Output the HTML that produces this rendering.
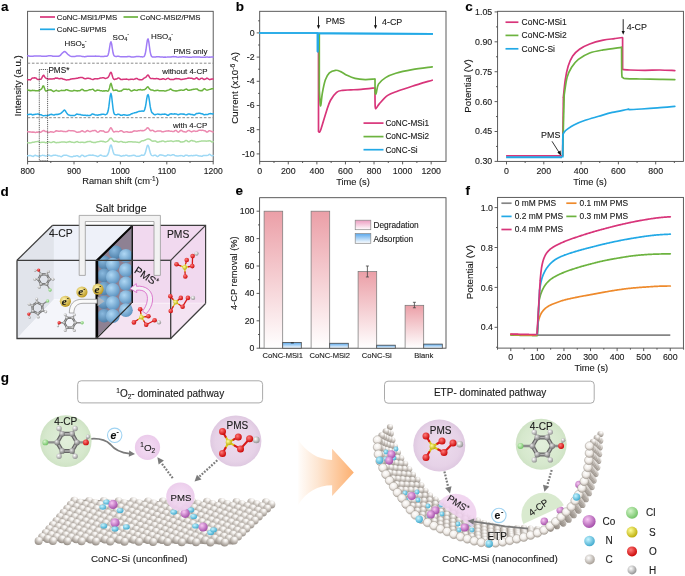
<!DOCTYPE html>
<html><head><meta charset="utf-8"><style>
html,body{margin:0;padding:0;background:#fff;}
svg{display:block;font-family:"Liberation Sans", sans-serif;will-change:transform;}
text{stroke:#1a1a1a;stroke-width:0.12px;}
</style></head><body>
<svg width="685" height="576" viewBox="0 0 685 576">
<rect width="685" height="576" fill="#fff"/>
<defs><radialGradient id="rC" cx="0.38" cy="0.35" r="0.7"><stop offset="0" stop-color="#e6e6e6"/><stop offset="1" stop-color="#6a6a6a"/></radialGradient><radialGradient id="rH" cx="0.38" cy="0.35" r="0.7"><stop offset="0" stop-color="#ffffff"/><stop offset="1" stop-color="#8c8c8c"/></radialGradient><radialGradient id="rO" cx="0.38" cy="0.35" r="0.7"><stop offset="0" stop-color="#ff7a7a"/><stop offset="1" stop-color="#c80000"/></radialGradient><radialGradient id="rCl" cx="0.38" cy="0.35" r="0.7"><stop offset="0" stop-color="#d6f5cc"/><stop offset="1" stop-color="#6cc060"/></radialGradient><radialGradient id="rS" cx="0.38" cy="0.35" r="0.7"><stop offset="0" stop-color="#ffff9a"/><stop offset="1" stop-color="#b8a800"/></radialGradient><radialGradient id="rE" cx="0.38" cy="0.35" r="0.7"><stop offset="0" stop-color="#fff4b0"/><stop offset="1" stop-color="#b89418"/></radialGradient><radialGradient id="rB" cx="0.38" cy="0.35" r="0.7"><stop offset="0" stop-color="#b0d8f4"/><stop offset="1" stop-color="#5a92c0"/></radialGradient><radialGradient id="rBd" cx="0.38" cy="0.35" r="0.7"><stop offset="0" stop-color="#8ab9de"/><stop offset="1" stop-color="#4a7ca6"/></radialGradient><radialGradient id="rCo" cx="0.38" cy="0.35" r="0.7"><stop offset="0" stop-color="#f8c8f4"/><stop offset="1" stop-color="#a048a6"/></radialGradient><radialGradient id="rN" cx="0.38" cy="0.35" r="0.7"><stop offset="0" stop-color="#c6f4ff"/><stop offset="1" stop-color="#3aa6cc"/></radialGradient><radialGradient id="rL" cx="0.38" cy="0.35" r="0.7"><stop offset="0" stop-color="#ffffff"/><stop offset="1" stop-color="#a39a91"/></radialGradient><radialGradient id="rLt" cx="0.62" cy="0.22" r="0.85"><stop offset="0" stop-color="#ffffff"/><stop offset="0.2" stop-color="#f2efec"/><stop offset="0.5" stop-color="#c8c2bc"/><stop offset="1" stop-color="#8a827a"/></radialGradient><radialGradient id="rLf" cx="0.45" cy="0.35" r="0.65"><stop offset="0" stop-color="#ffffff"/><stop offset="0.55" stop-color="#f1ede9"/><stop offset="1" stop-color="#b4aca4"/></radialGradient></defs>
<text x="0.90" y="10.90" font-size="13.5" text-anchor="start" font-weight="bold" fill="#000" >a</text>
<text x="235.80" y="11.10" font-size="13.5" text-anchor="start" font-weight="bold" fill="#000" >b</text>
<text x="465.20" y="10.70" font-size="13.5" text-anchor="start" font-weight="bold" fill="#000" >c</text>
<text x="0.60" y="195.50" font-size="13.5" text-anchor="start" font-weight="bold" fill="#000" >d</text>
<text x="235.60" y="194.60" font-size="13.5" text-anchor="start" font-weight="bold" fill="#000" >e</text>
<text x="465.60" y="194.90" font-size="13.5" text-anchor="start" font-weight="bold" fill="#000" >f</text>
<text x="0.80" y="381.50" font-size="13.5" text-anchor="start" font-weight="bold" fill="#000" >g</text>
<rect x="27.60" y="11.30" width="185.60" height="150.10" fill="none" stroke="#4a4a4a" stroke-width="0.9" />
<line x1="27.60" y1="161.40" x2="27.60" y2="164.40" stroke="#4a4a4a" stroke-width="0.9" />
<line x1="50.80" y1="161.40" x2="50.80" y2="163.00" stroke="#4a4a4a" stroke-width="0.9" />
<line x1="74.00" y1="161.40" x2="74.00" y2="164.40" stroke="#4a4a4a" stroke-width="0.9" />
<line x1="97.20" y1="161.40" x2="97.20" y2="163.00" stroke="#4a4a4a" stroke-width="0.9" />
<line x1="120.40" y1="161.40" x2="120.40" y2="164.40" stroke="#4a4a4a" stroke-width="0.9" />
<line x1="143.60" y1="161.40" x2="143.60" y2="163.00" stroke="#4a4a4a" stroke-width="0.9" />
<line x1="166.80" y1="161.40" x2="166.80" y2="164.40" stroke="#4a4a4a" stroke-width="0.9" />
<line x1="190.00" y1="161.40" x2="190.00" y2="163.00" stroke="#4a4a4a" stroke-width="0.9" />
<line x1="213.20" y1="161.40" x2="213.20" y2="164.40" stroke="#4a4a4a" stroke-width="0.9" />
<text x="27.60" y="173.50" font-size="8.5" text-anchor="middle" font-weight="normal" fill="#1a1a1a" >800</text>
<text x="74.00" y="173.50" font-size="8.5" text-anchor="middle" font-weight="normal" fill="#1a1a1a" >900</text>
<text x="120.40" y="173.50" font-size="8.5" text-anchor="middle" font-weight="normal" fill="#1a1a1a" >1000</text>
<text x="166.80" y="173.50" font-size="8.5" text-anchor="middle" font-weight="normal" fill="#1a1a1a" >1100</text>
<text x="213.20" y="173.50" font-size="8.5" text-anchor="middle" font-weight="normal" fill="#1a1a1a" >1200</text>
<text x="120.5" y="183.8" font-size="9.3" text-anchor="middle" fill="#1a1a1a">Raman shift (cm<tspan dy="-3.2" font-size="6.5">-1</tspan><tspan dy="3.2">)</tspan></text>
<text transform="translate(20.80,85.80) rotate(-90)" x="0" y="0" font-size="9.6" text-anchor="middle" fill="#1a1a1a">Intensity (a.u.)</text>
<line x1="40.00" y1="17.00" x2="55.00" y2="17.00" stroke="#d8357a" stroke-width="1.7" />
<line x1="123.50" y1="17.00" x2="138.00" y2="17.00" stroke="#6cb33f" stroke-width="1.7" />
<line x1="40.00" y1="29.30" x2="55.00" y2="29.30" stroke="#22a9e6" stroke-width="1.7" />
<text x="56.80" y="19.90" font-size="7.75" text-anchor="start" font-weight="normal" fill="#1a1a1a" >CoNC-MSi1/PMS</text>
<text x="140.10" y="19.90" font-size="7.75" text-anchor="start" font-weight="normal" fill="#1a1a1a" >CoNC-MSi2/PMS</text>
<text x="56.80" y="32.00" font-size="7.75" text-anchor="start" font-weight="normal" fill="#1a1a1a" >CoNC-Si/PMS</text>
<polyline points="27.60,55.75 28.30,55.83 29.00,56.00 29.70,56.21 30.40,56.31 31.10,56.28 31.80,56.24 32.50,56.26 33.20,56.17 33.90,56.09 34.60,56.00 35.30,55.89 36.00,55.90 36.70,55.95 37.41,56.04 38.11,56.11 38.81,56.01 39.51,56.08 40.21,56.08 40.91,56.10 41.61,56.13 42.31,56.20 43.01,56.21 43.71,56.23 44.41,56.25 45.11,56.25 45.81,56.36 46.51,56.24 47.21,56.02 47.91,55.89 48.61,55.85 49.31,55.83 50.01,55.81 50.71,55.82 51.41,55.87 52.11,56.06 52.81,56.27 53.51,56.35 54.21,56.34 54.91,56.23 55.62,56.18 56.32,56.17 57.02,56.21 57.72,56.28 58.42,56.29 59.12,56.09 59.82,55.75 60.52,55.13 61.22,54.34 61.92,53.59 62.62,52.85 63.32,52.24 64.02,51.67 64.72,51.50 65.42,51.85 66.12,52.49 66.82,53.28 67.52,54.06 68.22,54.73 68.92,55.18 69.62,55.62 70.32,56.07 71.02,56.37 71.72,56.53 72.42,56.58 73.12,56.53 73.82,56.57 74.53,56.57 75.23,56.41 75.93,56.17 76.63,56.06 77.33,55.99 78.03,55.97 78.73,56.01 79.43,56.04 80.13,56.00 80.83,56.13 81.53,56.28 82.23,56.41 82.93,56.40 83.63,56.57 84.33,56.67 85.03,56.67 85.73,56.54 86.43,56.47 87.13,56.34 87.83,56.30 88.53,56.24 89.23,56.24 89.93,56.19 90.63,56.24 91.33,56.27 92.03,56.36 92.74,56.32 93.44,56.28 94.14,56.25 94.84,56.16 95.54,56.10 96.24,56.20 96.94,56.20 97.64,56.30 98.34,56.30 99.04,56.33 99.74,56.37 100.44,56.38 101.14,56.48 101.84,56.41 102.54,56.51 103.24,56.53 103.94,56.44 104.64,56.33 105.34,56.36 106.04,56.36 106.74,56.26 107.44,55.90 108.14,54.78 108.84,52.14 109.54,47.83 110.24,43.50 110.94,41.75 111.65,43.97 112.35,48.55 113.05,52.80 113.75,55.17 114.45,56.14 115.15,56.36 115.85,56.45 116.55,56.45 117.25,56.29 117.95,56.25 118.65,56.24 119.35,56.42 120.05,56.63 120.75,56.78 121.45,56.81 122.15,56.81 122.85,56.75 123.55,56.71 124.25,56.65 124.95,56.73 125.65,56.74 126.35,56.74 127.05,56.74 127.75,56.55 128.45,56.49 129.15,56.40 129.86,56.55 130.56,56.85 131.26,56.96 131.96,57.04 132.66,57.00 133.36,56.99 134.06,56.93 134.76,56.87 135.46,56.68 136.16,56.55 136.86,56.45 137.56,56.52 138.26,56.58 138.96,56.55 139.66,56.62 140.36,56.65 141.06,56.76 141.76,56.84 142.46,56.93 143.16,56.87 143.86,56.65 144.56,55.82 145.26,53.84 145.96,49.99 146.66,44.65 147.36,40.07 148.06,38.79 148.77,41.69 149.47,46.93 150.17,51.86 150.87,54.92 151.57,56.42 152.27,56.89 152.97,56.98 153.67,57.02 154.37,56.99 155.07,56.89 155.77,56.91 156.47,56.76 157.17,56.68 157.87,56.75 158.57,56.72 159.27,56.83 159.97,56.96 160.67,56.93 161.37,56.97 162.07,57.06 162.77,57.11 163.47,57.17 164.17,57.10 164.87,57.18 165.57,57.12 166.27,57.13 166.98,57.03 167.68,56.90 168.38,56.89 169.08,56.94 169.78,56.93 170.48,57.00 171.18,56.89 171.88,56.75 172.58,56.72 173.28,56.59 173.98,56.66 174.68,56.71 175.38,56.75 176.08,56.75 176.78,56.95 177.48,57.12 178.18,57.22 178.88,57.12 179.58,57.05 180.28,56.99 180.98,56.98 181.68,56.91 182.38,56.87 183.08,56.81 183.78,56.76 184.48,56.86 185.18,56.94 185.89,57.02 186.59,57.02 187.29,57.08 187.99,57.20 188.69,57.18 189.39,57.20 190.09,57.20 190.79,57.23 191.49,57.17 192.19,57.12 192.89,57.05 193.59,56.98 194.29,57.03 194.99,57.05 195.69,57.01 196.39,57.03 197.09,57.06 197.79,57.09 198.49,57.11 199.19,57.09 199.89,57.10 200.59,57.20 201.29,57.25 201.99,57.32 202.69,57.23 203.39,57.17 204.10,57.18 204.80,57.13 205.50,57.16 206.20,57.10 206.90,57.12 207.60,57.06 208.30,57.13 209.00,57.19 209.70,57.12 210.40,57.15 211.10,56.95 211.80,56.91 212.50,56.92 213.20,56.91" fill="none" stroke="#a07cf6" stroke-width="1.5" stroke-linejoin="round" stroke-linecap="round" />
<polyline points="27.60,79.83 28.30,79.74 29.00,79.70 29.70,79.79 30.40,79.89 31.10,79.28 31.80,78.32 32.50,78.00 33.20,77.90 33.90,77.98 34.60,77.76 35.30,77.96 36.00,77.96 36.70,78.76 37.41,79.23 38.11,79.44 38.81,79.60 39.51,79.26 40.21,79.30 40.91,79.24 41.61,78.37 42.31,76.90 43.01,75.58 43.71,75.24 44.41,76.47 45.11,77.42 45.81,78.09 46.51,78.34 47.21,78.78 47.91,78.81 48.61,79.16 49.31,78.85 50.01,79.09 50.71,78.85 51.41,78.92 52.11,79.09 52.81,78.85 53.51,78.85 54.21,78.88 54.91,78.44 55.62,77.99 56.32,78.18 57.02,78.04 57.72,78.24 58.42,78.53 59.12,78.65 59.82,78.67 60.52,78.42 61.22,78.48 61.92,78.45 62.62,78.84 63.32,79.22 64.02,79.33 64.72,79.50 65.42,79.67 66.12,79.91 66.82,79.91 67.52,79.81 68.22,79.69 68.92,79.80 69.62,79.62 70.32,79.26 71.02,79.02 71.72,78.98 72.42,78.69 73.12,78.76 73.82,78.62 74.53,78.63 75.23,78.42 75.93,78.53 76.63,78.18 77.33,78.25 78.03,78.03 78.73,77.70 79.43,77.75 80.13,77.60 80.83,77.57 81.53,77.55 82.23,77.59 82.93,77.75 83.63,78.30 84.33,78.58 85.03,78.81 85.73,78.71 86.43,78.60 87.13,78.26 87.83,78.33 88.53,78.31 89.23,78.47 89.93,78.51 90.63,78.74 91.33,79.12 92.03,79.38 92.74,79.56 93.44,79.40 94.14,78.92 94.84,78.67 95.54,78.76 96.24,78.68 96.94,78.91 97.64,78.77 98.34,78.65 99.04,78.42 99.74,78.17 100.44,78.05 101.14,78.06 101.84,77.86 102.54,77.65 103.24,77.73 103.94,77.77 104.64,78.26 105.34,78.47 106.04,78.37 106.74,78.10 107.44,77.82 108.14,77.27 108.84,76.06 109.54,74.60 110.24,73.01 110.94,72.24 111.65,73.43 112.35,76.07 113.05,78.07 113.75,79.19 114.45,79.53 115.15,79.28 115.85,79.02 116.55,79.12 117.25,78.54 117.95,78.01 118.65,78.06 119.35,78.18 120.05,78.85 120.75,79.55 121.45,79.62 122.15,79.34 122.85,79.40 123.55,79.33 124.25,79.33 124.95,79.19 125.65,79.27 126.35,79.07 127.05,79.20 127.75,79.37 128.45,79.69 129.15,79.44 129.86,79.59 130.56,79.28 131.26,79.31 131.96,79.23 132.66,79.27 133.36,79.39 134.06,79.29 134.76,79.08 135.46,78.74 136.16,78.37 136.86,78.48 137.56,78.69 138.26,79.33 138.96,79.70 139.66,79.58 140.36,79.78 141.06,79.80 141.76,79.77 142.46,79.54 143.16,78.90 143.86,78.22 144.56,77.87 145.26,77.50 145.96,77.18 146.66,76.28 147.36,75.34 148.06,74.94 148.77,75.79 149.47,77.13 150.17,78.08 150.87,78.52 151.57,78.63 152.27,78.49 152.97,78.57 153.67,78.71 154.37,78.85 155.07,78.76 155.77,78.81 156.47,78.54 157.17,78.60 157.87,78.83 158.57,78.82 159.27,79.29 159.97,79.43 160.67,79.37 161.37,79.32 162.07,79.00 162.77,78.71 163.47,78.65 164.17,78.98 164.87,79.22 165.57,79.42 166.27,79.16 166.98,78.67 167.68,78.38 168.38,78.26 169.08,78.77 169.78,79.36 170.48,79.57 171.18,79.36 171.88,79.51 172.58,79.59 173.28,79.44 173.98,79.44 174.68,78.93 175.38,78.69 176.08,78.53 176.78,78.79 177.48,78.81 178.18,78.81 178.88,78.74 179.58,79.10 180.28,79.26 180.98,79.59 181.68,79.61 182.38,79.22 183.08,79.17 183.78,79.11 184.48,78.95 185.18,78.85 185.89,78.77 186.59,78.63 187.29,78.37 187.99,78.30 188.69,77.96 189.39,78.12 190.09,78.18 190.79,78.29 191.49,78.36 192.19,78.33 192.89,78.78 193.59,78.97 194.29,79.07 194.99,78.84 195.69,78.26 196.39,77.74 197.09,78.02 197.79,78.67 198.49,79.34 199.19,79.56 199.89,79.37 200.59,78.57 201.29,78.39 201.99,78.20 202.69,78.52 203.39,79.18 204.10,79.59 204.80,79.30 205.50,79.11 206.20,78.58 206.90,78.09 207.60,78.46 208.30,78.93 209.00,79.31 209.70,79.71 210.40,79.37 211.10,79.31 211.80,79.07 212.50,78.96 213.20,78.93" fill="none" stroke="#d8357a" stroke-width="1.5" stroke-linejoin="round" stroke-linecap="round" />
<polyline points="27.60,89.87 28.30,90.18 29.00,90.24 29.70,90.69 30.40,90.62 31.10,90.70 31.80,90.58 32.50,90.30 33.20,90.48 33.90,90.42 34.60,90.54 35.30,90.82 36.00,90.64 36.70,90.70 37.41,90.79 38.11,90.85 38.81,90.42 39.51,89.90 40.21,89.75 40.91,89.34 41.61,88.92 42.31,87.52 43.01,85.89 43.71,85.99 44.41,87.97 45.11,90.10 45.81,91.07 46.51,91.00 47.21,90.56 47.91,90.22 48.61,89.96 49.31,89.92 50.01,89.99 50.71,89.81 51.41,89.93 52.11,90.70 52.81,91.19 53.51,91.56 54.21,91.22 54.91,90.93 55.62,90.56 56.32,90.23 57.02,90.60 57.72,90.92 58.42,90.98 59.12,91.18 59.82,90.89 60.52,90.64 61.22,90.33 61.92,90.47 62.62,90.60 63.32,90.50 64.02,90.56 64.72,90.56 65.42,90.24 66.12,89.64 66.82,89.63 67.52,89.95 68.22,90.28 68.92,90.60 69.62,90.64 70.32,90.83 71.02,91.10 71.72,91.10 72.42,91.02 73.12,90.86 73.82,90.34 74.53,90.42 75.23,90.59 75.93,90.63 76.63,90.75 77.33,90.96 78.03,90.72 78.73,90.64 79.43,90.68 80.13,90.62 80.83,89.95 81.53,89.51 82.23,89.29 82.93,89.75 83.63,90.20 84.33,90.85 85.03,90.74 85.73,90.69 86.43,90.65 87.13,90.62 87.83,90.41 88.53,90.12 89.23,89.84 89.93,89.84 90.63,89.63 91.33,89.61 92.03,89.40 92.74,89.13 93.44,89.59 94.14,90.48 94.84,90.99 95.54,91.10 96.24,90.68 96.94,90.27 97.64,90.10 98.34,90.32 99.04,90.33 99.74,90.55 100.44,90.66 101.14,90.73 101.84,90.86 102.54,91.14 103.24,90.90 103.94,90.75 104.64,90.91 105.34,90.79 106.04,90.84 106.74,90.81 107.44,91.13 108.14,91.08 108.84,90.01 109.54,87.89 110.24,84.77 110.94,83.29 111.65,85.07 112.35,88.06 113.05,90.03 113.75,90.55 114.45,90.36 115.15,90.23 115.85,89.94 116.55,90.22 117.25,90.35 117.95,91.04 118.65,91.13 119.35,91.18 120.05,91.12 120.75,91.07 121.45,90.91 122.15,90.24 122.85,89.80 123.55,89.13 124.25,89.13 124.95,89.28 125.65,89.26 126.35,89.24 127.05,89.44 127.75,89.39 128.45,89.36 129.15,89.37 129.86,89.96 130.56,90.48 131.26,91.08 131.96,90.95 132.66,90.54 133.36,90.19 134.06,90.00 134.76,89.82 135.46,90.17 136.16,90.37 136.86,90.39 137.56,90.25 138.26,89.70 138.96,89.66 139.66,89.69 140.36,89.55 141.06,89.79 141.76,89.91 142.46,89.98 143.16,89.85 143.86,89.74 144.56,89.71 145.26,89.18 145.96,88.60 146.66,87.73 147.36,86.94 148.06,86.84 148.77,87.87 149.47,88.87 150.17,89.38 150.87,89.92 151.57,90.00 152.27,90.04 152.97,90.15 153.67,90.49 154.37,90.73 155.07,90.76 155.77,90.59 156.47,90.45 157.17,90.21 157.87,90.33 158.57,90.54 159.27,90.64 159.97,90.68 160.67,90.71 161.37,90.71 162.07,90.72 162.77,90.75 163.47,90.66 164.17,90.91 164.87,90.95 165.57,90.91 166.27,90.71 166.98,90.47 167.68,90.32 168.38,90.13 169.08,89.86 169.78,89.35 170.48,89.01 171.18,89.29 171.88,89.89 172.58,90.25 173.28,90.58 173.98,90.63 174.68,90.86 175.38,90.95 176.08,90.78 176.78,90.91 177.48,90.82 178.18,90.60 178.88,90.60 179.58,90.23 180.28,90.17 180.98,89.98 181.68,90.10 182.38,90.19 183.08,90.26 183.78,90.29 184.48,89.95 185.18,89.36 185.89,89.19 186.59,89.03 187.29,89.50 187.99,90.24 188.69,90.30 189.39,90.25 190.09,90.04 190.79,90.09 191.49,89.77 192.19,89.58 192.89,89.60 193.59,89.15 194.29,89.33 194.99,89.12 195.69,88.98 196.39,88.89 197.09,88.92 197.79,89.58 198.49,89.99 199.19,90.54 199.89,90.51 200.59,90.68 201.29,90.58 201.99,90.79 202.69,90.34 203.39,89.26 204.10,88.76 204.80,88.86 205.50,89.44 206.20,89.86 206.90,90.18 207.60,90.09 208.30,89.90 209.00,89.63 209.70,89.38 210.40,89.25 211.10,89.03 211.80,88.83 212.50,88.82 213.20,88.80" fill="none" stroke="#6cb33f" stroke-width="1.5" stroke-linejoin="round" stroke-linecap="round" />
<polyline points="27.60,114.53 28.30,114.54 29.00,114.45 29.70,114.29 30.40,114.34 31.10,114.21 31.80,114.52 32.50,114.89 33.20,114.82 33.90,114.55 34.60,114.52 35.30,114.31 36.00,114.34 36.70,114.12 37.41,114.02 38.11,114.07 38.81,114.13 39.51,114.46 40.21,114.85 40.91,114.74 41.61,114.94 42.31,115.35 43.01,115.65 43.71,115.83 44.41,115.62 45.11,115.50 45.81,115.40 46.51,115.65 47.21,115.45 47.91,115.36 48.61,115.29 49.31,115.00 50.01,114.60 50.71,114.43 51.41,114.28 52.11,114.45 52.81,114.82 53.51,114.88 54.21,115.03 54.91,114.58 55.62,114.51 56.32,114.51 57.02,114.35 57.72,114.43 58.42,114.19 59.12,114.04 59.82,113.92 60.52,113.48 61.22,113.10 61.92,112.38 62.62,111.77 63.32,110.95 64.02,110.21 64.72,110.10 65.42,110.97 66.12,112.14 66.82,113.14 67.52,113.96 68.22,114.74 68.92,114.92 69.62,115.13 70.32,115.50 71.02,115.43 71.72,115.56 72.42,115.39 73.12,115.53 73.82,115.45 74.53,115.48 75.23,115.18 75.93,114.63 76.63,114.12 77.33,114.10 78.03,114.36 78.73,114.46 79.43,114.52 80.13,114.41 80.83,114.73 81.53,115.01 82.23,115.06 82.93,115.15 83.63,115.14 84.33,115.25 85.03,115.28 85.73,115.22 86.43,115.51 87.13,115.58 87.83,115.33 88.53,115.61 89.23,115.62 89.93,115.54 90.63,115.11 91.33,114.78 92.03,113.98 92.74,114.04 93.44,114.19 94.14,114.41 94.84,114.77 95.54,114.97 96.24,114.98 96.94,115.08 97.64,115.17 98.34,114.92 99.04,114.73 99.74,114.88 100.44,114.55 101.14,114.68 101.84,114.20 102.54,114.18 103.24,114.13 103.94,114.32 104.64,114.45 105.34,114.70 106.04,114.41 106.74,114.08 107.44,112.90 108.14,110.78 108.84,106.69 109.54,100.94 110.24,95.61 110.94,93.38 111.65,96.24 112.35,102.54 113.05,108.57 113.75,112.65 114.45,114.27 115.15,114.55 115.85,114.64 116.55,114.73 117.25,114.48 117.95,114.14 118.65,114.31 119.35,114.55 120.05,114.79 120.75,115.33 121.45,115.36 122.15,115.29 122.85,114.87 123.55,114.66 124.25,114.75 124.95,115.09 125.65,115.05 126.35,115.15 127.05,115.26 127.75,115.26 128.45,115.06 129.15,114.95 129.86,114.81 130.56,114.39 131.26,113.82 131.96,113.85 132.66,113.38 133.36,113.12 134.06,112.99 134.76,112.66 135.46,112.64 136.16,112.34 136.86,112.38 137.56,111.89 138.26,111.59 138.96,111.47 139.66,111.32 140.36,111.23 141.06,111.18 141.76,111.07 142.46,110.99 143.16,111.19 143.86,111.03 144.56,109.91 145.26,107.59 145.96,103.79 146.66,99.17 147.36,95.56 148.06,94.60 148.77,96.57 149.47,101.13 150.17,106.17 150.87,109.82 151.57,111.99 152.27,112.97 152.97,113.40 153.67,114.13 154.37,114.47 155.07,114.79 155.77,114.48 156.47,114.38 157.17,114.13 157.87,114.04 158.57,114.14 159.27,114.24 159.97,114.57 160.67,114.44 161.37,114.49 162.07,114.28 162.77,114.23 163.47,114.21 164.17,114.31 164.87,114.02 165.57,114.23 166.27,114.39 166.98,114.97 167.68,115.29 168.38,115.33 169.08,114.67 169.78,114.13 170.48,113.92 171.18,113.73 171.88,114.03 172.58,114.09 173.28,114.14 173.98,113.96 174.68,113.79 175.38,113.93 176.08,113.89 176.78,114.13 177.48,114.46 178.18,114.74 178.88,114.45 179.58,114.33 180.28,114.03 180.98,113.91 181.68,114.05 182.38,114.05 183.08,114.17 183.78,113.93 184.48,114.29 185.18,114.60 185.89,114.85 186.59,114.79 187.29,114.58 187.99,114.09 188.69,114.08 189.39,113.98 190.09,114.21 190.79,114.47 191.49,114.47 192.19,114.50 192.89,114.74 193.59,114.99 194.29,115.07 194.99,114.71 195.69,114.05 196.39,113.47 197.09,113.43 197.79,113.53 198.49,113.34 199.19,113.36 199.89,113.29 200.59,113.47 201.29,113.69 201.99,113.78 202.69,114.03 203.39,114.37 204.10,114.86 204.80,114.78 205.50,114.55 206.20,114.40 206.90,114.60 207.60,114.50 208.30,114.20 209.00,113.83 209.70,113.63 210.40,113.61 211.10,113.73 211.80,113.77 212.50,113.98 213.20,113.88" fill="none" stroke="#22a9e6" stroke-width="1.5" stroke-linejoin="round" stroke-linecap="round" />
<polyline points="27.60,131.70 28.30,131.79 29.00,131.96 29.70,131.84 30.40,132.06 31.10,132.10 31.80,132.16 32.50,131.94 33.20,132.23 33.90,132.07 34.60,132.26 35.30,132.40 36.00,132.44 36.70,132.12 37.41,132.15 38.11,131.98 38.81,131.99 39.51,132.13 40.21,132.21 40.91,132.13 41.61,131.62 42.31,131.08 43.01,130.71 43.71,130.52 44.41,130.79 45.11,131.40 45.81,131.41 46.51,131.55 47.21,131.86 47.91,132.29 48.61,132.44 49.31,132.17 50.01,131.93 50.71,131.65 51.41,131.92 52.11,131.82 52.81,132.15 53.51,132.36 54.21,131.93 54.91,131.53 55.62,131.02 56.32,130.72 57.02,130.93 57.72,131.00 58.42,131.33 59.12,131.26 59.82,131.34 60.52,131.00 61.22,130.93 61.92,131.15 62.62,131.31 63.32,131.57 64.02,131.51 64.72,131.54 65.42,131.63 66.12,131.57 66.82,131.50 67.52,131.23 68.22,130.71 68.92,130.46 69.62,130.63 70.32,130.76 71.02,130.81 71.72,130.86 72.42,130.83 73.12,130.80 73.82,130.90 74.53,131.08 75.23,131.40 75.93,131.74 76.63,132.27 77.33,132.32 78.03,132.21 78.73,132.08 79.43,132.03 80.13,131.78 80.83,131.45 81.53,130.87 82.23,130.73 82.93,131.06 83.63,131.52 84.33,131.83 85.03,132.11 85.73,131.66 86.43,131.12 87.13,130.57 87.83,130.76 88.53,130.99 89.23,131.49 89.93,131.62 90.63,131.58 91.33,131.17 92.03,130.86 92.74,130.60 93.44,130.63 94.14,130.56 94.84,130.51 95.54,130.43 96.24,131.10 96.94,131.79 97.64,132.17 98.34,132.12 99.04,131.65 99.74,131.02 100.44,130.81 101.14,130.70 101.84,130.91 102.54,130.94 103.24,130.84 103.94,131.32 104.64,131.93 105.34,132.37 106.04,132.22 106.74,132.31 107.44,132.09 108.14,131.82 108.84,130.97 109.54,129.62 110.24,128.26 110.94,127.70 111.65,128.54 112.35,129.88 113.05,131.27 113.75,131.92 114.45,131.95 115.15,131.55 115.85,131.50 116.55,131.51 117.25,131.43 117.95,131.66 118.65,131.63 119.35,131.38 120.05,131.04 120.75,130.78 121.45,130.70 122.15,131.11 122.85,131.64 123.55,132.18 124.25,132.15 124.95,132.05 125.65,131.85 126.35,131.64 127.05,131.93 127.75,131.86 128.45,132.18 129.15,132.20 129.86,132.20 130.56,132.06 131.26,132.23 131.96,132.02 132.66,131.55 133.36,131.25 134.06,130.81 134.76,130.95 135.46,130.93 136.16,131.05 136.86,131.18 137.56,131.06 138.26,130.79 138.96,130.78 139.66,130.69 140.36,130.60 141.06,130.51 141.76,130.64 142.46,130.61 143.16,130.65 143.86,130.53 144.56,130.20 145.26,129.79 145.96,129.42 146.66,128.43 147.36,127.80 148.06,127.90 148.77,128.62 149.47,129.52 150.17,130.46 150.87,130.73 151.57,130.40 152.27,130.25 152.97,130.38 153.67,130.89 154.37,131.59 155.07,131.61 155.77,131.64 156.47,131.37 157.17,131.04 157.87,130.89 158.57,131.09 159.27,130.92 159.97,130.88 160.67,130.94 161.37,131.48 162.07,131.72 162.77,131.85 163.47,131.80 164.17,131.44 164.87,131.35 165.57,131.22 166.27,131.09 166.98,131.10 167.68,131.02 168.38,130.78 169.08,131.04 169.78,131.09 170.48,131.36 171.18,131.37 171.88,131.37 172.58,131.54 173.28,131.57 173.98,131.54 174.68,130.83 175.38,130.50 176.08,130.43 176.78,131.00 177.48,131.71 178.18,132.24 178.88,131.92 179.58,131.46 180.28,130.59 180.98,130.31 181.68,130.50 182.38,131.03 183.08,131.61 183.78,131.74 184.48,131.76 185.18,131.94 185.89,131.95 186.59,131.70 187.29,131.23 187.99,130.65 188.69,130.41 189.39,130.59 190.09,131.05 190.79,131.45 191.49,131.89 192.19,131.60 192.89,131.32 193.59,131.08 194.29,131.02 194.99,131.09 195.69,131.39 196.39,131.34 197.09,131.24 197.79,130.99 198.49,130.36 199.19,130.18 199.89,130.35 200.59,130.15 201.29,130.41 201.99,130.37 202.69,130.36 203.39,130.42 204.10,130.65 204.80,130.80 205.50,131.06 206.20,131.76 206.90,132.13 207.60,131.92 208.30,131.31 209.00,130.70 209.70,130.63 210.40,130.94 211.10,131.15 211.80,131.56 212.50,131.82 213.20,131.91" fill="none" stroke="#ec8ab0" stroke-width="1.5" stroke-linejoin="round" stroke-linecap="round" />
<polyline points="27.60,142.74 28.30,142.89 29.00,142.73 29.70,142.91 30.40,142.88 31.10,142.69 31.80,142.52 32.50,142.25 33.20,142.30 33.90,142.17 34.60,141.96 35.30,141.87 36.00,141.86 36.70,141.63 37.41,141.40 38.11,141.50 38.81,141.62 39.51,142.08 40.21,142.49 40.91,142.39 41.61,142.26 42.31,142.16 43.01,142.19 43.71,142.17 44.41,142.30 45.11,142.52 45.81,142.71 46.51,142.43 47.21,142.23 47.91,142.13 48.61,142.01 49.31,142.09 50.01,142.39 50.71,142.57 51.41,142.45 52.11,142.24 52.81,141.91 53.51,141.86 54.21,141.86 54.91,142.24 55.62,142.62 56.32,142.71 57.02,142.55 57.72,142.56 58.42,142.45 59.12,142.44 59.82,142.30 60.52,142.17 61.22,142.08 61.92,141.93 62.62,141.93 63.32,142.10 64.02,142.04 64.72,142.07 65.42,142.33 66.12,142.25 66.82,142.40 67.52,142.10 68.22,141.92 68.92,141.67 69.62,141.50 70.32,141.71 71.02,142.11 71.72,142.15 72.42,142.16 73.12,142.39 73.82,142.54 74.53,142.50 75.23,142.29 75.93,141.86 76.63,141.65 77.33,141.58 78.03,141.95 78.73,142.28 79.43,142.38 80.13,142.48 80.83,142.29 81.53,142.21 82.23,142.31 82.93,142.31 83.63,142.51 84.33,142.52 85.03,142.54 85.73,142.18 86.43,142.02 87.13,141.61 87.83,141.68 88.53,141.62 89.23,141.46 89.93,141.37 90.63,141.43 91.33,141.91 92.03,142.33 92.74,142.31 93.44,142.50 94.14,142.49 94.84,142.37 95.54,142.43 96.24,142.17 96.94,141.90 97.64,141.85 98.34,141.63 99.04,141.60 99.74,141.43 100.44,141.17 101.14,141.35 101.84,141.21 102.54,141.44 103.24,141.33 103.94,141.68 104.64,141.83 105.34,142.13 106.04,141.87 106.74,141.63 107.44,141.38 108.14,140.73 108.84,139.97 109.54,139.07 110.24,138.42 110.94,138.19 111.65,138.47 112.35,139.56 113.05,140.48 113.75,141.30 114.45,141.49 115.15,141.34 115.85,141.18 116.55,141.43 117.25,141.54 117.95,141.91 118.65,142.00 119.35,141.91 120.05,141.62 120.75,141.46 121.45,141.55 122.15,141.68 122.85,142.16 123.55,142.32 124.25,142.36 124.95,142.32 125.65,142.40 126.35,142.34 127.05,142.20 127.75,141.96 128.45,141.81 129.15,141.82 129.86,141.75 130.56,141.77 131.26,141.86 131.96,141.85 132.66,141.96 133.36,142.04 134.06,142.00 134.76,141.93 135.46,142.02 136.16,142.09 136.86,142.13 137.56,142.17 138.26,142.41 138.96,142.39 139.66,142.38 140.36,141.95 141.06,141.30 141.76,140.85 142.46,140.63 143.16,140.69 143.86,140.69 144.56,140.24 145.26,139.98 145.96,139.63 146.66,139.31 147.36,139.10 148.06,139.09 148.77,138.89 149.47,139.20 150.17,139.46 150.87,140.11 151.57,140.60 152.27,141.15 152.97,141.34 153.67,141.06 154.37,140.93 155.07,140.95 155.77,141.08 156.47,141.62 157.17,142.10 157.87,142.21 158.57,141.87 159.27,141.76 159.97,141.48 160.67,141.40 161.37,141.38 162.07,140.91 162.77,140.99 163.47,141.09 164.17,141.39 164.87,141.71 165.57,141.77 166.27,141.54 166.98,141.35 167.68,141.12 168.38,141.24 169.08,141.16 169.78,141.08 170.48,140.90 171.18,141.04 171.88,141.12 172.58,141.42 173.28,141.47 173.98,141.41 174.68,141.12 175.38,140.93 176.08,140.91 176.78,140.78 177.48,140.94 178.18,140.83 178.88,141.00 179.58,141.30 180.28,141.89 180.98,141.86 181.68,142.03 182.38,141.93 183.08,141.71 183.78,141.76 184.48,141.29 185.18,140.87 185.89,140.51 186.59,140.55 187.29,140.92 187.99,141.59 188.69,141.68 189.39,141.65 190.09,141.13 190.79,140.64 191.49,140.54 192.19,140.59 192.89,140.97 193.59,140.99 194.29,141.10 194.99,141.35 195.69,141.72 196.39,141.93 197.09,141.84 197.79,141.65 198.49,141.66 199.19,141.40 199.89,141.37 200.59,141.26 201.29,141.03 201.99,141.07 202.69,141.06 203.39,141.03 204.10,140.96 204.80,141.08 205.50,141.05 206.20,141.15 206.90,141.07 207.60,141.05 208.30,140.92 209.00,140.68 209.70,140.71 210.40,141.03 211.10,141.39 211.80,142.02 212.50,142.04 213.20,141.59" fill="none" stroke="#aadc9c" stroke-width="1.5" stroke-linejoin="round" stroke-linecap="round" />
<polyline points="27.60,155.78 28.30,155.75 29.00,155.70 29.70,155.38 30.40,155.49 31.10,155.66 31.80,156.04 32.50,156.31 33.20,156.48 33.90,155.91 34.60,155.49 35.30,155.28 36.00,155.54 36.70,155.64 37.41,156.09 38.11,156.23 38.81,156.25 39.51,156.10 40.21,156.00 40.91,155.78 41.61,155.63 42.31,155.37 43.01,155.37 43.71,155.46 44.41,155.53 45.11,155.88 45.81,156.05 46.51,155.87 47.21,155.59 47.91,155.29 48.61,155.12 49.31,155.24 50.01,155.68 50.71,155.89 51.41,155.92 52.11,155.80 52.81,155.43 53.51,155.22 54.21,155.25 54.91,155.28 55.62,155.11 56.32,155.37 57.02,155.48 57.72,155.76 58.42,155.95 59.12,155.90 59.82,156.14 60.52,156.36 61.22,156.72 61.92,156.41 62.62,155.92 63.32,155.43 64.02,155.17 64.72,155.26 65.42,155.24 66.12,155.29 66.82,155.37 67.52,155.57 68.22,155.96 68.92,156.09 69.62,156.41 70.32,156.54 71.02,156.64 71.72,156.81 72.42,156.72 73.12,156.45 73.82,156.11 74.53,156.23 75.23,156.19 75.93,155.88 76.63,155.77 77.33,155.68 78.03,156.03 78.73,156.55 79.43,156.82 80.13,156.80 80.83,155.94 81.53,155.20 82.23,155.16 82.93,155.35 83.63,155.85 84.33,156.52 85.03,156.47 85.73,156.31 86.43,155.99 87.13,155.63 87.83,155.52 88.53,155.29 89.23,155.21 89.93,155.09 90.63,155.26 91.33,155.16 92.03,155.21 92.74,155.07 93.44,155.13 94.14,155.45 94.84,155.62 95.54,155.64 96.24,155.93 96.94,156.33 97.64,156.55 98.34,156.27 99.04,155.90 99.74,155.37 100.44,155.07 101.14,155.22 101.84,155.60 102.54,155.86 103.24,156.06 103.94,156.16 104.64,156.05 105.34,156.22 106.04,156.18 106.74,155.88 107.44,155.10 108.14,153.89 108.84,151.78 109.54,148.76 110.24,145.91 110.94,144.93 111.65,146.22 112.35,148.91 113.05,151.56 113.75,153.56 114.45,154.55 115.15,154.66 115.85,154.92 116.55,155.04 117.25,155.11 117.95,155.20 118.65,155.16 119.35,155.26 120.05,155.81 120.75,155.98 121.45,156.18 122.15,156.09 122.85,155.71 123.55,155.57 124.25,155.70 124.95,155.56 125.65,155.30 126.35,155.24 127.05,155.33 127.75,155.75 128.45,155.91 129.15,155.77 129.86,155.91 130.56,155.85 131.26,155.66 131.96,155.54 132.66,155.50 133.36,155.25 134.06,155.14 134.76,155.54 135.46,155.79 136.16,156.12 136.86,156.39 137.56,156.20 138.26,156.25 138.96,156.17 139.66,155.94 140.36,155.70 141.06,155.34 141.76,155.07 142.46,155.18 143.16,155.20 143.86,155.18 144.56,154.44 145.26,153.11 145.96,150.49 146.66,147.66 147.36,145.49 148.06,145.23 148.77,146.76 149.47,149.76 150.17,152.38 150.87,154.32 151.57,155.35 152.27,155.65 152.97,155.85 153.67,155.51 154.37,155.14 155.07,155.25 155.77,155.35 156.47,155.97 157.17,156.50 157.87,156.49 158.57,155.93 159.27,155.31 159.97,154.85 160.67,154.93 161.37,154.93 162.07,155.29 162.77,155.31 163.47,155.42 164.17,155.82 164.87,155.98 165.57,156.05 166.27,155.80 166.98,155.37 167.68,154.86 168.38,154.89 169.08,155.07 169.78,155.33 170.48,155.54 171.18,155.35 171.88,155.05 172.58,154.70 173.28,154.71 173.98,154.90 174.68,155.44 175.38,155.86 176.08,155.75 176.78,155.89 177.48,156.08 178.18,156.10 178.88,155.85 179.58,155.71 180.28,155.66 180.98,155.47 181.68,155.62 182.38,155.80 183.08,156.19 183.78,156.26 184.48,156.01 185.18,155.34 185.89,155.17 186.59,155.15 187.29,155.23 187.99,155.75 188.69,155.95 189.39,155.70 190.09,155.84 190.79,155.60 191.49,155.59 192.19,155.73 192.89,155.67 193.59,155.46 194.29,155.52 194.99,155.47 195.69,155.32 196.39,155.21 197.09,155.31 197.79,155.69 198.49,155.77 199.19,156.06 199.89,156.06 200.59,156.01 201.29,156.18 201.99,156.27 202.69,155.99 203.39,155.48 204.10,155.47 204.80,155.40 205.50,155.57 206.20,155.46 206.90,155.59 207.60,155.36 208.30,155.13 209.00,154.54 209.70,154.33 210.40,154.70 211.10,155.34 211.80,155.72 212.50,155.63 213.20,155.56" fill="none" stroke="#9fd9f5" stroke-width="1.5" stroke-linejoin="round" stroke-linecap="round" />
<line x1="27.60" y1="63.20" x2="213.20" y2="63.20" stroke="#8a8a8a" stroke-width="1.0" stroke-dasharray="2.6,1.7"/>
<line x1="27.60" y1="117.70" x2="213.20" y2="117.70" stroke="#8a8a8a" stroke-width="1.0" stroke-dasharray="2.6,1.7"/>
<rect x="39.30" y="69.50" width="8.30" height="91.20" fill="none" stroke="#2a2a2a" stroke-width="0.8" stroke-dasharray="1.0,0.9"/>
<text x="64.4" y="46.2" font-size="8" fill="#1a1a1a">HSO<tspan dy="1.8" font-size="5.5">5</tspan><tspan dy="-5" font-size="5.5">-</tspan></text>
<text x="112.6" y="39.6" font-size="8" fill="#1a1a1a">SO<tspan dy="1.8" font-size="5.5">4</tspan><tspan dy="-5" font-size="5.5">-</tspan></text>
<text x="150.9" y="39.0" font-size="8" fill="#1a1a1a">HSO<tspan dy="1.8" font-size="5.5">4</tspan><tspan dy="-5" font-size="5.5">-</tspan></text>
<text x="207.40" y="53.60" font-size="7.9" text-anchor="end" font-weight="normal" fill="#1a1a1a" >PMS only</text>
<text x="207.40" y="74.10" font-size="7.9" text-anchor="end" font-weight="normal" fill="#1a1a1a" >without 4-CP</text>
<text x="207.30" y="127.70" font-size="7.9" text-anchor="end" font-weight="normal" fill="#1a1a1a" >with 4-CP</text>
<text x="48.40" y="73.30" font-size="8.2" text-anchor="start" font-weight="normal" fill="#1a1a1a" >PMS*</text>
<rect x="259.70" y="11.30" width="186.30" height="150.10" fill="none" stroke="#4a4a4a" stroke-width="0.9" />
<line x1="259.70" y1="161.40" x2="259.70" y2="164.40" stroke="#4a4a4a" stroke-width="0.9" />
<line x1="273.99" y1="161.40" x2="273.99" y2="163.00" stroke="#4a4a4a" stroke-width="0.9" />
<line x1="288.28" y1="161.40" x2="288.28" y2="164.40" stroke="#4a4a4a" stroke-width="0.9" />
<line x1="302.57" y1="161.40" x2="302.57" y2="163.00" stroke="#4a4a4a" stroke-width="0.9" />
<line x1="316.86" y1="161.40" x2="316.86" y2="164.40" stroke="#4a4a4a" stroke-width="0.9" />
<line x1="331.15" y1="161.40" x2="331.15" y2="163.00" stroke="#4a4a4a" stroke-width="0.9" />
<line x1="345.44" y1="161.40" x2="345.44" y2="164.40" stroke="#4a4a4a" stroke-width="0.9" />
<line x1="359.73" y1="161.40" x2="359.73" y2="163.00" stroke="#4a4a4a" stroke-width="0.9" />
<line x1="374.02" y1="161.40" x2="374.02" y2="164.40" stroke="#4a4a4a" stroke-width="0.9" />
<line x1="388.31" y1="161.40" x2="388.31" y2="163.00" stroke="#4a4a4a" stroke-width="0.9" />
<line x1="402.60" y1="161.40" x2="402.60" y2="164.40" stroke="#4a4a4a" stroke-width="0.9" />
<line x1="416.89" y1="161.40" x2="416.89" y2="163.00" stroke="#4a4a4a" stroke-width="0.9" />
<line x1="431.18" y1="161.40" x2="431.18" y2="164.40" stroke="#4a4a4a" stroke-width="0.9" />
<text x="259.70" y="174.00" font-size="8.8" text-anchor="middle" font-weight="normal" fill="#1a1a1a" >0</text>
<text x="288.28" y="174.00" font-size="8.8" text-anchor="middle" font-weight="normal" fill="#1a1a1a" >200</text>
<text x="316.86" y="174.00" font-size="8.8" text-anchor="middle" font-weight="normal" fill="#1a1a1a" >400</text>
<text x="345.44" y="174.00" font-size="8.8" text-anchor="middle" font-weight="normal" fill="#1a1a1a" >600</text>
<text x="374.02" y="174.00" font-size="8.8" text-anchor="middle" font-weight="normal" fill="#1a1a1a" >800</text>
<text x="402.60" y="174.00" font-size="8.8" text-anchor="middle" font-weight="normal" fill="#1a1a1a" >1000</text>
<text x="431.18" y="174.00" font-size="8.8" text-anchor="middle" font-weight="normal" fill="#1a1a1a" >1200</text>
<line x1="259.70" y1="20.80" x2="258.10" y2="20.80" stroke="#4a4a4a" stroke-width="0.9" />
<line x1="259.70" y1="32.90" x2="256.70" y2="32.90" stroke="#4a4a4a" stroke-width="0.9" />
<line x1="259.70" y1="45.00" x2="258.10" y2="45.00" stroke="#4a4a4a" stroke-width="0.9" />
<line x1="259.70" y1="57.10" x2="256.70" y2="57.10" stroke="#4a4a4a" stroke-width="0.9" />
<line x1="259.70" y1="69.20" x2="258.10" y2="69.20" stroke="#4a4a4a" stroke-width="0.9" />
<line x1="259.70" y1="81.30" x2="256.70" y2="81.30" stroke="#4a4a4a" stroke-width="0.9" />
<line x1="259.70" y1="93.40" x2="258.10" y2="93.40" stroke="#4a4a4a" stroke-width="0.9" />
<line x1="259.70" y1="105.50" x2="256.70" y2="105.50" stroke="#4a4a4a" stroke-width="0.9" />
<line x1="259.70" y1="117.60" x2="258.10" y2="117.60" stroke="#4a4a4a" stroke-width="0.9" />
<line x1="259.70" y1="129.70" x2="256.70" y2="129.70" stroke="#4a4a4a" stroke-width="0.9" />
<line x1="259.70" y1="141.80" x2="258.10" y2="141.80" stroke="#4a4a4a" stroke-width="0.9" />
<line x1="259.70" y1="153.90" x2="256.70" y2="153.90" stroke="#4a4a4a" stroke-width="0.9" />
<text x="254.60" y="35.80" font-size="8.8" text-anchor="end" font-weight="normal" fill="#1a1a1a" >0</text>
<text x="254.60" y="60.00" font-size="8.8" text-anchor="end" font-weight="normal" fill="#1a1a1a" >-2</text>
<text x="254.60" y="84.20" font-size="8.8" text-anchor="end" font-weight="normal" fill="#1a1a1a" >-4</text>
<text x="254.60" y="108.40" font-size="8.8" text-anchor="end" font-weight="normal" fill="#1a1a1a" >-6</text>
<text x="254.60" y="132.60" font-size="8.8" text-anchor="end" font-weight="normal" fill="#1a1a1a" >-8</text>
<text x="254.60" y="156.80" font-size="8.8" text-anchor="end" font-weight="normal" fill="#1a1a1a" >-10</text>
<text x="353.00" y="185.30" font-size="9.3" text-anchor="middle" font-weight="normal" fill="#1a1a1a" >Time (s)</text>
<text transform="translate(237.8,87.8) rotate(-90)" font-size="9.7" text-anchor="middle" fill="#1a1a1a">Current (x10<tspan dy="-3.3" font-size="6.8">-6</tspan><tspan dy="3.3"> A)</tspan></text>
<line x1="318.50" y1="16.40" x2="318.50" y2="26.50" stroke="#111" stroke-width="0.9" />
<path d="M316.90,25.2 L320.10,25.2 L318.50,29.0 Z" fill="#111"/>
<line x1="375.50" y1="16.40" x2="375.50" y2="26.50" stroke="#111" stroke-width="0.9" />
<path d="M373.90,25.2 L377.10,25.2 L375.50,29.0 Z" fill="#111"/>
<text x="325.80" y="24.20" font-size="8.9" text-anchor="start" font-weight="normal" fill="#1a1a1a" >PMS</text>
<text x="382.00" y="24.80" font-size="8.9" text-anchor="start" font-weight="normal" fill="#1a1a1a" >4-CP</text>
<polyline points="259.70,33.00 317.60,33.00 317.60,51.50 318.20,51.50 318.60,33.30 330.00,33.40 432.20,33.90" fill="none" stroke="#22a9e6" stroke-width="1.7" stroke-linejoin="round" stroke-linecap="round" />
<line x1="318.50" y1="33.00" x2="318.50" y2="131.50" stroke="#d8357a" stroke-width="1.7" />
<path d="M318.60,131.60 C318.77,131.67 319.17,132.52 319.60,132.00 C320.03,131.48 320.08,131.88 321.20,128.50 C322.32,125.12 324.77,116.37 326.30,111.70 C327.83,107.03 328.68,103.73 330.40,100.50 C332.12,97.27 334.55,94.00 336.60,92.30 C338.65,90.60 340.32,90.70 342.70,90.30 C345.08,89.90 347.83,90.07 350.90,89.90 C353.97,89.73 357.12,89.62 361.10,89.30 C365.08,88.98 372.52,88.22 374.80,88.00" fill="none" stroke="#d8357a" stroke-width="1.7" stroke-linejoin="round" stroke-linecap="round" />
<path d="M375.00,88.00 C375.03,91.13 374.93,103.53 375.20,106.80 C375.47,110.07 375.88,108.13 376.60,107.60 C377.32,107.07 377.65,105.63 379.50,103.60 C381.35,101.57 384.63,97.50 387.70,95.40 C390.77,93.30 393.82,92.53 397.90,91.00 C401.98,89.47 406.48,88.00 412.20,86.20 C417.92,84.40 428.87,81.20 432.20,80.20" fill="none" stroke="#d8357a" stroke-width="1.7" stroke-linejoin="round" stroke-linecap="round" />
<line x1="319.30" y1="33.00" x2="319.30" y2="90.00" stroke="#6cb33f" stroke-width="1.7" />
<path d="M319.30,90.00 C319.45,92.40 319.92,102.07 320.20,104.40 C320.48,106.73 320.65,105.85 321.00,104.00 C321.35,102.15 321.58,97.30 322.30,93.30 C323.02,89.30 324.12,83.40 325.30,80.00 C326.48,76.60 327.70,74.52 329.40,72.90 C331.10,71.28 333.62,70.52 335.50,70.30 C337.38,70.08 338.82,70.78 340.70,71.60 C342.58,72.42 344.42,74.07 346.80,75.20 C349.18,76.33 351.93,77.67 355.00,78.40 C358.07,79.13 361.93,79.50 365.20,79.60 C368.47,79.70 373.03,79.10 374.60,79.00" fill="none" stroke="#6cb33f" stroke-width="1.7" stroke-linejoin="round" stroke-linecap="round" />
<path d="M375.00,79.00 C375.03,81.22 375.00,89.93 375.20,92.30 C375.40,94.67 375.65,94.57 376.20,93.20 C376.75,91.83 376.93,86.70 378.50,84.10 C380.07,81.50 382.72,79.40 385.60,77.60 C388.48,75.80 391.37,74.62 395.80,73.30 C400.23,71.98 406.13,70.77 412.20,69.70 C418.27,68.63 428.87,67.37 432.20,66.90" fill="none" stroke="#6cb33f" stroke-width="1.7" stroke-linejoin="round" stroke-linecap="round" />
<polyline points="259.70,33.00 317.60,33.00 317.60,51.60 318.00,51.60 318.30,33.30 330.00,33.40 432.20,33.90" fill="none" stroke="#22a9e6" stroke-width="1.7" stroke-linejoin="round" stroke-linecap="round" />
<line x1="363.50" y1="123.10" x2="383.50" y2="123.10" stroke="#d8357a" stroke-width="1.7" />
<text x="385.40" y="125.90" font-size="8.2" text-anchor="start" font-weight="normal" fill="#1a1a1a" >CoNC-MSi1</text>
<line x1="363.50" y1="136.60" x2="383.50" y2="136.60" stroke="#6cb33f" stroke-width="1.7" />
<text x="385.40" y="139.40" font-size="8.2" text-anchor="start" font-weight="normal" fill="#1a1a1a" >CoNC-MSi2</text>
<line x1="363.50" y1="149.70" x2="383.50" y2="149.70" stroke="#22a9e6" stroke-width="1.7" />
<text x="385.40" y="152.50" font-size="8.2" text-anchor="start" font-weight="normal" fill="#1a1a1a" >CoNC-Si</text>
<rect x="497.60" y="11.30" width="185.80" height="150.10" fill="none" stroke="#4a4a4a" stroke-width="0.9" />
<line x1="506.50" y1="161.40" x2="506.50" y2="164.40" stroke="#4a4a4a" stroke-width="0.9" />
<line x1="525.15" y1="161.40" x2="525.15" y2="163.00" stroke="#4a4a4a" stroke-width="0.9" />
<line x1="543.80" y1="161.40" x2="543.80" y2="164.40" stroke="#4a4a4a" stroke-width="0.9" />
<line x1="562.45" y1="161.40" x2="562.45" y2="163.00" stroke="#4a4a4a" stroke-width="0.9" />
<line x1="581.10" y1="161.40" x2="581.10" y2="164.40" stroke="#4a4a4a" stroke-width="0.9" />
<line x1="599.75" y1="161.40" x2="599.75" y2="163.00" stroke="#4a4a4a" stroke-width="0.9" />
<line x1="618.40" y1="161.40" x2="618.40" y2="164.40" stroke="#4a4a4a" stroke-width="0.9" />
<line x1="637.05" y1="161.40" x2="637.05" y2="163.00" stroke="#4a4a4a" stroke-width="0.9" />
<line x1="655.70" y1="161.40" x2="655.70" y2="164.40" stroke="#4a4a4a" stroke-width="0.9" />
<line x1="674.35" y1="161.40" x2="674.35" y2="163.00" stroke="#4a4a4a" stroke-width="0.9" />
<text x="506.50" y="174.00" font-size="8.8" text-anchor="middle" font-weight="normal" fill="#1a1a1a" >0</text>
<text x="543.80" y="174.00" font-size="8.8" text-anchor="middle" font-weight="normal" fill="#1a1a1a" >200</text>
<text x="581.10" y="174.00" font-size="8.8" text-anchor="middle" font-weight="normal" fill="#1a1a1a" >400</text>
<text x="618.40" y="174.00" font-size="8.8" text-anchor="middle" font-weight="normal" fill="#1a1a1a" >600</text>
<text x="655.70" y="174.00" font-size="8.8" text-anchor="middle" font-weight="normal" fill="#1a1a1a" >800</text>
<line x1="497.60" y1="161.40" x2="494.60" y2="161.40" stroke="#4a4a4a" stroke-width="0.9" />
<line x1="497.60" y1="146.45" x2="496.00" y2="146.45" stroke="#4a4a4a" stroke-width="0.9" />
<line x1="497.60" y1="131.50" x2="494.60" y2="131.50" stroke="#4a4a4a" stroke-width="0.9" />
<line x1="497.60" y1="116.56" x2="496.00" y2="116.56" stroke="#4a4a4a" stroke-width="0.9" />
<line x1="497.60" y1="101.61" x2="494.60" y2="101.61" stroke="#4a4a4a" stroke-width="0.9" />
<line x1="497.60" y1="86.66" x2="496.00" y2="86.66" stroke="#4a4a4a" stroke-width="0.9" />
<line x1="497.60" y1="71.72" x2="494.60" y2="71.72" stroke="#4a4a4a" stroke-width="0.9" />
<line x1="497.60" y1="56.77" x2="496.00" y2="56.77" stroke="#4a4a4a" stroke-width="0.9" />
<line x1="497.60" y1="41.82" x2="494.60" y2="41.82" stroke="#4a4a4a" stroke-width="0.9" />
<line x1="497.60" y1="26.87" x2="496.00" y2="26.87" stroke="#4a4a4a" stroke-width="0.9" />
<line x1="497.60" y1="11.92" x2="494.60" y2="11.92" stroke="#4a4a4a" stroke-width="0.9" />
<text x="492.20" y="164.30" font-size="8.8" text-anchor="end" font-weight="normal" fill="#1a1a1a" >0.30</text>
<text x="492.20" y="134.41" font-size="8.8" text-anchor="end" font-weight="normal" fill="#1a1a1a" >0.45</text>
<text x="492.20" y="104.51" font-size="8.8" text-anchor="end" font-weight="normal" fill="#1a1a1a" >0.60</text>
<text x="492.20" y="74.62" font-size="8.8" text-anchor="end" font-weight="normal" fill="#1a1a1a" >0.75</text>
<text x="492.20" y="44.72" font-size="8.8" text-anchor="end" font-weight="normal" fill="#1a1a1a" >0.90</text>
<text x="492.20" y="14.82" font-size="8.8" text-anchor="end" font-weight="normal" fill="#1a1a1a" >1.05</text>
<text x="590.00" y="185.30" font-size="9.3" text-anchor="middle" font-weight="normal" fill="#1a1a1a" >Time (s)</text>
<text transform="translate(470.90,86.00) rotate(-90)" x="0" y="0" font-size="9.7" text-anchor="middle" fill="#1a1a1a">Potential (V)</text>
<line x1="505.50" y1="22.20" x2="518.40" y2="22.20" stroke="#d8357a" stroke-width="1.7" />
<text x="521.60" y="25.10" font-size="8.45" text-anchor="start" font-weight="normal" fill="#1a1a1a" >CoNC-MSi1</text>
<line x1="505.50" y1="35.40" x2="518.40" y2="35.40" stroke="#6cb33f" stroke-width="1.7" />
<text x="521.60" y="38.30" font-size="8.45" text-anchor="start" font-weight="normal" fill="#1a1a1a" >CoNC-MSi2</text>
<line x1="505.50" y1="48.80" x2="518.40" y2="48.80" stroke="#22a9e6" stroke-width="1.7" />
<text x="521.60" y="51.70" font-size="8.45" text-anchor="start" font-weight="normal" fill="#1a1a1a" >CoNC-Si</text>
<line x1="623.20" y1="19.20" x2="623.20" y2="32.00" stroke="#111" stroke-width="0.9" />
<path d="M621.6,31 L624.8,31 L623.2,34.8 Z" fill="#111"/>
<text x="626.70" y="29.90" font-size="8.9" text-anchor="start" font-weight="normal" fill="#1a1a1a" >4-CP</text>
<text x="541.10" y="138.10" font-size="8.9" text-anchor="start" font-weight="normal" fill="#1a1a1a" >PMS</text>
<line x1="552.00" y1="141.30" x2="559.20" y2="152.60" stroke="#111" stroke-width="0.85" />
<path d="M557.4,152.4 L560.6,150.4 L561.0,155.8 Z" fill="#111"/>
<line x1="562.60" y1="155.90" x2="563.40" y2="97.00" stroke="#d8357a" stroke-width="1.7" />
<path d="M563.40,97.00 C563.72,94.12 564.50,84.85 565.30,79.70 C566.10,74.55 566.97,70.05 568.20,66.10 C569.43,62.15 570.82,58.82 572.70,56.00 C574.58,53.18 576.67,51.20 579.50,49.20 C582.33,47.20 585.75,45.50 589.70,44.00 C593.65,42.50 599.07,41.10 603.20,40.20 C607.33,39.30 611.30,39.05 614.50,38.60 C617.70,38.15 621.08,37.68 622.40,37.50" fill="none" stroke="#d8357a" stroke-width="1.7" stroke-linejoin="round" stroke-linecap="round" />
<line x1="506.10" y1="155.80" x2="562.60" y2="155.80" stroke="#d8357a" stroke-width="1.7" />
<line x1="622.60" y1="37.50" x2="622.60" y2="69.50" stroke="#d8357a" stroke-width="1.7" />
<path d="M622.60,69.50 C623.83,69.58 626.27,69.87 630.00,70.00 C633.73,70.13 640.00,70.30 645.00,70.30 C650.00,70.30 655.03,69.95 660.00,70.00 C664.97,70.05 672.33,70.50 674.80,70.60" fill="none" stroke="#d8357a" stroke-width="1.7" stroke-linejoin="round" stroke-linecap="round" />
<line x1="562.60" y1="156.50" x2="564.20" y2="95.00" stroke="#6cb33f" stroke-width="1.7" />
<path d="M564.20,95.00 C564.68,92.07 565.87,82.02 567.10,77.40 C568.33,72.78 569.72,70.30 571.60,67.30 C573.48,64.30 575.38,61.78 578.40,59.40 C581.42,57.02 585.57,54.58 589.70,53.00 C593.83,51.42 597.93,50.83 603.20,49.90 C608.47,48.97 618.28,47.82 621.30,47.40" fill="none" stroke="#6cb33f" stroke-width="1.7" stroke-linejoin="round" stroke-linecap="round" />
<path d="M621.60,47.40 C621.63,51.83 621.57,68.97 621.80,74.00 C622.03,79.03 622.30,76.83 623.00,77.60 C623.70,78.37 623.17,78.37 626.00,78.60 C628.83,78.83 634.33,78.88 640.00,79.00 C645.67,79.12 654.20,79.18 660.00,79.30 C665.80,79.42 672.33,79.63 674.80,79.70" fill="none" stroke="#6cb33f" stroke-width="1.7" stroke-linejoin="round" stroke-linecap="round" />
<line x1="506.10" y1="157.30" x2="562.00" y2="157.30" stroke="#22a9e6" stroke-width="1.9" />
<line x1="562.70" y1="157.40" x2="562.90" y2="134.50" stroke="#22a9e6" stroke-width="1.8" />
<path d="M562.90,134.50 C563.18,134.02 563.90,132.45 564.60,131.60 C565.30,130.75 565.55,130.52 567.10,129.40 C568.65,128.28 570.88,126.42 573.90,124.90 C576.92,123.38 581.07,121.73 585.20,120.30 C589.33,118.87 594.18,117.62 598.70,116.30 C603.22,114.98 607.58,113.53 612.30,112.40 C617.02,111.27 624.30,110.07 627.00,109.50 C629.70,108.93 628.08,108.98 628.50,109.00 C628.92,109.02 627.32,109.60 629.50,109.60 C631.68,109.60 636.95,109.28 641.60,109.00 C646.25,108.72 651.87,108.35 657.40,107.90 C662.93,107.45 671.90,106.57 674.80,106.30" fill="none" stroke="#22a9e6" stroke-width="1.7" stroke-linejoin="round" stroke-linecap="round" />
<defs><linearGradient id="gdeg" x1="0" y1="0" x2="0" y2="1"><stop offset="0" stop-color="#eb9fa7"/><stop offset="1" stop-color="#ffffff"/></linearGradient><linearGradient id="gads" x1="0" y1="0" x2="0" y2="1"><stop offset="0" stop-color="#5aa8ec"/><stop offset="1" stop-color="#ffffff"/></linearGradient><linearGradient id="gdegl" x1="0" y1="0" x2="0" y2="1"><stop offset="0" stop-color="#ec9cc0"/><stop offset="1" stop-color="#ffffff"/></linearGradient></defs>
<rect x="259.60" y="197.70" width="186.40" height="150.50" fill="none" stroke="#4a4a4a" stroke-width="0.9" />
<line x1="259.60" y1="348.20" x2="256.60" y2="348.20" stroke="#4a4a4a" stroke-width="0.9" />
<line x1="259.60" y1="334.50" x2="258.00" y2="334.50" stroke="#4a4a4a" stroke-width="0.9" />
<line x1="259.60" y1="320.80" x2="256.60" y2="320.80" stroke="#4a4a4a" stroke-width="0.9" />
<line x1="259.60" y1="307.10" x2="258.00" y2="307.10" stroke="#4a4a4a" stroke-width="0.9" />
<line x1="259.60" y1="293.40" x2="256.60" y2="293.40" stroke="#4a4a4a" stroke-width="0.9" />
<line x1="259.60" y1="279.70" x2="258.00" y2="279.70" stroke="#4a4a4a" stroke-width="0.9" />
<line x1="259.60" y1="266.00" x2="256.60" y2="266.00" stroke="#4a4a4a" stroke-width="0.9" />
<line x1="259.60" y1="252.30" x2="258.00" y2="252.30" stroke="#4a4a4a" stroke-width="0.9" />
<line x1="259.60" y1="238.60" x2="256.60" y2="238.60" stroke="#4a4a4a" stroke-width="0.9" />
<line x1="259.60" y1="224.90" x2="258.00" y2="224.90" stroke="#4a4a4a" stroke-width="0.9" />
<line x1="259.60" y1="211.20" x2="256.60" y2="211.20" stroke="#4a4a4a" stroke-width="0.9" />
<text x="254.50" y="351.10" font-size="8.8" text-anchor="end" font-weight="normal" fill="#1a1a1a" >0</text>
<text x="254.50" y="323.70" font-size="8.8" text-anchor="end" font-weight="normal" fill="#1a1a1a" >20</text>
<text x="254.50" y="296.30" font-size="8.8" text-anchor="end" font-weight="normal" fill="#1a1a1a" >40</text>
<text x="254.50" y="268.90" font-size="8.8" text-anchor="end" font-weight="normal" fill="#1a1a1a" >60</text>
<text x="254.50" y="241.50" font-size="8.8" text-anchor="end" font-weight="normal" fill="#1a1a1a" >80</text>
<text x="254.50" y="214.10" font-size="8.8" text-anchor="end" font-weight="normal" fill="#1a1a1a" >100</text>
<text transform="translate(237.40,273.20) rotate(-90)" x="0" y="0" font-size="9.3" text-anchor="middle" fill="#1a1a1a">4-CP removal (%)</text>
<rect x="264.10" y="211.20" width="18.60" height="137.00" fill="url(#gdeg)" stroke="#7a7a7a" stroke-width="0.75" />
<rect x="282.70" y="342.45" width="18.60" height="5.75" fill="url(#gads)" stroke="#4a4a4a" stroke-width="0.8" />
<text x="282.70" y="357.80" font-size="7.6" text-anchor="middle" font-weight="normal" fill="#1a1a1a" >CoNC-MSi1</text>
<rect x="311.10" y="211.20" width="18.60" height="137.00" fill="url(#gdeg)" stroke="#7a7a7a" stroke-width="0.75" />
<rect x="329.70" y="343.27" width="18.60" height="4.93" fill="url(#gads)" stroke="#4a4a4a" stroke-width="0.8" />
<text x="329.70" y="357.80" font-size="7.6" text-anchor="middle" font-weight="normal" fill="#1a1a1a" >CoNC-MSi2</text>
<rect x="358.10" y="271.62" width="18.60" height="76.58" fill="url(#gdeg)" stroke="#7a7a7a" stroke-width="0.75" />
<rect x="376.70" y="345.19" width="18.60" height="3.01" fill="url(#gads)" stroke="#4a4a4a" stroke-width="0.8" />
<line x1="367.40" y1="266.00" x2="367.40" y2="276.96" stroke="#444" stroke-width="0.8" />
<line x1="365.90" y1="266.00" x2="368.90" y2="266.00" stroke="#444" stroke-width="0.8" />
<line x1="365.90" y1="276.96" x2="368.90" y2="276.96" stroke="#444" stroke-width="0.8" />
<text x="376.70" y="357.80" font-size="7.6" text-anchor="middle" font-weight="normal" fill="#1a1a1a" >CoNC-Si</text>
<rect x="405.10" y="305.32" width="18.60" height="42.88" fill="url(#gdeg)" stroke="#7a7a7a" stroke-width="0.75" />
<rect x="423.70" y="344.09" width="18.60" height="4.11" fill="url(#gads)" stroke="#4a4a4a" stroke-width="0.8" />
<line x1="414.40" y1="302.31" x2="414.40" y2="307.78" stroke="#444" stroke-width="0.8" />
<line x1="412.90" y1="302.31" x2="415.90" y2="302.31" stroke="#444" stroke-width="0.8" />
<line x1="412.90" y1="307.78" x2="415.90" y2="307.78" stroke="#444" stroke-width="0.8" />
<text x="423.70" y="357.80" font-size="7.6" text-anchor="middle" font-weight="normal" fill="#1a1a1a" >Blank</text>
<line x1="290.80" y1="342.90" x2="293.80" y2="342.90" stroke="#222" stroke-width="1.0" />
<rect x="355.20" y="220.20" width="15.60" height="9.50" fill="url(#gdegl)" stroke="#888" stroke-width="0.7" />
<rect x="355.20" y="233.60" width="15.60" height="9.70" fill="url(#gads)" stroke="#888" stroke-width="0.7" />
<text x="373.50" y="228.30" font-size="8.3" text-anchor="start" font-weight="normal" fill="#1a1a1a" >Degradation</text>
<text x="373.50" y="241.60" font-size="8.3" text-anchor="start" font-weight="normal" fill="#1a1a1a" >Adsorption</text>
<rect x="497.60" y="197.40" width="185.80" height="150.70" fill="none" stroke="#4a4a4a" stroke-width="0.9" />
<line x1="497.51" y1="348.10" x2="497.51" y2="349.70" stroke="#4a4a4a" stroke-width="0.9" />
<line x1="510.80" y1="348.10" x2="510.80" y2="351.10" stroke="#4a4a4a" stroke-width="0.9" />
<line x1="524.09" y1="348.10" x2="524.09" y2="349.70" stroke="#4a4a4a" stroke-width="0.9" />
<line x1="537.38" y1="348.10" x2="537.38" y2="351.10" stroke="#4a4a4a" stroke-width="0.9" />
<line x1="550.67" y1="348.10" x2="550.67" y2="349.70" stroke="#4a4a4a" stroke-width="0.9" />
<line x1="563.96" y1="348.10" x2="563.96" y2="351.10" stroke="#4a4a4a" stroke-width="0.9" />
<line x1="577.25" y1="348.10" x2="577.25" y2="349.70" stroke="#4a4a4a" stroke-width="0.9" />
<line x1="590.54" y1="348.10" x2="590.54" y2="351.10" stroke="#4a4a4a" stroke-width="0.9" />
<line x1="603.83" y1="348.10" x2="603.83" y2="349.70" stroke="#4a4a4a" stroke-width="0.9" />
<line x1="617.12" y1="348.10" x2="617.12" y2="351.10" stroke="#4a4a4a" stroke-width="0.9" />
<line x1="630.41" y1="348.10" x2="630.41" y2="349.70" stroke="#4a4a4a" stroke-width="0.9" />
<line x1="643.70" y1="348.10" x2="643.70" y2="351.10" stroke="#4a4a4a" stroke-width="0.9" />
<line x1="656.99" y1="348.10" x2="656.99" y2="349.70" stroke="#4a4a4a" stroke-width="0.9" />
<line x1="670.28" y1="348.10" x2="670.28" y2="351.10" stroke="#4a4a4a" stroke-width="0.9" />
<line x1="683.57" y1="348.10" x2="683.57" y2="349.70" stroke="#4a4a4a" stroke-width="0.9" />
<text x="510.80" y="360.30" font-size="8.8" text-anchor="middle" font-weight="normal" fill="#1a1a1a" >0</text>
<text x="537.38" y="360.30" font-size="8.8" text-anchor="middle" font-weight="normal" fill="#1a1a1a" >100</text>
<text x="563.96" y="360.30" font-size="8.8" text-anchor="middle" font-weight="normal" fill="#1a1a1a" >200</text>
<text x="590.54" y="360.30" font-size="8.8" text-anchor="middle" font-weight="normal" fill="#1a1a1a" >300</text>
<text x="617.12" y="360.30" font-size="8.8" text-anchor="middle" font-weight="normal" fill="#1a1a1a" >400</text>
<text x="643.70" y="360.30" font-size="8.8" text-anchor="middle" font-weight="normal" fill="#1a1a1a" >500</text>
<text x="670.28" y="360.30" font-size="8.8" text-anchor="middle" font-weight="normal" fill="#1a1a1a" >600</text>
<line x1="497.60" y1="347.25" x2="496.00" y2="347.25" stroke="#4a4a4a" stroke-width="0.9" />
<line x1="497.60" y1="327.30" x2="494.60" y2="327.30" stroke="#4a4a4a" stroke-width="0.9" />
<line x1="497.60" y1="307.35" x2="496.00" y2="307.35" stroke="#4a4a4a" stroke-width="0.9" />
<line x1="497.60" y1="287.40" x2="494.60" y2="287.40" stroke="#4a4a4a" stroke-width="0.9" />
<line x1="497.60" y1="267.45" x2="496.00" y2="267.45" stroke="#4a4a4a" stroke-width="0.9" />
<line x1="497.60" y1="247.50" x2="494.60" y2="247.50" stroke="#4a4a4a" stroke-width="0.9" />
<line x1="497.60" y1="227.55" x2="496.00" y2="227.55" stroke="#4a4a4a" stroke-width="0.9" />
<line x1="497.60" y1="207.60" x2="494.60" y2="207.60" stroke="#4a4a4a" stroke-width="0.9" />
<text x="493.00" y="210.70" font-size="8.8" text-anchor="end" font-weight="normal" fill="#1a1a1a" >1.0</text>
<text x="493.00" y="250.60" font-size="8.8" text-anchor="end" font-weight="normal" fill="#1a1a1a" >0.8</text>
<text x="493.00" y="290.50" font-size="8.8" text-anchor="end" font-weight="normal" fill="#1a1a1a" >0.6</text>
<text x="493.00" y="330.40" font-size="8.8" text-anchor="end" font-weight="normal" fill="#1a1a1a" >0.4</text>
<text x="591.30" y="371.30" font-size="9.3" text-anchor="middle" font-weight="normal" fill="#1a1a1a" >Time (s)</text>
<text transform="translate(473.40,272.20) rotate(-90)" x="0" y="0" font-size="9.9" text-anchor="middle" fill="#1a1a1a">Potential (V)</text>
<line x1="501.40" y1="203.20" x2="511.60" y2="203.20" stroke="#858585" stroke-width="1.7" />
<text x="514.70" y="206.10" font-size="8.4" text-anchor="start" font-weight="normal" fill="#1a1a1a" >0 mM PMS</text>
<line x1="501.40" y1="216.40" x2="511.60" y2="216.40" stroke="#22a9e6" stroke-width="1.7" />
<text x="514.70" y="219.30" font-size="8.4" text-anchor="start" font-weight="normal" fill="#1a1a1a" >0.2 mM PMS</text>
<line x1="501.40" y1="229.50" x2="511.60" y2="229.50" stroke="#d8357a" stroke-width="1.7" />
<text x="514.70" y="232.40" font-size="8.4" text-anchor="start" font-weight="normal" fill="#1a1a1a" >0.4 mM PMS</text>
<line x1="566.30" y1="203.20" x2="576.50" y2="203.20" stroke="#ee8a2c" stroke-width="1.7" />
<text x="579.60" y="206.10" font-size="8.4" text-anchor="start" font-weight="normal" fill="#1a1a1a" >0.1 mM PMS</text>
<line x1="566.30" y1="216.40" x2="576.50" y2="216.40" stroke="#6cb33f" stroke-width="1.7" />
<text x="579.60" y="219.30" font-size="8.4" text-anchor="start" font-weight="normal" fill="#1a1a1a" >0.3 mM PMS</text>
<line x1="510.80" y1="335.20" x2="670.30" y2="335.20" stroke="#858585" stroke-width="1.7" />
<polyline points="510.80,335.00 511.49,335.02 512.19,335.05 512.88,335.07 513.58,335.09 514.27,335.12 514.97,335.14 515.66,335.16 516.36,335.18 517.05,335.20 517.75,335.22 518.44,335.24 519.14,335.26 519.83,335.28 520.53,335.30 521.22,335.31 521.92,335.33 522.61,335.35 523.31,335.36 524.00,335.38 524.69,335.39 525.39,335.41 526.08,335.42 526.78,335.44 527.47,335.45 528.17,335.46 528.86,335.48 529.56,335.49 530.25,335.50 530.95,335.51 531.64,335.52 532.34,335.53 533.03,335.55 533.73,335.56 534.42,335.57 535.12,335.57 535.81,335.58 536.51,335.59 537.20,335.60" fill="none" stroke="#6cb33f" stroke-width="1.7" stroke-linejoin="round" stroke-linecap="round" />
<polyline points="510.80,334.40 511.49,334.43 512.19,334.46 512.88,334.48 513.58,334.51 514.27,334.54 514.97,334.56 515.66,334.59 516.36,334.62 517.05,334.64 517.75,334.67 518.44,334.69 519.14,334.71 519.83,334.74 520.53,334.76 521.22,334.78 521.92,334.81 522.61,334.83 523.31,334.85 524.00,334.87 524.69,334.89 525.39,334.91 526.08,334.93 526.78,334.95 527.47,334.97 528.17,334.99 528.86,335.01 529.56,335.02 530.25,335.04 530.95,335.06 531.64,335.08 532.34,335.09 533.03,335.11 533.73,335.13 534.42,335.14 535.12,335.16 535.81,335.17 536.51,335.19 537.20,335.20" fill="none" stroke="#ee8a2c" stroke-width="1.7" stroke-linejoin="round" stroke-linecap="round" />
<polyline points="510.80,334.00 511.49,334.02 512.18,334.05 512.87,334.07 513.56,334.09 514.25,334.11 514.94,334.14 515.63,334.16 516.32,334.18 517.01,334.20 517.69,334.22 518.38,334.24 519.07,334.26 519.76,334.28 520.45,334.29 521.14,334.31 521.83,334.33 522.52,334.34 523.21,334.36 523.90,334.38 524.59,334.39 525.28,334.41 525.97,334.42 526.66,334.43 527.35,334.45 528.04,334.46 528.73,334.47 529.42,334.49 530.11,334.50 530.79,334.51 531.48,334.52 532.17,334.53 532.86,334.54 533.55,334.55 534.24,334.56 534.93,334.57 535.62,334.58 536.31,334.59 537.00,334.60" fill="none" stroke="#d8357a" stroke-width="1.7" stroke-linejoin="round" stroke-linecap="round" />
<line x1="537.20" y1="335.20" x2="538.20" y2="322.00" stroke="#ee8a2c" stroke-width="1.7" />
<polyline points="538.20,322.00 538.87,319.25 539.54,317.12 540.21,315.44 540.88,313.99 541.55,312.77 542.22,311.77 542.89,310.91 543.56,310.12 544.24,309.40 544.91,308.75 545.58,308.16 546.25,307.61 546.92,307.12 547.59,306.67 548.26,306.26 548.93,305.87 549.60,305.51 550.27,305.17 550.94,304.85 551.61,304.55 552.28,304.26 552.95,303.98 553.62,303.72 554.29,303.46 554.96,303.20 555.63,302.94 556.31,302.68 556.98,302.43 557.65,302.18 558.32,301.93 558.99,301.70 559.66,301.46 560.33,301.24 561.00,301.01 561.67,300.80 562.34,300.59 563.01,300.39 563.68,300.20 564.35,300.01 565.02,299.83 565.69,299.66 566.36,299.49 567.03,299.33 567.70,299.17 568.38,299.01 569.05,298.86 569.72,298.71 570.39,298.56 571.06,298.41 571.73,298.27 572.40,298.13 573.07,297.99 573.74,297.86 574.41,297.72 575.08,297.58 575.75,297.45 576.42,297.32 577.09,297.18 577.76,297.05 578.43,296.91 579.10,296.78 579.77,296.65 580.45,296.52 581.12,296.39 581.79,296.27 582.46,296.14 583.13,296.02 583.80,295.90 584.47,295.78 585.14,295.66 585.81,295.54 586.48,295.42 587.15,295.30 587.82,295.18 588.49,295.06 589.16,294.94 589.83,294.81 590.50,294.69 591.17,294.57 591.84,294.45 592.52,294.32 593.19,294.20 593.86,294.07 594.53,293.95 595.20,293.82 595.87,293.69 596.54,293.56 597.21,293.44 597.88,293.31 598.55,293.18 599.22,293.05 599.89,292.93 600.56,292.80 601.23,292.68 601.90,292.55 602.57,292.43 603.24,292.31 603.91,292.19 604.59,292.07 605.26,291.96 605.93,291.84 606.60,291.72 607.27,291.61 607.94,291.49 608.61,291.38 609.28,291.26 609.95,291.15 610.62,291.03 611.29,290.92 611.96,290.81 612.63,290.70 613.30,290.59 613.97,290.48 614.64,290.37 615.31,290.26 615.98,290.16 616.66,290.06 617.33,289.96 618.00,289.86 618.67,289.76 619.34,289.66 620.01,289.57 620.68,289.48 621.35,289.39 622.02,289.30 622.69,289.21 623.36,289.12 624.03,289.03 624.70,288.94 625.37,288.85 626.04,288.77 626.71,288.69 627.38,288.61 628.05,288.53 628.73,288.45 629.40,288.37 630.07,288.30 630.74,288.23 631.41,288.16 632.08,288.09 632.75,288.02 633.42,287.96 634.09,287.90 634.76,287.84 635.43,287.78 636.10,287.73 636.77,287.67 637.44,287.62 638.11,287.56 638.78,287.51 639.45,287.46 640.12,287.41 640.80,287.36 641.47,287.31 642.14,287.27 642.81,287.22 643.48,287.17 644.15,287.13 644.82,287.08 645.49,287.04 646.16,286.99 646.83,286.95 647.50,286.91 648.17,286.86 648.84,286.82 649.51,286.77 650.18,286.73 650.85,286.68 651.52,286.64 652.19,286.60 652.87,286.55 653.54,286.51 654.21,286.47 654.88,286.43 655.55,286.39 656.22,286.36 656.89,286.32 657.56,286.29 658.23,286.26 658.90,286.24 659.57,286.21 660.24,286.19 660.91,286.17 661.58,286.16 662.25,286.14 662.92,286.12 663.59,286.10 664.26,286.09 664.94,286.07 665.61,286.06 666.28,286.04 666.95,286.03 667.62,286.02 668.29,286.01 668.96,286.01 669.63,286.00 670.30,286.00" fill="none" stroke="#ee8a2c" stroke-width="1.7" stroke-linejoin="round" stroke-linecap="round" />
<line x1="537.20" y1="335.60" x2="539.20" y2="300.00" stroke="#6cb33f" stroke-width="1.7" />
<polyline points="539.20,300.00 539.87,297.21 540.54,294.77 541.22,292.87 541.89,291.19 542.56,289.66 543.23,288.29 543.91,287.07 544.58,285.98 545.25,285.01 545.92,284.11 546.60,283.28 547.27,282.51 547.94,281.80 548.61,281.13 549.28,280.51 549.96,279.94 550.63,279.40 551.30,278.89 551.97,278.42 552.65,277.97 553.32,277.54 553.99,277.14 554.66,276.75 555.34,276.38 556.01,276.02 556.68,275.67 557.35,275.32 558.02,274.98 558.70,274.65 559.37,274.34 560.04,274.03 560.71,273.73 561.39,273.44 562.06,273.15 562.73,272.87 563.40,272.60 564.08,272.33 564.75,272.06 565.42,271.80 566.09,271.54 566.76,271.29 567.44,271.04 568.11,270.79 568.78,270.55 569.45,270.31 570.13,270.07 570.80,269.84 571.47,269.61 572.14,269.38 572.82,269.16 573.49,268.93 574.16,268.71 574.83,268.50 575.50,268.28 576.18,268.07 576.85,267.86 577.52,267.65 578.19,267.44 578.87,267.24 579.54,267.03 580.21,266.83 580.88,266.64 581.56,266.44 582.23,266.25 582.90,266.06 583.57,265.87 584.24,265.68 584.92,265.50 585.59,265.31 586.26,265.13 586.93,264.95 587.61,264.77 588.28,264.59 588.95,264.42 589.62,264.24 590.30,264.07 590.97,263.89 591.64,263.72 592.31,263.55 592.98,263.37 593.66,263.20 594.33,263.03 595.00,262.86 595.67,262.69 596.35,262.52 597.02,262.35 597.69,262.18 598.36,262.02 599.04,261.85 599.71,261.69 600.38,261.53 601.05,261.37 601.72,261.22 602.40,261.07 603.07,260.91 603.74,260.77 604.41,260.62 605.09,260.48 605.76,260.34 606.43,260.21 607.10,260.07 607.78,259.94 608.45,259.81 609.12,259.68 609.79,259.55 610.46,259.43 611.14,259.30 611.81,259.18 612.48,259.06 613.15,258.94 613.83,258.82 614.50,258.70 615.17,258.58 615.84,258.47 616.52,258.35 617.19,258.24 617.86,258.12 618.53,258.01 619.20,257.90 619.88,257.79 620.55,257.68 621.22,257.56 621.89,257.45 622.57,257.34 623.24,257.23 623.91,257.12 624.58,257.01 625.26,256.90 625.93,256.79 626.60,256.68 627.27,256.58 627.94,256.47 628.62,256.37 629.29,256.28 629.96,256.18 630.63,256.09 631.31,256.00 631.98,255.92 632.65,255.84 633.32,255.76 634.00,255.69 634.67,255.61 635.34,255.54 636.01,255.47 636.68,255.40 637.36,255.33 638.03,255.26 638.70,255.20 639.37,255.13 640.05,255.07 640.72,255.01 641.39,254.95 642.06,254.89 642.74,254.83 643.41,254.78 644.08,254.73 644.75,254.68 645.42,254.63 646.10,254.59 646.77,254.55 647.44,254.51 648.11,254.47 648.79,254.44 649.46,254.40 650.13,254.37 650.80,254.34 651.48,254.30 652.15,254.27 652.82,254.25 653.49,254.22 654.16,254.19 654.84,254.16 655.51,254.14 656.18,254.12 656.85,254.09 657.53,254.07 658.20,254.05 658.87,254.03 659.54,254.01 660.22,253.99 660.89,253.98 661.56,253.96 662.23,253.94 662.90,253.93 663.58,253.91 664.25,253.90 664.92,253.88 665.59,253.87 666.27,253.86 666.94,253.85 667.61,253.83 668.28,253.82 668.96,253.82 669.63,253.81 670.30,253.80" fill="none" stroke="#6cb33f" stroke-width="1.7" stroke-linejoin="round" stroke-linecap="round" />
<line x1="537.30" y1="335.00" x2="539.60" y2="290.00" stroke="#22a9e6" stroke-width="1.7" />
<polyline points="539.60,290.00 540.27,285.76 540.94,282.37 541.61,279.51 542.28,277.26 542.95,275.44 543.62,273.80 544.29,272.34 544.96,271.03 545.63,269.85 546.30,268.80 546.97,267.82 547.64,266.89 548.31,266.02 548.98,265.20 549.65,264.43 550.32,263.70 550.99,263.02 551.66,262.38 552.33,261.79 553.01,261.23 553.68,260.71 554.35,260.23 555.02,259.77 555.69,259.33 556.36,258.92 557.03,258.53 557.70,258.16 558.37,257.81 559.04,257.47 559.71,257.14 560.38,256.82 561.05,256.52 561.72,256.23 562.39,255.95 563.06,255.68 563.73,255.42 564.40,255.17 565.07,254.92 565.74,254.68 566.41,254.44 567.08,254.21 567.75,253.97 568.42,253.74 569.09,253.52 569.76,253.29 570.43,253.08 571.10,252.86 571.77,252.65 572.44,252.44 573.11,252.23 573.78,252.02 574.45,251.82 575.12,251.62 575.79,251.42 576.46,251.22 577.13,251.03 577.80,250.83 578.47,250.64 579.15,250.44 579.82,250.25 580.49,250.06 581.16,249.87 581.83,249.69 582.50,249.50 583.17,249.32 583.84,249.14 584.51,248.96 585.18,248.78 585.85,248.61 586.52,248.43 587.19,248.26 587.86,248.09 588.53,247.91 589.20,247.74 589.87,247.57 590.54,247.40 591.21,247.23 591.88,247.06 592.55,246.88 593.22,246.71 593.89,246.54 594.56,246.37 595.23,246.20 595.90,246.03 596.57,245.86 597.24,245.69 597.91,245.52 598.58,245.35 599.25,245.18 599.92,245.02 600.59,244.85 601.26,244.69 601.93,244.53 602.60,244.36 603.27,244.20 603.94,244.05 604.61,243.89 605.29,243.73 605.96,243.58 606.63,243.43 607.30,243.27 607.97,243.12 608.64,242.97 609.31,242.82 609.98,242.67 610.65,242.52 611.32,242.37 611.99,242.23 612.66,242.08 613.33,241.94 614.00,241.79 614.67,241.65 615.34,241.51 616.01,241.37 616.68,241.23 617.35,241.09 618.02,240.96 618.69,240.82 619.36,240.69 620.03,240.55 620.70,240.42 621.37,240.29 622.04,240.16 622.71,240.03 623.38,239.91 624.05,239.78 624.72,239.66 625.39,239.53 626.06,239.41 626.73,239.29 627.40,239.17 628.07,239.05 628.74,238.93 629.41,238.81 630.08,238.69 630.75,238.58 631.43,238.46 632.10,238.35 632.77,238.24 633.44,238.13 634.11,238.02 634.78,237.91 635.45,237.80 636.12,237.69 636.79,237.58 637.46,237.47 638.13,237.36 638.80,237.26 639.47,237.15 640.14,237.05 640.81,236.95 641.48,236.84 642.15,236.74 642.82,236.65 643.49,236.55 644.16,236.45 644.83,236.36 645.50,236.27 646.17,236.18 646.84,236.09 647.51,236.01 648.18,235.93 648.85,235.85 649.52,235.76 650.19,235.68 650.86,235.60 651.53,235.52 652.20,235.44 652.87,235.36 653.54,235.29 654.21,235.22 654.88,235.14 655.55,235.08 656.22,235.01 656.89,234.95 657.57,234.89 658.24,234.83 658.91,234.78 659.58,234.73 660.25,234.68 660.92,234.64 661.59,234.60 662.26,234.56 662.93,234.52 663.60,234.48 664.27,234.44 664.94,234.41 665.61,234.37 666.28,234.34 666.95,234.31 667.62,234.28 668.29,234.26 668.96,234.24 669.63,234.22 670.30,234.20" fill="none" stroke="#22a9e6" stroke-width="1.7" stroke-linejoin="round" stroke-linecap="round" />
<line x1="537.00" y1="334.60" x2="540.20" y2="280.00" stroke="#d8357a" stroke-width="1.7" />
<polyline points="540.20,280.00 540.87,272.96 541.54,267.76 542.21,264.24 542.88,261.50 543.55,259.35 544.22,257.55 544.89,256.01 545.56,254.69 546.24,253.60 546.91,252.66 547.58,251.82 548.25,251.07 548.92,250.39 549.59,249.77 550.26,249.20 550.93,248.66 551.60,248.16 552.27,247.70 552.94,247.26 553.61,246.85 554.28,246.46 554.95,246.08 555.62,245.71 556.29,245.34 556.97,244.98 557.64,244.64 558.31,244.31 558.98,243.99 559.65,243.68 560.32,243.37 560.99,243.07 561.66,242.77 562.33,242.48 563.00,242.19 563.67,241.90 564.34,241.62 565.01,241.34 565.68,241.07 566.35,240.80 567.02,240.54 567.70,240.27 568.37,240.02 569.04,239.76 569.71,239.51 570.38,239.26 571.05,239.02 571.72,238.78 572.39,238.54 573.06,238.31 573.73,238.09 574.40,237.86 575.07,237.64 575.74,237.41 576.41,237.19 577.08,236.97 577.75,236.75 578.43,236.53 579.10,236.30 579.77,236.08 580.44,235.86 581.11,235.64 581.78,235.41 582.45,235.19 583.12,234.97 583.79,234.75 584.46,234.54 585.13,234.32 585.80,234.10 586.47,233.89 587.14,233.68 587.81,233.47 588.48,233.26 589.16,233.06 589.83,232.85 590.50,232.65 591.17,232.45 591.84,232.25 592.51,232.06 593.18,231.86 593.85,231.67 594.52,231.48 595.19,231.28 595.86,231.09 596.53,230.91 597.20,230.72 597.87,230.53 598.54,230.35 599.21,230.16 599.89,229.98 600.56,229.79 601.23,229.61 601.90,229.43 602.57,229.25 603.24,229.07 603.91,228.89 604.58,228.71 605.25,228.53 605.92,228.36 606.59,228.18 607.26,228.00 607.93,227.82 608.60,227.65 609.27,227.47 609.94,227.29 610.61,227.12 611.29,226.95 611.96,226.77 612.63,226.60 613.30,226.43 613.97,226.26 614.64,226.09 615.31,225.93 615.98,225.76 616.65,225.60 617.32,225.43 617.99,225.27 618.66,225.11 619.33,224.95 620.00,224.80 620.67,224.64 621.34,224.49 622.02,224.34 622.69,224.18 623.36,224.03 624.03,223.88 624.70,223.73 625.37,223.58 626.04,223.43 626.71,223.28 627.38,223.13 628.05,222.98 628.72,222.84 629.39,222.69 630.06,222.55 630.73,222.40 631.40,222.26 632.07,222.12 632.75,221.99 633.42,221.85 634.09,221.71 634.76,221.58 635.43,221.45 636.10,221.32 636.77,221.19 637.44,221.06 638.11,220.94 638.78,220.82 639.45,220.70 640.12,220.58 640.79,220.46 641.46,220.34 642.13,220.23 642.80,220.11 643.48,219.99 644.15,219.88 644.82,219.76 645.49,219.65 646.16,219.54 646.83,219.42 647.50,219.31 648.17,219.20 648.84,219.09 649.51,218.99 650.18,218.88 650.85,218.78 651.52,218.68 652.19,218.58 652.86,218.48 653.53,218.38 654.21,218.29 654.88,218.20 655.55,218.11 656.22,218.03 656.89,217.94 657.56,217.86 658.23,217.79 658.90,217.71 659.57,217.64 660.24,217.58 660.91,217.51 661.58,217.45 662.25,217.39 662.92,217.33 663.59,217.27 664.26,217.21 664.94,217.16 665.61,217.11 666.28,217.06 666.95,217.01 667.62,216.96 668.29,216.92 668.96,216.88 669.63,216.84 670.30,216.80" fill="none" stroke="#d8357a" stroke-width="1.7" stroke-linejoin="round" stroke-linecap="round" />
<polygon points="52.6,225.3 132,225.3 132,303.5 53.8,303.5" fill="#eef1f9"/>
<polygon points="17,260.3 52.6,225.3 53.8,226 53.8,299.5 17,338.5" fill="#e1e4eb"/>
<polygon points="17,338.5 53.8,299.5 132,300.5 97,338.5" fill="#f4f5fa"/>
<polygon points="132,225.3 205.6,225.3 205.6,303.5 132,303.5" fill="#f1d9ef"/>
<polygon points="170.7,260.3 205.6,225.3 205.6,303.5 170.7,338.5" fill="#f1d9ef"/>
<polygon points="97,338.5 132,303.5 205.6,303.5 170.7,338.5" fill="#f4e3f2"/>
<line x1="132" y1="303.2" x2="205.6" y2="303.2" stroke="#fbf3fa" stroke-width="0.8"/>
<line x1="53.8" y1="299.5" x2="132" y2="300.5" stroke="#fbfcff" stroke-width="0.8"/>
<polyline points="52.6,225.3 205.6,225.3 205.6,303.5" fill="none" stroke="#3d3d3d" stroke-width="1.2"/>
<line x1="17" y1="260.3" x2="52.6" y2="225.3" stroke="#3d3d3d" stroke-width="1.2"/>
<line x1="170.7" y1="260.3" x2="205.6" y2="225.3" stroke="#3d3d3d" stroke-width="1.2"/>
<line x1="170.7" y1="338.5" x2="205.6" y2="303.5" stroke="#3d3d3d" stroke-width="1.2"/>
<polygon points="96.8,260.3 131.6,226 131.6,303 96.8,337" fill="#8e8193"/>
<circle cx="115.70" cy="252.20" r="6.80" fill="url(#rBd)"/>
<circle cx="104.10" cy="262.40" r="6.80" fill="url(#rBd)"/>
<circle cx="104.10" cy="275.40" r="6.80" fill="url(#rBd)"/>
<circle cx="104.10" cy="288.50" r="6.80" fill="url(#rBd)"/>
<circle cx="104.10" cy="302.20" r="6.80" fill="url(#rBd)"/>
<circle cx="104.10" cy="315.70" r="6.80" fill="url(#rBd)"/>
<circle cx="125.90" cy="255.90" r="6.90" fill="url(#rB)"/>
<circle cx="125.90" cy="270.00" r="6.90" fill="url(#rB)"/>
<circle cx="125.90" cy="283.50" r="6.90" fill="url(#rB)"/>
<circle cx="125.90" cy="297.20" r="6.90" fill="url(#rB)"/>
<circle cx="125.90" cy="310.20" r="6.90" fill="url(#rB)"/>
<circle cx="112.80" cy="264.60" r="6.90" fill="url(#rB)"/>
<circle cx="112.80" cy="277.00" r="6.90" fill="url(#rB)"/>
<circle cx="112.80" cy="290.00" r="6.90" fill="url(#rB)"/>
<circle cx="112.80" cy="303.00" r="6.90" fill="url(#rB)"/>
<circle cx="112.80" cy="316.00" r="6.90" fill="url(#rB)"/>
<line x1="132.2" y1="226" x2="132.2" y2="303" stroke="#111" stroke-width="1.5"/>
<polygon points="95.5,260.3 131.6,225.3 131.6,228 98.2,261 98.2,336.5 95.5,338.5" fill="#050505"/>
<line x1="97" y1="338" x2="131.6" y2="303.2" stroke="#2a2a2a" stroke-width="1.2"/>
<path d="M79.2,275.4 L79.2,215.4 L160.4,215.4 L160.4,275.4 L154,275.4 L154,221.5 L85.3,221.5 L85.3,275.4 Z" fill="#f2f2f2" stroke="#9a9a9a" stroke-width="0.8"/>
<line x1="17" y1="260.3" x2="79.2" y2="260.3" stroke="#3d3d3d" stroke-width="1.3"/>
<line x1="85.3" y1="260.3" x2="154" y2="260.3" stroke="#3d3d3d" stroke-width="1.3"/>
<line x1="160.4" y1="260.3" x2="170.7" y2="260.3" stroke="#3d3d3d" stroke-width="1.3"/>
<polyline points="17,260.3 17,338.5 170.7,338.5 170.7,260.3" fill="none" stroke="#3d3d3d" stroke-width="1.3"/>
<text x="95.6" y="212.4" font-size="10.7" fill="#1a1a1a">Salt bridge</text>
<text x="49" y="236.7" font-size="10.4" fill="#1a1a1a">4-CP</text>
<text x="167" y="237.7" font-size="10.3" fill="#1a1a1a">PMS</text>
<text transform="translate(133.6,272.3) rotate(33)" font-size="10.6" fill="#1a1a1a">PMS<tspan dy="-3" font-size="7.5">*</tspan></text>
<line x1="41.10" y1="274.45" x2="38.58" y2="270.09" stroke="#8c8c8c" stroke-width="1.3608" stroke-linecap="round"/><line x1="46.70" y1="284.15" x2="50.06" y2="289.97" stroke="#8c8c8c" stroke-width="1.3608" stroke-linecap="round"/><line x1="46.70" y1="274.45" x2="48.44" y2="271.44" stroke="#9a9a9a" stroke-width="1.2096" stroke-linecap="round"/><line x1="49.50" y1="279.30" x2="52.97" y2="279.30" stroke="#9a9a9a" stroke-width="1.2096" stroke-linecap="round"/><line x1="41.10" y1="284.15" x2="39.36" y2="287.16" stroke="#9a9a9a" stroke-width="1.2096" stroke-linecap="round"/><line x1="38.30" y1="279.30" x2="34.83" y2="279.30" stroke="#9a9a9a" stroke-width="1.2096" stroke-linecap="round"/><line x1="41.10" y1="274.45" x2="46.70" y2="274.45" stroke="#666666" stroke-width="2.268" stroke-linecap="round"/><line x1="46.70" y1="274.45" x2="49.50" y2="279.30" stroke="#666666" stroke-width="2.268" stroke-linecap="round"/><line x1="49.50" y1="279.30" x2="46.70" y2="284.15" stroke="#666666" stroke-width="2.268" stroke-linecap="round"/><line x1="46.70" y1="284.15" x2="41.10" y2="284.15" stroke="#666666" stroke-width="2.268" stroke-linecap="round"/><line x1="41.10" y1="284.15" x2="38.30" y2="279.30" stroke="#666666" stroke-width="2.268" stroke-linecap="round"/><line x1="38.30" y1="279.30" x2="41.10" y2="274.45" stroke="#666666" stroke-width="2.268" stroke-linecap="round"/><line x1="41.10" y1="274.45" x2="46.70" y2="274.45" stroke="#b0b0b0" stroke-width="0.9072" stroke-linecap="round"/><line x1="46.70" y1="274.45" x2="49.50" y2="279.30" stroke="#b0b0b0" stroke-width="0.9072" stroke-linecap="round"/><line x1="49.50" y1="279.30" x2="46.70" y2="284.15" stroke="#b0b0b0" stroke-width="0.9072" stroke-linecap="round"/><line x1="46.70" y1="284.15" x2="41.10" y2="284.15" stroke="#b0b0b0" stroke-width="0.9072" stroke-linecap="round"/><line x1="41.10" y1="284.15" x2="38.30" y2="279.30" stroke="#b0b0b0" stroke-width="0.9072" stroke-linecap="round"/><line x1="38.30" y1="279.30" x2="41.10" y2="274.45" stroke="#b0b0b0" stroke-width="0.9072" stroke-linecap="round"/><circle cx="41.10" cy="274.45" r="1.62" fill="url(#rC)"/><circle cx="46.70" cy="274.45" r="1.62" fill="url(#rC)"/><circle cx="49.50" cy="279.30" r="1.62" fill="url(#rC)"/><circle cx="46.70" cy="284.15" r="1.62" fill="url(#rC)"/><circle cx="41.10" cy="284.15" r="1.62" fill="url(#rC)"/><circle cx="38.30" cy="279.30" r="1.62" fill="url(#rC)"/><circle cx="48.44" cy="271.44" r="1.51" fill="url(#rH)"/><circle cx="52.97" cy="279.30" r="1.51" fill="url(#rH)"/><circle cx="39.36" cy="287.16" r="1.51" fill="url(#rH)"/><circle cx="34.83" cy="279.30" r="1.51" fill="url(#rH)"/><circle cx="50.06" cy="289.97" r="1.68" fill="url(#rCl)"/><line x1="38.58" y1="270.09" x2="35.16" y2="270.69" stroke="#a0a0a0" stroke-width="1.0584" stroke-linecap="round"/><circle cx="35.16" cy="270.69" r="1.18" fill="url(#rH)"/><circle cx="38.58" cy="270.09" r="1.68" fill="url(#rO)"/>
<line x1="32.91" y1="311.21" x2="28.78" y2="314.10" stroke="#8c8c8c" stroke-width="1.3608" stroke-linecap="round"/><line x1="42.09" y1="304.79" x2="47.59" y2="300.93" stroke="#8c8c8c" stroke-width="1.3608" stroke-linecap="round"/><line x1="32.42" y1="305.63" x2="29.28" y2="304.17" stroke="#9a9a9a" stroke-width="1.2096" stroke-linecap="round"/><line x1="37.01" y1="302.42" x2="36.71" y2="298.96" stroke="#9a9a9a" stroke-width="1.2096" stroke-linecap="round"/><line x1="42.58" y1="310.37" x2="45.72" y2="311.83" stroke="#9a9a9a" stroke-width="1.2096" stroke-linecap="round"/><line x1="37.99" y1="313.58" x2="38.29" y2="317.04" stroke="#9a9a9a" stroke-width="1.2096" stroke-linecap="round"/><line x1="32.91" y1="311.21" x2="32.42" y2="305.63" stroke="#666666" stroke-width="2.268" stroke-linecap="round"/><line x1="32.42" y1="305.63" x2="37.01" y2="302.42" stroke="#666666" stroke-width="2.268" stroke-linecap="round"/><line x1="37.01" y1="302.42" x2="42.09" y2="304.79" stroke="#666666" stroke-width="2.268" stroke-linecap="round"/><line x1="42.09" y1="304.79" x2="42.58" y2="310.37" stroke="#666666" stroke-width="2.268" stroke-linecap="round"/><line x1="42.58" y1="310.37" x2="37.99" y2="313.58" stroke="#666666" stroke-width="2.268" stroke-linecap="round"/><line x1="37.99" y1="313.58" x2="32.91" y2="311.21" stroke="#666666" stroke-width="2.268" stroke-linecap="round"/><line x1="32.91" y1="311.21" x2="32.42" y2="305.63" stroke="#b0b0b0" stroke-width="0.9072" stroke-linecap="round"/><line x1="32.42" y1="305.63" x2="37.01" y2="302.42" stroke="#b0b0b0" stroke-width="0.9072" stroke-linecap="round"/><line x1="37.01" y1="302.42" x2="42.09" y2="304.79" stroke="#b0b0b0" stroke-width="0.9072" stroke-linecap="round"/><line x1="42.09" y1="304.79" x2="42.58" y2="310.37" stroke="#b0b0b0" stroke-width="0.9072" stroke-linecap="round"/><line x1="42.58" y1="310.37" x2="37.99" y2="313.58" stroke="#b0b0b0" stroke-width="0.9072" stroke-linecap="round"/><line x1="37.99" y1="313.58" x2="32.91" y2="311.21" stroke="#b0b0b0" stroke-width="0.9072" stroke-linecap="round"/><circle cx="32.91" cy="311.21" r="1.62" fill="url(#rC)"/><circle cx="32.42" cy="305.63" r="1.62" fill="url(#rC)"/><circle cx="37.01" cy="302.42" r="1.62" fill="url(#rC)"/><circle cx="42.09" cy="304.79" r="1.62" fill="url(#rC)"/><circle cx="42.58" cy="310.37" r="1.62" fill="url(#rC)"/><circle cx="37.99" cy="313.58" r="1.62" fill="url(#rC)"/><circle cx="29.28" cy="304.17" r="1.51" fill="url(#rH)"/><circle cx="36.71" cy="298.96" r="1.51" fill="url(#rH)"/><circle cx="45.72" cy="311.83" r="1.51" fill="url(#rH)"/><circle cx="38.29" cy="317.04" r="1.51" fill="url(#rH)"/><circle cx="47.59" cy="300.93" r="1.68" fill="url(#rCl)"/><line x1="28.78" y1="314.10" x2="29.68" y2="317.46" stroke="#a0a0a0" stroke-width="1.0584" stroke-linecap="round"/><circle cx="29.68" cy="317.46" r="1.18" fill="url(#rH)"/><circle cx="28.78" cy="314.10" r="1.68" fill="url(#rO)"/>
<line x1="64.20" y1="322.70" x2="59.16" y2="322.70" stroke="#8c8c8c" stroke-width="1.3608" stroke-linecap="round"/><line x1="75.40" y1="322.70" x2="82.12" y2="322.70" stroke="#8c8c8c" stroke-width="1.3608" stroke-linecap="round"/><line x1="67.00" y1="317.85" x2="65.26" y2="314.84" stroke="#9a9a9a" stroke-width="1.2096" stroke-linecap="round"/><line x1="72.60" y1="317.85" x2="74.34" y2="314.84" stroke="#9a9a9a" stroke-width="1.2096" stroke-linecap="round"/><line x1="72.60" y1="327.55" x2="74.34" y2="330.56" stroke="#9a9a9a" stroke-width="1.2096" stroke-linecap="round"/><line x1="67.00" y1="327.55" x2="65.26" y2="330.56" stroke="#9a9a9a" stroke-width="1.2096" stroke-linecap="round"/><line x1="64.20" y1="322.70" x2="67.00" y2="317.85" stroke="#666666" stroke-width="2.268" stroke-linecap="round"/><line x1="67.00" y1="317.85" x2="72.60" y2="317.85" stroke="#666666" stroke-width="2.268" stroke-linecap="round"/><line x1="72.60" y1="317.85" x2="75.40" y2="322.70" stroke="#666666" stroke-width="2.268" stroke-linecap="round"/><line x1="75.40" y1="322.70" x2="72.60" y2="327.55" stroke="#666666" stroke-width="2.268" stroke-linecap="round"/><line x1="72.60" y1="327.55" x2="67.00" y2="327.55" stroke="#666666" stroke-width="2.268" stroke-linecap="round"/><line x1="67.00" y1="327.55" x2="64.20" y2="322.70" stroke="#666666" stroke-width="2.268" stroke-linecap="round"/><line x1="64.20" y1="322.70" x2="67.00" y2="317.85" stroke="#b0b0b0" stroke-width="0.9072" stroke-linecap="round"/><line x1="67.00" y1="317.85" x2="72.60" y2="317.85" stroke="#b0b0b0" stroke-width="0.9072" stroke-linecap="round"/><line x1="72.60" y1="317.85" x2="75.40" y2="322.70" stroke="#b0b0b0" stroke-width="0.9072" stroke-linecap="round"/><line x1="75.40" y1="322.70" x2="72.60" y2="327.55" stroke="#b0b0b0" stroke-width="0.9072" stroke-linecap="round"/><line x1="72.60" y1="327.55" x2="67.00" y2="327.55" stroke="#b0b0b0" stroke-width="0.9072" stroke-linecap="round"/><line x1="67.00" y1="327.55" x2="64.20" y2="322.70" stroke="#b0b0b0" stroke-width="0.9072" stroke-linecap="round"/><circle cx="64.20" cy="322.70" r="1.62" fill="url(#rC)"/><circle cx="67.00" cy="317.85" r="1.62" fill="url(#rC)"/><circle cx="72.60" cy="317.85" r="1.62" fill="url(#rC)"/><circle cx="75.40" cy="322.70" r="1.62" fill="url(#rC)"/><circle cx="72.60" cy="327.55" r="1.62" fill="url(#rC)"/><circle cx="67.00" cy="327.55" r="1.62" fill="url(#rC)"/><circle cx="65.26" cy="314.84" r="1.51" fill="url(#rH)"/><circle cx="74.34" cy="314.84" r="1.51" fill="url(#rH)"/><circle cx="74.34" cy="330.56" r="1.51" fill="url(#rH)"/><circle cx="65.26" cy="330.56" r="1.51" fill="url(#rH)"/><circle cx="82.12" cy="322.70" r="1.68" fill="url(#rCl)"/><line x1="59.16" y1="322.70" x2="57.97" y2="325.96" stroke="#a0a0a0" stroke-width="1.0584" stroke-linecap="round"/><circle cx="57.97" cy="325.96" r="1.18" fill="url(#rH)"/><circle cx="59.16" cy="322.70" r="1.68" fill="url(#rO)"/>
<path d="M69.3,313 C69.3,304 74,299.3 82,299.3 L97,299.3 L97,303.3 L83,303.3 C77,303.3 73.9,307 73.9,313 Z" fill="#fafafa" stroke="#8a8a8a" stroke-width="0.7"/>
<polygon points="97.5,296.3 104.5,301.3 97.5,306.3" fill="#b8b8bc" opacity="0.85"/>
<circle cx="65.40" cy="301.30" r="5.60" fill="url(#rE)"/>
<text x="61.80" y="304.70" font-family="Liberation Serif" font-weight="bold" font-style="italic" font-size="11" fill="#111">e</text>
<text x="66.90" y="300.10" font-size="5" font-weight="bold" fill="#111">-</text>
<circle cx="81.90" cy="292.00" r="5.60" fill="url(#rE)"/>
<text x="78.30" y="295.40" font-family="Liberation Serif" font-weight="bold" font-style="italic" font-size="11" fill="#111">e</text>
<text x="83.40" y="290.80" font-size="5" font-weight="bold" fill="#111">-</text>
<circle cx="98.00" cy="289.20" r="5.60" fill="url(#rE)"/>
<text x="94.40" y="292.60" font-family="Liberation Serif" font-weight="bold" font-style="italic" font-size="11" fill="#111">e</text>
<text x="99.50" y="288.00" font-size="5" font-weight="bold" fill="#111">-</text>
<path d="M146.2,313.8 C153.5,306 155,295.5 148.5,289.5 C145,286.6 140.5,285.8 136.5,286.3 L136.3,283.6 L130,288.6 L136.8,292.6 L136.6,290.2 C140.5,289.8 143.8,290.5 145.6,292.6 C149,296.5 147.5,305 142.5,311.2 Z" fill="#f4eef5" stroke="#d65ec4" stroke-width="0.8"/>
<line x1="184.70" y1="267.40" x2="180.60" y2="265.85" stroke="#d8c81a" stroke-width="1.3" stroke-linecap="round"/><line x1="180.60" y1="265.85" x2="176.50" y2="264.30" stroke="#d81a1a" stroke-width="1.3" stroke-linecap="round"/><line x1="184.70" y1="267.40" x2="185.70" y2="263.70" stroke="#d8c81a" stroke-width="1.3" stroke-linecap="round"/><line x1="185.70" y1="263.70" x2="186.70" y2="260.00" stroke="#d81a1a" stroke-width="1.3" stroke-linecap="round"/><line x1="184.70" y1="267.40" x2="185.00" y2="271.95" stroke="#d8c81a" stroke-width="1.3" stroke-linecap="round"/><line x1="185.00" y1="271.95" x2="185.30" y2="276.50" stroke="#d81a1a" stroke-width="1.3" stroke-linecap="round"/><line x1="184.70" y1="267.40" x2="188.50" y2="266.75" stroke="#d8c81a" stroke-width="1.3" stroke-linecap="round"/><line x1="188.50" y1="266.75" x2="192.30" y2="266.10" stroke="#d81a1a" stroke-width="1.3" stroke-linecap="round"/><line x1="192.30" y1="266.10" x2="192.60" y2="256.10" stroke="#d81a1a" stroke-width="1.3" stroke-linecap="round"/><line x1="192.60" y1="256.10" x2="196.50" y2="253.60" stroke="#c0c0c0" stroke-width="1.1" stroke-linecap="round"/><circle cx="196.50" cy="253.60" r="2.10" fill="url(#rH)"/><circle cx="192.60" cy="256.10" r="2.30" fill="url(#rO)"/><circle cx="184.70" cy="267.40" r="2.30" fill="url(#rS)"/><circle cx="176.50" cy="264.30" r="2.30" fill="url(#rO)"/><circle cx="186.70" cy="260.00" r="2.30" fill="url(#rO)"/><circle cx="185.30" cy="276.50" r="2.30" fill="url(#rO)"/><circle cx="192.30" cy="266.10" r="2.30" fill="url(#rO)"/>
<line x1="175.60" y1="302.30" x2="172.95" y2="299.25" stroke="#d8c81a" stroke-width="1.3" stroke-linecap="round"/><line x1="172.95" y1="299.25" x2="170.30" y2="296.20" stroke="#d81a1a" stroke-width="1.3" stroke-linecap="round"/><line x1="175.60" y1="302.30" x2="178.20" y2="300.10" stroke="#d8c81a" stroke-width="1.3" stroke-linecap="round"/><line x1="178.20" y1="300.10" x2="180.80" y2="297.90" stroke="#d81a1a" stroke-width="1.3" stroke-linecap="round"/><line x1="175.60" y1="302.30" x2="173.15" y2="306.65" stroke="#d8c81a" stroke-width="1.3" stroke-linecap="round"/><line x1="173.15" y1="306.65" x2="170.70" y2="311.00" stroke="#d81a1a" stroke-width="1.3" stroke-linecap="round"/><line x1="175.60" y1="302.30" x2="179.10" y2="304.50" stroke="#d8c81a" stroke-width="1.3" stroke-linecap="round"/><line x1="179.10" y1="304.50" x2="182.60" y2="306.70" stroke="#d81a1a" stroke-width="1.3" stroke-linecap="round"/><line x1="182.60" y1="306.70" x2="187.90" y2="297.90" stroke="#d81a1a" stroke-width="1.3" stroke-linecap="round"/><line x1="187.90" y1="297.90" x2="193.10" y2="297.90" stroke="#c0c0c0" stroke-width="1.1" stroke-linecap="round"/><circle cx="193.10" cy="297.90" r="2.10" fill="url(#rH)"/><circle cx="187.90" cy="297.90" r="2.30" fill="url(#rO)"/><circle cx="175.60" cy="302.30" r="2.30" fill="url(#rS)"/><circle cx="170.30" cy="296.20" r="2.30" fill="url(#rO)"/><circle cx="180.80" cy="297.90" r="2.30" fill="url(#rO)"/><circle cx="170.70" cy="311.00" r="2.30" fill="url(#rO)"/><circle cx="182.60" cy="306.70" r="2.30" fill="url(#rO)"/>
<line x1="141.40" y1="317.20" x2="140.80" y2="313.25" stroke="#d8c81a" stroke-width="1.3" stroke-linecap="round"/><line x1="140.80" y1="313.25" x2="140.20" y2="309.30" stroke="#d81a1a" stroke-width="1.3" stroke-linecap="round"/><line x1="141.40" y1="317.20" x2="144.90" y2="316.75" stroke="#d8c81a" stroke-width="1.3" stroke-linecap="round"/><line x1="144.90" y1="316.75" x2="148.40" y2="316.30" stroke="#d81a1a" stroke-width="1.3" stroke-linecap="round"/><line x1="141.40" y1="317.20" x2="137.65" y2="319.80" stroke="#d8c81a" stroke-width="1.3" stroke-linecap="round"/><line x1="137.65" y1="319.80" x2="133.90" y2="322.40" stroke="#d81a1a" stroke-width="1.3" stroke-linecap="round"/><line x1="141.40" y1="317.20" x2="143.80" y2="320.95" stroke="#d8c81a" stroke-width="1.3" stroke-linecap="round"/><line x1="143.80" y1="320.95" x2="146.20" y2="324.70" stroke="#d81a1a" stroke-width="1.3" stroke-linecap="round"/><line x1="146.20" y1="324.70" x2="154.60" y2="320.20" stroke="#d81a1a" stroke-width="1.3" stroke-linecap="round"/><line x1="154.60" y1="320.20" x2="159.00" y2="322.40" stroke="#c0c0c0" stroke-width="1.1" stroke-linecap="round"/><circle cx="159.00" cy="322.40" r="2.10" fill="url(#rH)"/><circle cx="154.60" cy="320.20" r="2.30" fill="url(#rO)"/><circle cx="141.40" cy="317.20" r="2.30" fill="url(#rS)"/><circle cx="140.20" cy="309.30" r="2.30" fill="url(#rO)"/><circle cx="148.40" cy="316.30" r="2.30" fill="url(#rO)"/><circle cx="133.90" cy="322.40" r="2.30" fill="url(#rO)"/><circle cx="146.20" cy="324.70" r="2.30" fill="url(#rO)"/>
<defs><radialGradient id="gGreen" cx="0.5" cy="0.5" r="0.5"><stop offset="0" stop-color="#e2efdb"/><stop offset="0.8" stop-color="#d6e8cd"/><stop offset="1" stop-color="#cfe3c5"/></radialGradient><radialGradient id="gPink" cx="0.5" cy="0.5" r="0.5"><stop offset="0" stop-color="#eddcee"/><stop offset="0.8" stop-color="#e6d2e7"/><stop offset="1" stop-color="#dfc9e1"/></radialGradient><radialGradient id="gPink2" cx="0.5" cy="0.5" r="0.5"><stop offset="0" stop-color="#f4dff4"/><stop offset="1" stop-color="#ebcbeb"/></radialGradient><linearGradient id="gOr" x1="298" y1="0" x2="354" y2="0" gradientUnits="userSpaceOnUse"><stop offset="0" stop-color="#fffdfb"/><stop offset="0.35" stop-color="#fde6d2"/><stop offset="1" stop-color="#fdb070"/></linearGradient></defs>
<rect x="77.7" y="380.8" width="184.9" height="22.1" rx="3.5" fill="#fff" stroke="#a0a0a0" stroke-width="0.9"/>
<text x="170.2" y="396.8" font-size="10" text-anchor="middle" fill="#1a1a1a"><tspan font-size="6.6" dy="-3.4">1</tspan><tspan dy="3.4">O</tspan><tspan font-size="6.6" dy="2.3">2</tspan><tspan dy="-2.2">- dominated pathway</tspan></text>
<rect x="384.5" y="381.2" width="209.7" height="22" rx="3.5" fill="#fff" stroke="#a0a0a0" stroke-width="0.9"/>
<text x="490.1" y="396.3" font-size="10" text-anchor="middle" fill="#1a1a1a">ETP- dominated pathway</text>
<circle cx="65.8" cy="441.1" r="25.8" fill="url(#gGreen)"/>
<text x="65.8" y="425.4" font-size="10.1" text-anchor="middle" fill="#1a1a1a">4-CP</text>
<line x1="77.00" y1="442.40" x2="85.91" y2="442.40" stroke="#8c8c8c" stroke-width="2.4057000000000004" stroke-linecap="round"/><line x1="57.20" y1="442.40" x2="45.32" y2="442.40" stroke="#8c8c8c" stroke-width="2.4057000000000004" stroke-linecap="round"/><line x1="72.05" y1="450.97" x2="75.12" y2="456.29" stroke="#9a9a9a" stroke-width="2.1384000000000003" stroke-linecap="round"/><line x1="62.15" y1="450.97" x2="59.08" y2="456.29" stroke="#9a9a9a" stroke-width="2.1384000000000003" stroke-linecap="round"/><line x1="62.15" y1="433.83" x2="59.08" y2="428.51" stroke="#9a9a9a" stroke-width="2.1384000000000003" stroke-linecap="round"/><line x1="72.05" y1="433.83" x2="75.12" y2="428.51" stroke="#9a9a9a" stroke-width="2.1384000000000003" stroke-linecap="round"/><line x1="77.00" y1="442.40" x2="72.05" y2="450.97" stroke="#666666" stroke-width="4.009500000000001" stroke-linecap="round"/><line x1="72.05" y1="450.97" x2="62.15" y2="450.97" stroke="#666666" stroke-width="4.009500000000001" stroke-linecap="round"/><line x1="62.15" y1="450.97" x2="57.20" y2="442.40" stroke="#666666" stroke-width="4.009500000000001" stroke-linecap="round"/><line x1="57.20" y1="442.40" x2="62.15" y2="433.83" stroke="#666666" stroke-width="4.009500000000001" stroke-linecap="round"/><line x1="62.15" y1="433.83" x2="72.05" y2="433.83" stroke="#666666" stroke-width="4.009500000000001" stroke-linecap="round"/><line x1="72.05" y1="433.83" x2="77.00" y2="442.40" stroke="#666666" stroke-width="4.009500000000001" stroke-linecap="round"/><line x1="77.00" y1="442.40" x2="72.05" y2="450.97" stroke="#b0b0b0" stroke-width="1.6038000000000003" stroke-linecap="round"/><line x1="72.05" y1="450.97" x2="62.15" y2="450.97" stroke="#b0b0b0" stroke-width="1.6038000000000003" stroke-linecap="round"/><line x1="62.15" y1="450.97" x2="57.20" y2="442.40" stroke="#b0b0b0" stroke-width="1.6038000000000003" stroke-linecap="round"/><line x1="57.20" y1="442.40" x2="62.15" y2="433.83" stroke="#b0b0b0" stroke-width="1.6038000000000003" stroke-linecap="round"/><line x1="62.15" y1="433.83" x2="72.05" y2="433.83" stroke="#b0b0b0" stroke-width="1.6038000000000003" stroke-linecap="round"/><line x1="72.05" y1="433.83" x2="77.00" y2="442.40" stroke="#b0b0b0" stroke-width="1.6038000000000003" stroke-linecap="round"/><circle cx="77.00" cy="442.40" r="2.87" fill="url(#rC)"/><circle cx="72.05" cy="450.97" r="2.87" fill="url(#rC)"/><circle cx="62.15" cy="450.97" r="2.87" fill="url(#rC)"/><circle cx="57.20" cy="442.40" r="2.87" fill="url(#rC)"/><circle cx="62.15" cy="433.83" r="2.87" fill="url(#rC)"/><circle cx="72.05" cy="433.83" r="2.87" fill="url(#rC)"/><circle cx="75.12" cy="456.29" r="2.67" fill="url(#rH)"/><circle cx="59.08" cy="456.29" r="2.67" fill="url(#rH)"/><circle cx="59.08" cy="428.51" r="2.67" fill="url(#rH)"/><circle cx="75.12" cy="428.51" r="2.67" fill="url(#rH)"/><circle cx="45.32" cy="442.40" r="2.97" fill="url(#rCl)"/><line x1="85.91" y1="442.40" x2="88.01" y2="436.63" stroke="#a0a0a0" stroke-width="1.8711000000000002" stroke-linecap="round"/><circle cx="88.01" cy="436.63" r="2.08" fill="url(#rH)"/><circle cx="85.91" cy="442.40" r="2.97" fill="url(#rO)"/>
<circle cx="235.8" cy="441.0" r="25.6" fill="url(#gPink)"/>
<text x="237.4" y="428.6" font-size="10" text-anchor="middle" fill="#1a1a1a">PMS</text>
<line x1="228.70" y1="442.20" x2="225.60" y2="436.80" stroke="#d8c81a" stroke-width="2.08" stroke-linecap="round"/><line x1="225.60" y1="436.80" x2="222.50" y2="431.40" stroke="#d81a1a" stroke-width="2.08" stroke-linecap="round"/><line x1="228.70" y1="442.20" x2="233.50" y2="439.65" stroke="#d8c81a" stroke-width="2.08" stroke-linecap="round"/><line x1="233.50" y1="439.65" x2="238.30" y2="437.10" stroke="#d81a1a" stroke-width="2.08" stroke-linecap="round"/><line x1="228.70" y1="442.20" x2="225.60" y2="447.80" stroke="#d8c81a" stroke-width="2.08" stroke-linecap="round"/><line x1="225.60" y1="447.80" x2="222.50" y2="453.40" stroke="#d81a1a" stroke-width="2.08" stroke-linecap="round"/><line x1="228.70" y1="442.20" x2="234.60" y2="445.55" stroke="#d8c81a" stroke-width="2.08" stroke-linecap="round"/><line x1="234.60" y1="445.55" x2="240.50" y2="448.90" stroke="#d81a1a" stroke-width="2.08" stroke-linecap="round"/><line x1="240.50" y1="448.90" x2="249.60" y2="438.80" stroke="#d81a1a" stroke-width="2.08" stroke-linecap="round"/><line x1="249.60" y1="438.80" x2="256.30" y2="439.90" stroke="#c0c0c0" stroke-width="1.8199999999999998" stroke-linecap="round"/><circle cx="256.30" cy="439.90" r="3.32" fill="url(#rH)"/><circle cx="228.70" cy="442.20" r="2.98" fill="url(#rS)"/><circle cx="222.50" cy="431.40" r="3.50" fill="url(#rO)"/><circle cx="238.30" cy="437.10" r="3.50" fill="url(#rO)"/><circle cx="222.50" cy="453.40" r="3.50" fill="url(#rO)"/><circle cx="240.50" cy="448.90" r="3.50" fill="url(#rO)"/><circle cx="249.60" cy="438.80" r="3.50" fill="url(#rO)"/>
<path d="M91.3,438.8 C100,438.3 106,440 110.5,444.5 C114.5,449.5 119,452.6 129.5,453.7" fill="none" stroke="#7a7a7a" stroke-width="1.8"/>
<polygon points="135.00,454.10 128.78,456.84 129.26,450.46" fill="#7a7a7a"/>
<circle cx="114.7" cy="435.3" r="7.2" fill="#fff" stroke="#9fd3f2" stroke-width="1.1"/>
<text x="110.4" y="439.0" font-size="10.5" font-weight="bold" font-style="italic" fill="#111">e</text><text x="116.6" y="434.0" font-size="7" font-weight="bold" fill="#111">-</text>
<circle cx="147.5" cy="447.4" r="12.6" fill="url(#gPink2)"/>
<text x="147.7" y="451.0" font-size="9.8" text-anchor="middle" fill="#1a1a1a"><tspan font-size="6.5" dy="-3.6">1</tspan><tspan dy="3.6">O</tspan><tspan font-size="6.5" dy="2.4">2</tspan></text>
<polygon points="37,541 73,499.5 273,503 233,544.5" fill="#a59e97"/>
<circle cx="74.40" cy="500.80" r="4.00" fill="url(#rLt)"/><circle cx="89.14" cy="500.92" r="4.00" fill="url(#rLt)"/><circle cx="103.88" cy="501.04" r="4.00" fill="url(#rLt)"/><circle cx="118.62" cy="501.16" r="4.00" fill="url(#rLt)"/><circle cx="133.36" cy="501.27" r="4.00" fill="url(#rLt)"/><circle cx="148.10" cy="501.39" r="4.00" fill="url(#rLt)"/><circle cx="162.84" cy="501.51" r="4.00" fill="url(#rLt)"/><circle cx="177.59" cy="501.63" r="4.00" fill="url(#rLt)"/><circle cx="192.33" cy="501.75" r="4.00" fill="url(#rLt)"/><circle cx="207.07" cy="501.87" r="4.00" fill="url(#rLt)"/><circle cx="221.81" cy="501.99" r="4.00" fill="url(#rLt)"/><circle cx="236.55" cy="502.10" r="4.00" fill="url(#rLt)"/><circle cx="251.29" cy="502.22" r="4.00" fill="url(#rLt)"/><circle cx="266.03" cy="502.34" r="4.00" fill="url(#rLt)"/><circle cx="79.97" cy="502.87" r="4.00" fill="url(#rLt)"/><circle cx="94.69" cy="502.99" r="4.00" fill="url(#rLt)"/><circle cx="109.41" cy="503.11" r="4.00" fill="url(#rLt)"/><circle cx="124.13" cy="503.22" r="4.00" fill="url(#rLt)"/><circle cx="138.85" cy="503.34" r="4.00" fill="url(#rLt)"/><circle cx="153.57" cy="503.46" r="4.00" fill="url(#rLt)"/><circle cx="168.29" cy="503.58" r="4.00" fill="url(#rLt)"/><circle cx="183.00" cy="503.70" r="4.00" fill="url(#rLt)"/><circle cx="197.72" cy="503.82" r="4.00" fill="url(#rLt)"/><circle cx="212.44" cy="503.94" r="4.00" fill="url(#rLt)"/><circle cx="227.16" cy="504.05" r="4.00" fill="url(#rLt)"/><circle cx="241.88" cy="504.17" r="4.00" fill="url(#rLt)"/><circle cx="256.60" cy="504.29" r="4.00" fill="url(#rLt)"/><circle cx="271.32" cy="504.41" r="4.00" fill="url(#rLt)"/><circle cx="70.82" cy="504.82" r="4.00" fill="url(#rLt)"/><circle cx="85.52" cy="504.94" r="4.00" fill="url(#rLt)"/><circle cx="100.22" cy="505.06" r="4.00" fill="url(#rLt)"/><circle cx="114.91" cy="505.18" r="4.00" fill="url(#rLt)"/><circle cx="129.61" cy="505.29" r="4.00" fill="url(#rLt)"/><circle cx="144.31" cy="505.41" r="4.00" fill="url(#rLt)"/><circle cx="159.01" cy="505.53" r="4.00" fill="url(#rLt)"/><circle cx="173.70" cy="505.65" r="4.00" fill="url(#rLt)"/><circle cx="188.40" cy="505.77" r="4.00" fill="url(#rLt)"/><circle cx="203.10" cy="505.89" r="4.00" fill="url(#rLt)"/><circle cx="217.80" cy="506.01" r="4.00" fill="url(#rLt)"/><circle cx="232.50" cy="506.12" r="4.00" fill="url(#rLt)"/><circle cx="247.19" cy="506.24" r="4.00" fill="url(#rLt)"/><circle cx="261.89" cy="506.36" r="4.00" fill="url(#rLt)"/><circle cx="76.37" cy="506.89" r="4.00" fill="url(#rLt)"/><circle cx="91.04" cy="507.01" r="4.00" fill="url(#rLt)"/><circle cx="105.72" cy="507.13" r="4.00" fill="url(#rLt)"/><circle cx="120.40" cy="507.24" r="4.00" fill="url(#rLt)"/><circle cx="135.07" cy="507.36" r="4.00" fill="url(#rLt)"/><circle cx="149.75" cy="507.48" r="4.00" fill="url(#rLt)"/><circle cx="164.43" cy="507.60" r="4.00" fill="url(#rLt)"/><circle cx="179.10" cy="507.72" r="4.00" fill="url(#rLt)"/><circle cx="193.78" cy="507.84" r="4.00" fill="url(#rLt)"/><circle cx="208.45" cy="507.96" r="4.00" fill="url(#rLt)"/><circle cx="223.13" cy="508.07" r="4.00" fill="url(#rLt)"/><circle cx="237.81" cy="508.19" r="4.00" fill="url(#rLt)"/><circle cx="252.48" cy="508.31" r="4.00" fill="url(#rLt)"/><circle cx="267.16" cy="508.43" r="4.00" fill="url(#rLt)"/><circle cx="67.24" cy="508.84" r="4.00" fill="url(#rLt)"/><circle cx="81.89" cy="508.96" r="4.00" fill="url(#rLt)"/><circle cx="96.55" cy="509.08" r="4.00" fill="url(#rLt)"/><circle cx="111.20" cy="509.20" r="4.00" fill="url(#rLt)"/><circle cx="125.86" cy="509.31" r="4.00" fill="url(#rLt)"/><circle cx="140.51" cy="509.43" r="4.00" fill="url(#rLt)"/><circle cx="155.17" cy="509.55" r="4.00" fill="url(#rLt)"/><circle cx="169.82" cy="509.67" r="4.00" fill="url(#rLt)"/><circle cx="184.48" cy="509.79" r="4.00" fill="url(#rLt)"/><circle cx="199.13" cy="509.91" r="4.00" fill="url(#rLt)"/><circle cx="213.79" cy="510.03" r="4.00" fill="url(#rLt)"/><circle cx="228.44" cy="510.14" r="4.00" fill="url(#rLt)"/><circle cx="243.10" cy="510.26" r="4.00" fill="url(#rLt)"/><circle cx="257.75" cy="510.38" r="4.00" fill="url(#rLt)"/><circle cx="72.77" cy="510.91" r="4.00" fill="url(#rLt)"/><circle cx="87.40" cy="511.03" r="4.00" fill="url(#rLt)"/><circle cx="102.03" cy="511.15" r="4.00" fill="url(#rLt)"/><circle cx="116.67" cy="511.26" r="4.00" fill="url(#rLt)"/><circle cx="131.30" cy="511.38" r="4.00" fill="url(#rLt)"/><circle cx="145.93" cy="511.50" r="4.00" fill="url(#rLt)"/><circle cx="160.57" cy="511.62" r="4.00" fill="url(#rLt)"/><circle cx="175.20" cy="511.74" r="4.00" fill="url(#rLt)"/><circle cx="189.83" cy="511.86" r="4.00" fill="url(#rLt)"/><circle cx="204.47" cy="511.98" r="4.00" fill="url(#rLt)"/><circle cx="219.10" cy="512.09" r="4.00" fill="url(#rLt)"/><circle cx="233.73" cy="512.21" r="4.00" fill="url(#rLt)"/><circle cx="248.37" cy="512.33" r="4.00" fill="url(#rLt)"/><circle cx="263.00" cy="512.45" r="4.00" fill="url(#rLt)"/><circle cx="63.66" cy="512.86" r="4.00" fill="url(#rLt)"/><circle cx="78.27" cy="512.98" r="4.00" fill="url(#rLt)"/><circle cx="92.88" cy="513.10" r="4.00" fill="url(#rLt)"/><circle cx="107.50" cy="513.22" r="4.00" fill="url(#rLt)"/><circle cx="122.11" cy="513.33" r="4.00" fill="url(#rLt)"/><circle cx="136.72" cy="513.45" r="4.00" fill="url(#rLt)"/><circle cx="151.33" cy="513.57" r="4.00" fill="url(#rLt)"/><circle cx="165.94" cy="513.69" r="4.00" fill="url(#rLt)"/><circle cx="180.55" cy="513.81" r="4.00" fill="url(#rLt)"/><circle cx="195.17" cy="513.93" r="4.00" fill="url(#rLt)"/><circle cx="209.78" cy="514.05" r="4.00" fill="url(#rLt)"/><circle cx="224.39" cy="514.16" r="4.00" fill="url(#rLt)"/><circle cx="239.00" cy="514.28" r="4.00" fill="url(#rLt)"/><circle cx="253.61" cy="514.40" r="4.00" fill="url(#rLt)"/><circle cx="69.17" cy="514.93" r="4.00" fill="url(#rLt)"/><circle cx="83.76" cy="515.05" r="4.00" fill="url(#rLt)"/><circle cx="98.35" cy="515.17" r="4.00" fill="url(#rLt)"/><circle cx="112.94" cy="515.28" r="4.00" fill="url(#rLt)"/><circle cx="127.53" cy="515.40" r="4.00" fill="url(#rLt)"/><circle cx="142.12" cy="515.52" r="4.00" fill="url(#rLt)"/><circle cx="156.71" cy="515.64" r="4.00" fill="url(#rLt)"/><circle cx="171.30" cy="515.76" r="4.00" fill="url(#rLt)"/><circle cx="185.89" cy="515.88" r="4.00" fill="url(#rLt)"/><circle cx="200.48" cy="516.00" r="4.00" fill="url(#rLt)"/><circle cx="215.07" cy="516.11" r="4.00" fill="url(#rLt)"/><circle cx="229.66" cy="516.23" r="4.00" fill="url(#rLt)"/><circle cx="244.25" cy="516.35" r="4.00" fill="url(#rLt)"/><circle cx="258.84" cy="516.47" r="4.00" fill="url(#rLt)"/><circle cx="60.08" cy="516.88" r="4.00" fill="url(#rLt)"/><circle cx="74.65" cy="517.00" r="4.00" fill="url(#rLt)"/><circle cx="89.22" cy="517.12" r="4.00" fill="url(#rLt)"/><circle cx="103.79" cy="517.24" r="4.00" fill="url(#rLt)"/><circle cx="118.36" cy="517.35" r="4.00" fill="url(#rLt)"/><circle cx="132.92" cy="517.47" r="4.00" fill="url(#rLt)"/><circle cx="147.49" cy="517.59" r="4.00" fill="url(#rLt)"/><circle cx="162.06" cy="517.71" r="4.00" fill="url(#rLt)"/><circle cx="176.63" cy="517.83" r="4.00" fill="url(#rLt)"/><circle cx="191.20" cy="517.95" r="4.00" fill="url(#rLt)"/><circle cx="205.77" cy="518.07" r="4.00" fill="url(#rLt)"/><circle cx="220.34" cy="518.18" r="4.00" fill="url(#rLt)"/><circle cx="234.91" cy="518.30" r="4.00" fill="url(#rLt)"/><circle cx="249.48" cy="518.42" r="4.00" fill="url(#rLt)"/><circle cx="65.56" cy="518.95" r="4.00" fill="url(#rLt)"/><circle cx="80.11" cy="519.07" r="4.00" fill="url(#rLt)"/><circle cx="94.66" cy="519.19" r="4.00" fill="url(#rLt)"/><circle cx="109.21" cy="519.30" r="4.00" fill="url(#rLt)"/><circle cx="123.75" cy="519.42" r="4.00" fill="url(#rLt)"/><circle cx="138.30" cy="519.54" r="4.00" fill="url(#rLt)"/><circle cx="152.85" cy="519.66" r="4.00" fill="url(#rLt)"/><circle cx="167.40" cy="519.78" r="4.00" fill="url(#rLt)"/><circle cx="181.94" cy="519.90" r="4.00" fill="url(#rLt)"/><circle cx="196.49" cy="520.02" r="4.00" fill="url(#rLt)"/><circle cx="211.04" cy="520.13" r="4.00" fill="url(#rLt)"/><circle cx="225.59" cy="520.25" r="4.00" fill="url(#rLt)"/><circle cx="240.13" cy="520.37" r="4.00" fill="url(#rLt)"/><circle cx="254.68" cy="520.49" r="4.00" fill="url(#rLt)"/><circle cx="56.50" cy="520.90" r="4.00" fill="url(#rLt)"/><circle cx="71.03" cy="521.02" r="4.00" fill="url(#rLt)"/><circle cx="85.55" cy="521.14" r="4.00" fill="url(#rLt)"/><circle cx="100.08" cy="521.26" r="4.00" fill="url(#rLt)"/><circle cx="114.60" cy="521.37" r="4.00" fill="url(#rLt)"/><circle cx="129.13" cy="521.49" r="4.00" fill="url(#rLt)"/><circle cx="143.66" cy="521.61" r="4.00" fill="url(#rLt)"/><circle cx="158.18" cy="521.73" r="4.00" fill="url(#rLt)"/><circle cx="172.71" cy="521.85" r="4.00" fill="url(#rLt)"/><circle cx="187.23" cy="521.97" r="4.00" fill="url(#rLt)"/><circle cx="201.76" cy="522.09" r="4.00" fill="url(#rLt)"/><circle cx="216.29" cy="522.20" r="4.00" fill="url(#rLt)"/><circle cx="230.81" cy="522.32" r="4.00" fill="url(#rLt)"/><circle cx="245.34" cy="522.44" r="4.00" fill="url(#rLt)"/><circle cx="61.96" cy="522.97" r="4.00" fill="url(#rLt)"/><circle cx="76.47" cy="523.09" r="4.00" fill="url(#rLt)"/><circle cx="90.97" cy="523.21" r="4.00" fill="url(#rLt)"/><circle cx="105.48" cy="523.32" r="4.00" fill="url(#rLt)"/><circle cx="119.98" cy="523.44" r="4.00" fill="url(#rLt)"/><circle cx="134.48" cy="523.56" r="4.00" fill="url(#rLt)"/><circle cx="148.99" cy="523.68" r="4.00" fill="url(#rLt)"/><circle cx="163.49" cy="523.80" r="4.00" fill="url(#rLt)"/><circle cx="178.00" cy="523.92" r="4.00" fill="url(#rLt)"/><circle cx="192.50" cy="524.04" r="4.00" fill="url(#rLt)"/><circle cx="207.01" cy="524.15" r="4.00" fill="url(#rLt)"/><circle cx="221.51" cy="524.27" r="4.00" fill="url(#rLt)"/><circle cx="236.02" cy="524.39" r="4.00" fill="url(#rLt)"/><circle cx="250.52" cy="524.51" r="4.00" fill="url(#rLt)"/><circle cx="52.92" cy="524.92" r="4.00" fill="url(#rLt)"/><circle cx="67.40" cy="525.04" r="4.00" fill="url(#rLt)"/><circle cx="81.89" cy="525.16" r="4.00" fill="url(#rLt)"/><circle cx="96.37" cy="525.28" r="4.00" fill="url(#rLt)"/><circle cx="110.85" cy="525.39" r="4.00" fill="url(#rLt)"/><circle cx="125.33" cy="525.51" r="4.00" fill="url(#rLt)"/><circle cx="139.82" cy="525.63" r="4.00" fill="url(#rLt)"/><circle cx="154.30" cy="525.75" r="4.00" fill="url(#rLt)"/><circle cx="168.78" cy="525.87" r="4.00" fill="url(#rLt)"/><circle cx="183.27" cy="525.99" r="4.00" fill="url(#rLt)"/><circle cx="197.75" cy="526.11" r="4.00" fill="url(#rLt)"/><circle cx="212.23" cy="526.22" r="4.00" fill="url(#rLt)"/><circle cx="226.72" cy="526.34" r="4.00" fill="url(#rLt)"/><circle cx="241.20" cy="526.46" r="4.00" fill="url(#rLt)"/><circle cx="58.36" cy="526.99" r="4.00" fill="url(#rLt)"/><circle cx="72.82" cy="527.11" r="4.00" fill="url(#rLt)"/><circle cx="87.28" cy="527.23" r="4.00" fill="url(#rLt)"/><circle cx="101.75" cy="527.34" r="4.00" fill="url(#rLt)"/><circle cx="116.21" cy="527.46" r="4.00" fill="url(#rLt)"/><circle cx="130.67" cy="527.58" r="4.00" fill="url(#rLt)"/><circle cx="145.13" cy="527.70" r="4.00" fill="url(#rLt)"/><circle cx="159.59" cy="527.82" r="4.00" fill="url(#rLt)"/><circle cx="174.05" cy="527.94" r="4.00" fill="url(#rLt)"/><circle cx="188.51" cy="528.06" r="4.00" fill="url(#rLt)"/><circle cx="202.98" cy="528.17" r="4.00" fill="url(#rLt)"/><circle cx="217.44" cy="528.29" r="4.00" fill="url(#rLt)"/><circle cx="231.90" cy="528.41" r="4.00" fill="url(#rLt)"/><circle cx="246.36" cy="528.53" r="4.00" fill="url(#rLt)"/><circle cx="49.34" cy="528.94" r="4.00" fill="url(#rLt)"/><circle cx="63.78" cy="529.06" r="4.00" fill="url(#rLt)"/><circle cx="78.22" cy="529.18" r="4.00" fill="url(#rLt)"/><circle cx="92.66" cy="529.30" r="4.00" fill="url(#rLt)"/><circle cx="107.10" cy="529.41" r="4.00" fill="url(#rLt)"/><circle cx="121.54" cy="529.53" r="4.00" fill="url(#rLt)"/><circle cx="135.98" cy="529.65" r="4.00" fill="url(#rLt)"/><circle cx="150.42" cy="529.77" r="4.00" fill="url(#rLt)"/><circle cx="164.86" cy="529.89" r="4.00" fill="url(#rLt)"/><circle cx="179.30" cy="530.01" r="4.00" fill="url(#rLt)"/><circle cx="193.74" cy="530.13" r="4.00" fill="url(#rLt)"/><circle cx="208.18" cy="530.24" r="4.00" fill="url(#rLt)"/><circle cx="222.62" cy="530.36" r="4.00" fill="url(#rLt)"/><circle cx="237.06" cy="530.48" r="4.00" fill="url(#rLt)"/><circle cx="54.76" cy="531.01" r="4.00" fill="url(#rLt)"/><circle cx="69.18" cy="531.13" r="4.00" fill="url(#rLt)"/><circle cx="83.60" cy="531.25" r="4.00" fill="url(#rLt)"/><circle cx="98.01" cy="531.36" r="4.00" fill="url(#rLt)"/><circle cx="112.43" cy="531.48" r="4.00" fill="url(#rLt)"/><circle cx="126.85" cy="531.60" r="4.00" fill="url(#rLt)"/><circle cx="141.27" cy="531.72" r="4.00" fill="url(#rLt)"/><circle cx="155.69" cy="531.84" r="4.00" fill="url(#rLt)"/><circle cx="170.11" cy="531.96" r="4.00" fill="url(#rLt)"/><circle cx="184.53" cy="532.08" r="4.00" fill="url(#rLt)"/><circle cx="198.94" cy="532.19" r="4.00" fill="url(#rLt)"/><circle cx="213.36" cy="532.31" r="4.00" fill="url(#rLt)"/><circle cx="227.78" cy="532.43" r="4.00" fill="url(#rLt)"/><circle cx="242.20" cy="532.55" r="4.00" fill="url(#rLt)"/><circle cx="45.76" cy="532.96" r="4.00" fill="url(#rLt)"/><circle cx="60.16" cy="533.08" r="4.00" fill="url(#rLt)"/><circle cx="74.55" cy="533.20" r="4.00" fill="url(#rLt)"/><circle cx="88.95" cy="533.32" r="4.00" fill="url(#rLt)"/><circle cx="103.35" cy="533.43" r="4.00" fill="url(#rLt)"/><circle cx="117.75" cy="533.55" r="4.00" fill="url(#rLt)"/><circle cx="132.14" cy="533.67" r="4.00" fill="url(#rLt)"/><circle cx="146.54" cy="533.79" r="4.00" fill="url(#rLt)"/><circle cx="160.94" cy="533.91" r="4.00" fill="url(#rLt)"/><circle cx="175.33" cy="534.03" r="4.00" fill="url(#rLt)"/><circle cx="189.73" cy="534.15" r="4.00" fill="url(#rLt)"/><circle cx="204.13" cy="534.26" r="4.00" fill="url(#rLt)"/><circle cx="218.52" cy="534.38" r="4.00" fill="url(#rLt)"/><circle cx="232.92" cy="534.50" r="4.00" fill="url(#rLt)"/><circle cx="51.16" cy="535.03" r="4.00" fill="url(#rLt)"/><circle cx="65.53" cy="535.15" r="4.00" fill="url(#rLt)"/><circle cx="79.91" cy="535.27" r="4.00" fill="url(#rLt)"/><circle cx="94.28" cy="535.38" r="4.00" fill="url(#rLt)"/><circle cx="108.66" cy="535.50" r="4.00" fill="url(#rLt)"/><circle cx="123.04" cy="535.62" r="4.00" fill="url(#rLt)"/><circle cx="137.41" cy="535.74" r="4.00" fill="url(#rLt)"/><circle cx="151.79" cy="535.86" r="4.00" fill="url(#rLt)"/><circle cx="166.16" cy="535.98" r="4.00" fill="url(#rLt)"/><circle cx="180.54" cy="536.10" r="4.00" fill="url(#rLt)"/><circle cx="194.91" cy="536.21" r="4.00" fill="url(#rLt)"/><circle cx="209.29" cy="536.33" r="4.00" fill="url(#rLt)"/><circle cx="223.66" cy="536.45" r="4.00" fill="url(#rLt)"/><circle cx="238.04" cy="536.57" r="4.00" fill="url(#rLt)"/><circle cx="42.18" cy="536.98" r="4.00" fill="url(#rLt)"/><circle cx="56.53" cy="537.10" r="4.00" fill="url(#rLt)"/><circle cx="70.89" cy="537.22" r="4.00" fill="url(#rLt)"/><circle cx="85.24" cy="537.34" r="4.00" fill="url(#rLt)"/><circle cx="99.60" cy="537.45" r="4.00" fill="url(#rLt)"/><circle cx="113.95" cy="537.57" r="4.00" fill="url(#rLt)"/><circle cx="128.30" cy="537.69" r="4.00" fill="url(#rLt)"/><circle cx="142.66" cy="537.81" r="4.00" fill="url(#rLt)"/><circle cx="157.01" cy="537.93" r="4.00" fill="url(#rLt)"/><circle cx="171.37" cy="538.05" r="4.00" fill="url(#rLt)"/><circle cx="185.72" cy="538.17" r="4.00" fill="url(#rLt)"/><circle cx="200.07" cy="538.28" r="4.00" fill="url(#rLt)"/><circle cx="214.43" cy="538.40" r="4.00" fill="url(#rLt)"/><circle cx="228.78" cy="538.52" r="4.00" fill="url(#rLt)"/><circle cx="47.56" cy="539.05" r="4.00" fill="url(#rLt)"/><circle cx="61.89" cy="539.17" r="4.00" fill="url(#rLt)"/><circle cx="76.22" cy="539.29" r="4.00" fill="url(#rLt)"/><circle cx="90.55" cy="539.40" r="4.00" fill="url(#rLt)"/><circle cx="104.89" cy="539.52" r="4.00" fill="url(#rLt)"/><circle cx="119.22" cy="539.64" r="4.00" fill="url(#rLt)"/><circle cx="133.55" cy="539.76" r="4.00" fill="url(#rLt)"/><circle cx="147.88" cy="539.88" r="4.00" fill="url(#rLt)"/><circle cx="162.22" cy="540.00" r="4.00" fill="url(#rLt)"/><circle cx="176.55" cy="540.12" r="4.00" fill="url(#rLt)"/><circle cx="190.88" cy="540.23" r="4.00" fill="url(#rLt)"/><circle cx="205.21" cy="540.35" r="4.00" fill="url(#rLt)"/><circle cx="219.55" cy="540.47" r="4.00" fill="url(#rLt)"/><circle cx="233.88" cy="540.59" r="4.00" fill="url(#rLt)"/><circle cx="38.60" cy="541.00" r="4.00" fill="url(#rLt)"/><circle cx="52.91" cy="541.12" r="4.00" fill="url(#rLt)"/><circle cx="67.22" cy="541.24" r="4.00" fill="url(#rLt)"/><circle cx="81.53" cy="541.36" r="4.00" fill="url(#rLt)"/><circle cx="95.84" cy="541.47" r="4.00" fill="url(#rLt)"/><circle cx="110.16" cy="541.59" r="4.00" fill="url(#rLt)"/><circle cx="124.47" cy="541.71" r="4.00" fill="url(#rLt)"/><circle cx="138.78" cy="541.83" r="4.00" fill="url(#rLt)"/><circle cx="153.09" cy="541.95" r="4.00" fill="url(#rLt)"/><circle cx="167.40" cy="542.07" r="4.00" fill="url(#rLt)"/><circle cx="181.71" cy="542.19" r="4.00" fill="url(#rLt)"/><circle cx="196.02" cy="542.30" r="4.00" fill="url(#rLt)"/><circle cx="210.33" cy="542.42" r="4.00" fill="url(#rLt)"/><circle cx="224.64" cy="542.54" r="4.00" fill="url(#rLt)"/>
<ellipse cx="106.50" cy="502.00" rx="3.45" ry="2.55" fill="url(#rN)"/><circle cx="113.00" cy="504.40" r="4.60" fill="url(#rCo)"/><ellipse cx="102.80" cy="507.10" rx="3.45" ry="2.55" fill="url(#rN)"/><ellipse cx="120.10" cy="510.50" rx="3.45" ry="2.55" fill="url(#rN)"/>
<circle cx="115.00" cy="522.80" r="4.60" fill="url(#rCo)"/><ellipse cx="103.80" cy="525.90" rx="3.45" ry="2.55" fill="url(#rN)"/><ellipse cx="115.00" cy="528.90" rx="3.45" ry="2.55" fill="url(#rN)"/><ellipse cx="126.30" cy="526.90" rx="3.45" ry="2.55" fill="url(#rN)"/>
<ellipse cx="173.70" cy="512.10" rx="3.45" ry="2.55" fill="url(#rN)"/><ellipse cx="190.80" cy="509.90" rx="3.45" ry="2.55" fill="url(#rN)"/><circle cx="185.10" cy="513.30" r="4.60" fill="url(#rCo)"/><ellipse cx="193.70" cy="516.50" rx="3.45" ry="2.55" fill="url(#rN)"/>
<ellipse cx="195.50" cy="526.00" rx="3.45" ry="2.55" fill="url(#rN)"/><circle cx="203.10" cy="527.00" r="4.60" fill="url(#rCo)"/><ellipse cx="210.70" cy="532.60" rx="3.45" ry="2.55" fill="url(#rN)"/><ellipse cx="213.60" cy="529.80" rx="3.45" ry="2.55" fill="url(#rN)"/>
<circle cx="180.4" cy="496.6" r="14.2" fill="url(#gPink2)" opacity="0.95"/>
<text x="180.9" y="501.1" font-size="9.6" text-anchor="middle" fill="#1a1a1a">PMS</text>
<path d="M172.70,478.10 L162.00,463.80" fill="none" stroke="#7c7c7c" stroke-width="2.2" stroke-dasharray="1.8,1.4"/>
<polygon points="157.40,457.30 163.93,460.54 158.64,464.48" fill="#7a7a7a"/>
<path d="M217.30,460.30 L199.50,476.50" fill="none" stroke="#7c7c7c" stroke-width="2.2" stroke-dasharray="1.8,1.4"/>
<polygon points="194.50,481.50 196.97,474.64 201.50,479.45" fill="#7a7a7a"/>
<text x="139.3" y="561.7" font-size="9.9" text-anchor="middle" fill="#1a1a1a">CoNC-Si (unconfined)</text>
<path d="M298.2,439.6 C306,452 318,459.9 332.1,459.9 L332.1,448.8 L353.8,472.6 L332.1,496 L332.1,485.2 C318,485.2 306,492 298.2,504.7 Z" fill="url(#gOr)"/>
<circle cx="439.3" cy="445.5" r="26" fill="url(#gPink)"/>
<text x="440.7" y="433.5" font-size="10" text-anchor="middle" fill="#1a1a1a">PMS</text>
<line x1="432.50" y1="446.50" x2="429.25" y2="441.25" stroke="#d8c81a" stroke-width="2.08" stroke-linecap="round"/><line x1="429.25" y1="441.25" x2="426.00" y2="436.00" stroke="#d81a1a" stroke-width="2.08" stroke-linecap="round"/><line x1="432.50" y1="446.50" x2="437.25" y2="443.75" stroke="#d8c81a" stroke-width="2.08" stroke-linecap="round"/><line x1="437.25" y1="443.75" x2="442.00" y2="441.00" stroke="#d81a1a" stroke-width="2.08" stroke-linecap="round"/><line x1="432.50" y1="446.50" x2="429.25" y2="452.00" stroke="#d8c81a" stroke-width="2.08" stroke-linecap="round"/><line x1="429.25" y1="452.00" x2="426.00" y2="457.50" stroke="#d81a1a" stroke-width="2.08" stroke-linecap="round"/><line x1="432.50" y1="446.50" x2="438.25" y2="449.50" stroke="#d8c81a" stroke-width="2.08" stroke-linecap="round"/><line x1="438.25" y1="449.50" x2="444.00" y2="452.50" stroke="#d81a1a" stroke-width="2.08" stroke-linecap="round"/><line x1="444.00" y1="452.50" x2="453.00" y2="443.00" stroke="#d81a1a" stroke-width="2.08" stroke-linecap="round"/><line x1="453.00" y1="443.00" x2="459.80" y2="444.30" stroke="#c0c0c0" stroke-width="1.8199999999999998" stroke-linecap="round"/><circle cx="459.80" cy="444.30" r="3.32" fill="url(#rH)"/><circle cx="432.50" cy="446.50" r="2.98" fill="url(#rS)"/><circle cx="426.00" cy="436.00" r="3.50" fill="url(#rO)"/><circle cx="442.00" cy="441.00" r="3.50" fill="url(#rO)"/><circle cx="426.00" cy="457.50" r="3.50" fill="url(#rO)"/><circle cx="444.00" cy="452.50" r="3.50" fill="url(#rO)"/><circle cx="453.00" cy="443.00" r="3.50" fill="url(#rO)"/>
<circle cx="541.2" cy="444.2" r="25.5" fill="url(#gGreen)"/>
<text x="541.3" y="429.6" font-size="10.1" text-anchor="middle" fill="#1a1a1a">4-CP</text>
<line x1="552.20" y1="446.00" x2="561.11" y2="446.00" stroke="#8c8c8c" stroke-width="2.4057000000000004" stroke-linecap="round"/><line x1="532.40" y1="446.00" x2="520.52" y2="446.00" stroke="#8c8c8c" stroke-width="2.4057000000000004" stroke-linecap="round"/><line x1="547.25" y1="454.57" x2="550.32" y2="459.89" stroke="#9a9a9a" stroke-width="2.1384000000000003" stroke-linecap="round"/><line x1="537.35" y1="454.57" x2="534.28" y2="459.89" stroke="#9a9a9a" stroke-width="2.1384000000000003" stroke-linecap="round"/><line x1="537.35" y1="437.43" x2="534.28" y2="432.11" stroke="#9a9a9a" stroke-width="2.1384000000000003" stroke-linecap="round"/><line x1="547.25" y1="437.43" x2="550.32" y2="432.11" stroke="#9a9a9a" stroke-width="2.1384000000000003" stroke-linecap="round"/><line x1="552.20" y1="446.00" x2="547.25" y2="454.57" stroke="#666666" stroke-width="4.009500000000001" stroke-linecap="round"/><line x1="547.25" y1="454.57" x2="537.35" y2="454.57" stroke="#666666" stroke-width="4.009500000000001" stroke-linecap="round"/><line x1="537.35" y1="454.57" x2="532.40" y2="446.00" stroke="#666666" stroke-width="4.009500000000001" stroke-linecap="round"/><line x1="532.40" y1="446.00" x2="537.35" y2="437.43" stroke="#666666" stroke-width="4.009500000000001" stroke-linecap="round"/><line x1="537.35" y1="437.43" x2="547.25" y2="437.43" stroke="#666666" stroke-width="4.009500000000001" stroke-linecap="round"/><line x1="547.25" y1="437.43" x2="552.20" y2="446.00" stroke="#666666" stroke-width="4.009500000000001" stroke-linecap="round"/><line x1="552.20" y1="446.00" x2="547.25" y2="454.57" stroke="#b0b0b0" stroke-width="1.6038000000000003" stroke-linecap="round"/><line x1="547.25" y1="454.57" x2="537.35" y2="454.57" stroke="#b0b0b0" stroke-width="1.6038000000000003" stroke-linecap="round"/><line x1="537.35" y1="454.57" x2="532.40" y2="446.00" stroke="#b0b0b0" stroke-width="1.6038000000000003" stroke-linecap="round"/><line x1="532.40" y1="446.00" x2="537.35" y2="437.43" stroke="#b0b0b0" stroke-width="1.6038000000000003" stroke-linecap="round"/><line x1="537.35" y1="437.43" x2="547.25" y2="437.43" stroke="#b0b0b0" stroke-width="1.6038000000000003" stroke-linecap="round"/><line x1="547.25" y1="437.43" x2="552.20" y2="446.00" stroke="#b0b0b0" stroke-width="1.6038000000000003" stroke-linecap="round"/><circle cx="552.20" cy="446.00" r="2.87" fill="url(#rC)"/><circle cx="547.25" cy="454.57" r="2.87" fill="url(#rC)"/><circle cx="537.35" cy="454.57" r="2.87" fill="url(#rC)"/><circle cx="532.40" cy="446.00" r="2.87" fill="url(#rC)"/><circle cx="537.35" cy="437.43" r="2.87" fill="url(#rC)"/><circle cx="547.25" cy="437.43" r="2.87" fill="url(#rC)"/><circle cx="550.32" cy="459.89" r="2.67" fill="url(#rH)"/><circle cx="534.28" cy="459.89" r="2.67" fill="url(#rH)"/><circle cx="534.28" cy="432.11" r="2.67" fill="url(#rH)"/><circle cx="550.32" cy="432.11" r="2.67" fill="url(#rH)"/><circle cx="520.52" cy="446.00" r="2.97" fill="url(#rCl)"/><line x1="561.11" y1="446.00" x2="563.21" y2="440.23" stroke="#a0a0a0" stroke-width="1.8711000000000002" stroke-linecap="round"/><circle cx="563.21" cy="440.23" r="2.08" fill="url(#rH)"/><circle cx="561.11" cy="446.00" r="2.97" fill="url(#rO)"/>
<path d="M444.40,471.50 L448.20,487.00" fill="none" stroke="#7c7c7c" stroke-width="2.2" stroke-dasharray="1.8,1.4"/>
<polygon points="450.00,493.50 445.14,488.07 451.51,486.37" fill="#7a7a7a"/>
<path d="M551.70,470.00 L547.20,485.50" fill="none" stroke="#7c7c7c" stroke-width="2.2" stroke-dasharray="1.8,1.4"/>
<polygon points="544.40,491.80 543.03,484.64 549.37,486.47" fill="#7a7a7a"/>
<polygon points="377.5,440.0 377.5,441.1 377.5,442.2 377.5,443.2 377.5,444.3 377.6,445.4 377.6,446.5 377.6,447.6 377.6,448.7 377.6,449.7 377.7,450.8 377.9,451.9 378.1,452.9 378.3,454.0 378.5,455.1 378.7,456.1 378.9,457.2 379.1,458.3 379.3,459.3 379.7,460.3 380.2,461.3 380.6,462.3 381.0,463.3 381.4,464.3 381.8,465.3 382.2,466.3 382.6,467.3 383.1,468.3 383.6,469.3 384.0,470.2 384.5,471.2 384.9,472.2 385.4,473.2 385.9,474.2 386.3,475.1 386.8,476.1 387.3,477.1 387.9,478.0 388.5,478.9 389.1,479.8 389.7,480.7 390.3,481.6 390.9,482.5 391.5,483.4 392.1,484.3 392.7,485.2 393.3,486.1 393.9,487.0 394.4,487.9 395.0,488.8 395.6,489.7 396.2,490.7 396.8,491.6 397.3,492.5 398.0,493.3 398.7,494.2 399.4,495.0 400.1,495.8 400.8,496.7 401.5,497.5 402.2,498.3 402.9,499.1 403.4,500.1 404.0,501.0 404.6,501.9 405.2,502.8 405.8,503.7 406.4,504.6 406.9,505.5 407.5,506.4 408.1,507.3 408.8,508.1 409.6,508.9 410.3,509.7 411.0,510.5 411.7,511.3 412.5,512.1 413.2,513.0 413.9,513.8 414.7,514.5 415.5,515.2 416.4,515.8 417.3,516.4 418.2,517.0 419.1,517.6 420.0,518.3 420.9,518.9 421.8,519.5 422.7,520.0 423.7,520.5 424.6,521.0 425.6,521.5 426.6,522.0 427.5,522.5 428.5,523.0 429.4,523.5 430.4,524.0 431.4,524.5 432.3,525.0 433.3,525.4 434.3,525.9 435.3,526.4 436.2,526.9 437.2,527.3 438.2,527.8 439.1,528.3 440.1,528.7 441.1,529.1 442.1,529.5 443.1,529.9 444.1,530.3 445.1,530.8 446.1,531.2 447.1,531.6 448.2,532.0 449.1,532.4 450.1,532.8 451.1,533.2 452.1,533.7 453.1,534.1 454.1,534.5 455.1,534.9 456.1,535.4 457.1,535.8 458.2,536.1 459.2,536.4 460.2,536.7 461.3,537.0 462.3,537.3 463.3,537.7 464.4,538.0 465.4,538.3 466.4,538.6 467.5,538.9 468.5,539.2 469.5,539.5 470.6,539.8 471.6,540.1 472.7,540.4 473.7,540.8 474.7,541.1 475.8,541.3 476.8,541.5 477.9,541.7 479.0,542.0 480.0,542.2 481.1,542.4 482.2,542.6 483.2,542.8 484.3,542.9 485.4,543.0 486.4,543.1 487.5,543.2 488.6,543.3 489.7,543.4 490.8,543.5 491.8,543.3 492.9,543.2 494.0,543.1 495.1,543.0 496.1,542.9 497.2,542.7 498.3,542.6 499.4,542.5 500.4,542.4 501.5,542.2 502.6,542.0 503.6,541.8 504.7,541.5 505.7,541.3 506.8,541.1 507.9,540.9 508.9,540.7 510.0,540.4 511.0,540.2 512.1,540.0 513.1,539.8 514.2,539.5 515.3,539.2 516.3,539.0 517.4,538.7 518.4,538.5 519.5,538.2 520.5,538.0 521.6,537.7 522.6,537.4 523.7,537.2 524.7,536.9 525.8,536.7 526.8,536.3 527.8,536.0 528.9,535.7 529.9,535.3 530.9,535.0 531.9,534.7 533.0,534.4 534.0,534.0 535.0,533.7 536.1,533.4 537.1,533.0 538.1,532.6 539.1,532.2 540.1,531.8 541.1,531.4 542.1,530.9 543.1,530.5 544.1,530.1 545.1,529.7 545.9,529.0 546.8,528.4 547.7,527.8 548.6,527.1 549.4,526.5 550.3,525.8 551.2,525.2 552.1,524.6 552.9,523.9 553.8,523.3 554.6,522.6 555.5,521.9 556.4,521.3 557.2,520.6 558.1,519.9 558.9,519.3 559.7,518.5 560.4,517.8 561.2,517.0 562.0,516.2 562.7,515.5 563.5,514.7 564.3,513.9 565.0,513.2 565.8,512.4 566.6,511.6 567.3,510.9 568.1,510.1 568.9,509.3 569.6,508.6 570.4,507.8 571.2,507.0 571.8,506.2 572.4,505.2 572.9,504.3 573.5,503.4 574.0,502.5 574.6,501.5 575.2,500.6 575.7,499.7 576.3,498.8 576.9,497.9 577.4,496.9 577.9,496.0 578.4,495.0 579.0,494.1 579.5,493.1 580.0,492.2 580.5,491.2 581.0,490.2 581.4,489.3 581.9,488.3 582.3,487.3 582.8,486.3 583.2,485.3 583.5,484.3 583.8,483.2 584.1,482.2 584.3,481.1 584.6,480.1 584.9,479.0 585.2,478.0 585.5,477.0 585.8,475.9 586.1,474.9 586.4,473.9 586.7,472.8 587.1,471.8 587.4,470.7 587.6,469.7 587.8,468.6 587.9,467.6 588.1,466.5 588.2,465.4 588.4,464.3 588.5,463.3 588.6,462.2 588.8,461.1 588.9,460.0 589.0,459.0 589.0,457.9 589.1,456.8 589.2,455.7 589.3,454.6 589.4,453.6 589.5,452.5 589.5,451.4 589.5,450.3 589.5,449.2 589.5,448.2 589.5,447.1 589.5,446.0 600.5,434.0 600.4,435.6 600.4,437.2 600.3,438.9 600.2,440.5 600.2,442.1 600.1,443.7 599.9,445.3 599.8,446.9 599.6,448.5 599.5,450.2 599.3,451.8 599.2,453.4 599.0,455.0 598.8,456.6 598.6,458.2 598.4,459.6 598.2,461.0 598.0,462.4 597.8,463.8 597.6,465.2 597.4,466.7 597.2,468.1 596.8,469.4 596.5,470.8 596.1,472.2 595.7,473.6 595.3,474.9 594.9,476.3 594.6,477.7 594.2,479.0 593.8,480.3 593.4,481.5 593.0,482.7 592.7,484.0 592.3,485.2 591.9,486.4 591.5,487.7 591.0,488.8 590.4,490.0 589.9,491.2 589.4,492.4 588.8,493.6 588.3,494.7 587.7,495.9 587.1,497.0 586.4,498.2 585.8,499.3 585.2,500.4 584.6,501.6 583.9,502.7 583.3,503.8 582.7,504.7 582.1,505.5 581.5,506.4 580.9,507.3 580.3,508.2 579.7,509.1 579.1,509.9 578.4,510.8 577.8,511.7 577.0,512.4 576.2,513.1 575.4,513.8 574.5,514.5 573.7,515.3 572.9,516.0 572.1,516.7 571.3,517.4 570.5,518.2 569.7,518.9 568.9,519.6 568.1,520.3 567.3,521.1 566.5,521.8 565.7,522.4 564.9,522.9 564.0,523.3 563.1,523.7 562.2,524.1 561.3,524.4 560.4,524.8 559.4,525.2 558.5,525.6 557.6,525.9 556.7,526.3 555.8,526.6 554.9,527.0 553.9,527.3 553.0,527.7 552.1,528.0 551.2,528.4 550.2,528.7 549.2,528.9 548.2,529.0 547.1,529.1 546.1,529.2 545.2,529.3 544.3,529.3 543.4,529.4 542.5,529.4 541.5,529.4 540.6,529.3 539.6,529.3 538.7,529.2 537.7,529.2 536.8,529.1 535.8,529.1 534.9,529.0 533.9,529.0 533.0,528.9 532.0,528.9 531.1,528.8 530.1,528.7 529.1,528.5 528.2,528.4 527.2,528.3 526.2,528.2 525.3,528.1 524.3,528.0 523.3,527.9 522.4,528.0 521.4,528.0 520.5,528.1 519.5,528.1 518.6,528.1 517.6,528.1 516.7,528.2 515.7,528.2 514.7,528.2 513.8,528.2 512.8,528.2 511.9,528.3 510.9,528.3 509.9,528.3 509.0,528.3 508.0,528.2 507.0,528.1 506.1,528.0 505.1,528.0 504.1,527.9 503.1,527.8 502.2,527.7 501.2,527.7 500.2,527.6 499.2,527.3 498.2,527.0 497.3,526.7 496.3,526.4 495.3,526.1 494.3,525.9 493.3,525.7 492.4,525.5 491.4,525.2 490.4,524.9 489.4,524.6 488.5,524.4 487.5,524.1 486.5,523.8 485.5,523.5 484.6,523.2 483.6,522.8 482.7,522.4 481.7,522.1 480.8,521.7 479.8,521.4 478.9,521.0 477.9,520.6 476.9,520.3 476.0,519.9 475.0,519.5 474.1,519.1 473.1,518.8 472.2,518.4 471.2,518.0 470.3,517.7 469.3,517.3 468.4,516.8 467.5,516.4 466.6,515.9 465.7,515.4 464.8,514.9 463.9,514.4 462.9,514.0 462.0,513.5 461.1,513.0 460.2,512.6 459.3,512.2 458.4,511.8 457.5,511.4 456.7,511.0 455.8,510.6 454.9,510.2 454.0,509.8 453.1,509.4 452.2,509.0 451.4,508.5 450.5,508.1 449.7,507.6 448.8,507.2 447.9,506.7 447.1,506.2 446.2,505.8 445.4,505.3 444.5,504.8 443.7,504.4 442.8,503.9 442.0,503.4 441.1,502.9 440.3,502.4 439.4,502.0 438.6,501.5 437.7,501.0 436.9,500.4 435.9,499.8 435.0,499.2 434.1,498.6 433.2,498.0 432.3,497.4 431.4,496.7 430.5,496.1 429.7,495.4 429.0,494.6 428.2,493.8 427.5,493.0 426.7,492.2 426.0,491.4 425.2,490.6 424.5,489.8 423.7,489.0 423.1,488.1 422.5,487.2 421.9,486.3 421.3,485.4 420.7,484.5 420.1,483.6 419.5,482.7 418.9,481.8 418.2,481.0 417.5,480.1 416.8,479.3 416.1,478.5 415.4,477.7 414.6,476.9 413.9,476.1 413.2,475.2 412.5,474.4 411.9,473.5 411.3,472.6 410.7,471.7 410.1,470.8 409.5,469.9 408.9,469.0 408.3,468.1 407.7,467.2 407.1,466.3 406.4,465.5 405.8,464.7 405.1,463.9 404.5,463.0 403.9,462.2 403.2,461.4 402.6,460.6 401.9,459.7 401.4,458.9 400.9,457.9 400.4,457.0 399.9,456.1 399.4,455.2 398.9,454.3 398.4,453.4 397.9,452.5 397.4,451.6 396.9,450.7 396.5,449.8 396.0,448.9 395.6,447.9 395.1,447.0 394.7,446.1 394.2,445.2 393.8,444.2 393.3,443.3 393.0,442.4 392.7,441.5 392.4,440.6 392.2,439.7 391.9,438.8 391.6,437.9 391.4,437.0 391.1,436.1 390.8,435.2 390.8,434.3 390.7,433.4 390.6,432.5 390.5,431.6 390.4,430.7 390.3,429.7 390.2,428.8 390.1,427.9 390.0,427.0" fill="#a59e97"/>
<circle cx="390.00" cy="427.00" r="3.10" fill="url(#rLt)"/><circle cx="390.69" cy="433.71" r="3.10" fill="url(#rLt)"/><circle cx="392.33" cy="440.24" r="3.10" fill="url(#rLt)"/><circle cx="394.87" cy="446.48" r="3.10" fill="url(#rLt)"/><circle cx="397.92" cy="452.49" r="3.10" fill="url(#rLt)"/><circle cx="401.18" cy="458.41" r="3.10" fill="url(#rLt)"/><circle cx="405.14" cy="463.85" r="3.10" fill="url(#rLt)"/><circle cx="409.14" cy="469.29" r="3.10" fill="url(#rLt)"/><circle cx="412.92" cy="474.88" r="3.10" fill="url(#rLt)"/><circle cx="417.36" cy="479.96" r="3.10" fill="url(#rLt)"/><circle cx="421.27" cy="485.45" r="3.10" fill="url(#rLt)"/><circle cx="425.38" cy="490.78" r="3.10" fill="url(#rLt)"/><circle cx="430.03" cy="495.67" r="3.10" fill="url(#rLt)"/><circle cx="435.56" cy="499.52" r="3.10" fill="url(#rLt)"/><circle cx="441.31" cy="503.04" r="3.10" fill="url(#rLt)"/><circle cx="447.21" cy="506.32" r="3.10" fill="url(#rLt)"/><circle cx="453.18" cy="509.47" r="3.10" fill="url(#rLt)"/><circle cx="459.35" cy="512.20" r="3.10" fill="url(#rLt)"/><circle cx="465.38" cy="515.24" r="3.10" fill="url(#rLt)"/><circle cx="471.47" cy="518.12" r="3.10" fill="url(#rLt)"/><circle cx="477.76" cy="520.58" r="3.10" fill="url(#rLt)"/><circle cx="484.06" cy="522.98" r="3.10" fill="url(#rLt)"/><circle cx="490.52" cy="524.95" r="3.10" fill="url(#rLt)"/><circle cx="497.04" cy="526.64" r="3.10" fill="url(#rLt)"/><circle cx="503.64" cy="527.85" r="3.10" fill="url(#rLt)"/><circle cx="510.38" cy="528.30" r="3.10" fill="url(#rLt)"/><circle cx="517.12" cy="528.16" r="3.10" fill="url(#rLt)"/><circle cx="523.87" cy="527.93" r="3.10" fill="url(#rLt)"/><circle cx="530.57" cy="528.72" r="3.10" fill="url(#rLt)"/><circle cx="537.30" cy="529.17" r="3.10" fill="url(#rLt)"/><circle cx="544.04" cy="529.33" r="3.10" fill="url(#rLt)"/><circle cx="550.73" cy="528.53" r="3.10" fill="url(#rLt)"/><circle cx="557.04" cy="526.15" r="3.10" fill="url(#rLt)"/><circle cx="563.29" cy="523.59" r="3.10" fill="url(#rLt)"/><circle cx="568.75" cy="519.74" r="3.10" fill="url(#rLt)"/><circle cx="573.78" cy="515.24" r="3.10" fill="url(#rLt)"/><circle cx="578.62" cy="510.56" r="3.10" fill="url(#rLt)"/><circle cx="582.45" cy="505.00" r="3.10" fill="url(#rLt)"/><circle cx="585.87" cy="499.19" r="3.10" fill="url(#rLt)"/><circle cx="588.97" cy="493.20" r="3.10" fill="url(#rLt)"/><circle cx="591.71" cy="487.04" r="3.10" fill="url(#rLt)"/><circle cx="593.70" cy="480.59" r="3.10" fill="url(#rLt)"/><circle cx="595.54" cy="474.09" r="3.10" fill="url(#rLt)"/><circle cx="597.24" cy="467.56" r="3.10" fill="url(#rLt)"/><circle cx="598.24" cy="460.89" r="3.10" fill="url(#rLt)"/><circle cx="599.08" cy="454.19" r="3.10" fill="url(#rLt)"/><circle cx="599.71" cy="447.47" r="3.10" fill="url(#rLt)"/><circle cx="600.22" cy="440.74" r="3.10" fill="url(#rLt)"/><circle cx="600.50" cy="434.00" r="3.10" fill="url(#rLt)"/><circle cx="388.20" cy="432.52" r="3.15" fill="url(#rLt)"/><circle cx="389.21" cy="439.16" r="3.15" fill="url(#rLt)"/><circle cx="391.12" cy="445.58" r="3.15" fill="url(#rLt)"/><circle cx="393.78" cy="451.75" r="3.15" fill="url(#rLt)"/><circle cx="396.85" cy="457.75" r="3.15" fill="url(#rLt)"/><circle cx="400.34" cy="463.49" r="3.15" fill="url(#rLt)"/><circle cx="404.24" cy="468.98" r="3.15" fill="url(#rLt)"/><circle cx="408.09" cy="474.50" r="3.15" fill="url(#rLt)"/><circle cx="412.13" cy="479.88" r="3.15" fill="url(#rLt)"/><circle cx="416.30" cy="485.15" r="3.15" fill="url(#rLt)"/><circle cx="420.27" cy="490.58" r="3.15" fill="url(#rLt)"/><circle cx="424.57" cy="495.75" r="3.15" fill="url(#rLt)"/><circle cx="429.58" cy="500.19" r="3.15" fill="url(#rLt)"/><circle cx="435.14" cy="503.96" r="3.15" fill="url(#rLt)"/><circle cx="440.95" cy="507.36" r="3.15" fill="url(#rLt)"/><circle cx="446.89" cy="510.55" r="3.15" fill="url(#rLt)"/><circle cx="452.94" cy="513.49" r="3.15" fill="url(#rLt)"/><circle cx="459.06" cy="516.31" r="3.15" fill="url(#rLt)"/><circle cx="465.13" cy="519.23" r="3.15" fill="url(#rLt)"/><circle cx="471.31" cy="521.88" r="3.15" fill="url(#rLt)"/><circle cx="477.63" cy="524.22" r="3.15" fill="url(#rLt)"/><circle cx="484.00" cy="526.40" r="3.15" fill="url(#rLt)"/><circle cx="490.49" cy="528.18" r="3.15" fill="url(#rLt)"/><circle cx="497.05" cy="529.63" r="3.15" fill="url(#rLt)"/><circle cx="503.71" cy="530.45" r="3.15" fill="url(#rLt)"/><circle cx="510.44" cy="530.47" r="3.15" fill="url(#rLt)"/><circle cx="517.16" cy="530.12" r="3.15" fill="url(#rLt)"/><circle cx="523.89" cy="529.95" r="3.15" fill="url(#rLt)"/><circle cx="530.62" cy="530.06" r="3.15" fill="url(#rLt)"/><circle cx="537.35" cy="530.10" r="3.15" fill="url(#rLt)"/><circle cx="544.06" cy="529.64" r="3.15" fill="url(#rLt)"/><circle cx="550.56" cy="528.11" r="3.15" fill="url(#rLt)"/><circle cx="556.79" cy="525.61" r="3.15" fill="url(#rLt)"/><circle cx="562.78" cy="522.57" r="3.15" fill="url(#rLt)"/><circle cx="568.18" cy="518.64" r="3.15" fill="url(#rLt)"/><circle cx="573.16" cy="514.10" r="3.15" fill="url(#rLt)"/><circle cx="577.68" cy="509.17" r="3.15" fill="url(#rLt)"/><circle cx="581.54" cy="503.67" r="3.15" fill="url(#rLt)"/><circle cx="584.96" cy="497.87" r="3.15" fill="url(#rLt)"/><circle cx="588.00" cy="491.86" r="3.15" fill="url(#rLt)"/><circle cx="590.51" cy="485.62" r="3.15" fill="url(#rLt)"/><circle cx="592.54" cy="479.21" r="3.15" fill="url(#rLt)"/><circle cx="594.39" cy="472.73" r="3.15" fill="url(#rLt)"/><circle cx="595.84" cy="466.16" r="3.15" fill="url(#rLt)"/><circle cx="596.84" cy="459.50" r="3.15" fill="url(#rLt)"/><circle cx="597.59" cy="452.81" r="3.15" fill="url(#rLt)"/><circle cx="598.16" cy="446.09" r="3.15" fill="url(#rLt)"/><circle cx="598.54" cy="439.37" r="3.15" fill="url(#rLt)"/><circle cx="385.83" cy="431.33" r="3.20" fill="url(#rLt)"/><circle cx="386.29" cy="438.05" r="3.20" fill="url(#rLt)"/><circle cx="387.56" cy="444.64" r="3.20" fill="url(#rLt)"/><circle cx="389.74" cy="450.98" r="3.20" fill="url(#rLt)"/><circle cx="392.61" cy="457.07" r="3.20" fill="url(#rLt)"/><circle cx="395.72" cy="463.04" r="3.20" fill="url(#rLt)"/><circle cx="399.38" cy="468.67" r="3.20" fill="url(#rLt)"/><circle cx="403.34" cy="474.11" r="3.20" fill="url(#rLt)"/><circle cx="407.02" cy="479.74" r="3.20" fill="url(#rLt)"/><circle cx="411.30" cy="484.93" r="3.20" fill="url(#rLt)"/><circle cx="415.31" cy="490.32" r="3.20" fill="url(#rLt)"/><circle cx="419.17" cy="495.82" r="3.20" fill="url(#rLt)"/><circle cx="423.76" cy="500.74" r="3.20" fill="url(#rLt)"/><circle cx="429.04" cy="504.87" r="3.20" fill="url(#rLt)"/><circle cx="434.72" cy="508.45" r="3.20" fill="url(#rLt)"/><circle cx="440.63" cy="511.68" r="3.20" fill="url(#rLt)"/><circle cx="446.61" cy="514.77" r="3.20" fill="url(#rLt)"/><circle cx="452.73" cy="517.57" r="3.20" fill="url(#rLt)"/><circle cx="458.86" cy="520.34" r="3.20" fill="url(#rLt)"/><circle cx="464.91" cy="523.29" r="3.20" fill="url(#rLt)"/><circle cx="471.23" cy="525.60" r="3.20" fill="url(#rLt)"/><circle cx="477.58" cy="527.85" r="3.20" fill="url(#rLt)"/><circle cx="483.97" cy="529.93" r="3.20" fill="url(#rLt)"/><circle cx="490.52" cy="531.49" r="3.20" fill="url(#rLt)"/><circle cx="497.10" cy="532.87" r="3.20" fill="url(#rLt)"/><circle cx="503.83" cy="532.95" r="3.20" fill="url(#rLt)"/><circle cx="510.55" cy="532.64" r="3.20" fill="url(#rLt)"/><circle cx="517.26" cy="532.05" r="3.20" fill="url(#rLt)"/><circle cx="523.96" cy="531.53" r="3.20" fill="url(#rLt)"/><circle cx="530.69" cy="531.42" r="3.20" fill="url(#rLt)"/><circle cx="537.40" cy="530.91" r="3.20" fill="url(#rLt)"/><circle cx="544.06" cy="530.01" r="3.20" fill="url(#rLt)"/><circle cx="550.47" cy="528.07" r="3.20" fill="url(#rLt)"/><circle cx="556.51" cy="525.11" r="3.20" fill="url(#rLt)"/><circle cx="562.45" cy="521.94" r="3.20" fill="url(#rLt)"/><circle cx="567.55" cy="517.58" r="3.20" fill="url(#rLt)"/><circle cx="572.48" cy="512.99" r="3.20" fill="url(#rLt)"/><circle cx="577.02" cy="508.07" r="3.20" fill="url(#rLt)"/><circle cx="580.73" cy="502.46" r="3.20" fill="url(#rLt)"/><circle cx="584.05" cy="496.60" r="3.20" fill="url(#rLt)"/><circle cx="587.05" cy="490.58" r="3.20" fill="url(#rLt)"/><circle cx="589.50" cy="484.33" r="3.20" fill="url(#rLt)"/><circle cx="591.41" cy="477.87" r="3.20" fill="url(#rLt)"/><circle cx="593.25" cy="471.40" r="3.20" fill="url(#rLt)"/><circle cx="594.54" cy="464.81" r="3.20" fill="url(#rLt)"/><circle cx="595.49" cy="458.14" r="3.20" fill="url(#rLt)"/><circle cx="596.10" cy="451.44" r="3.20" fill="url(#rLt)"/><circle cx="596.62" cy="444.73" r="3.20" fill="url(#rLt)"/><circle cx="596.83" cy="438.00" r="3.20" fill="url(#rLt)"/><circle cx="383.93" cy="436.86" r="3.25" fill="url(#rLt)"/><circle cx="384.65" cy="443.53" r="3.25" fill="url(#rLt)"/><circle cx="386.20" cy="450.03" r="3.25" fill="url(#rLt)"/><circle cx="388.58" cy="456.30" r="3.25" fill="url(#rLt)"/><circle cx="391.50" cy="462.36" r="3.25" fill="url(#rLt)"/><circle cx="394.77" cy="468.22" r="3.25" fill="url(#rLt)"/><circle cx="398.49" cy="473.81" r="3.25" fill="url(#rLt)"/><circle cx="402.29" cy="479.36" r="3.25" fill="url(#rLt)"/><circle cx="406.21" cy="484.81" r="3.25" fill="url(#rLt)"/><circle cx="410.33" cy="490.12" r="3.25" fill="url(#rLt)"/><circle cx="414.23" cy="495.58" r="3.25" fill="url(#rLt)"/><circle cx="418.39" cy="500.84" r="3.25" fill="url(#rLt)"/><circle cx="423.25" cy="505.44" r="3.25" fill="url(#rLt)"/><circle cx="428.66" cy="509.39" r="3.25" fill="url(#rLt)"/><circle cx="434.44" cy="512.80" r="3.25" fill="url(#rLt)"/><circle cx="440.40" cy="515.93" r="3.25" fill="url(#rLt)"/><circle cx="446.44" cy="518.89" r="3.25" fill="url(#rLt)"/><circle cx="452.58" cy="521.64" r="3.25" fill="url(#rLt)"/><circle cx="458.70" cy="524.41" r="3.25" fill="url(#rLt)"/><circle cx="464.89" cy="527.02" r="3.25" fill="url(#rLt)"/><circle cx="471.23" cy="529.29" r="3.25" fill="url(#rLt)"/><circle cx="477.60" cy="531.43" r="3.25" fill="url(#rLt)"/><circle cx="484.07" cy="533.26" r="3.25" fill="url(#rLt)"/><circle cx="490.65" cy="534.66" r="3.25" fill="url(#rLt)"/><circle cx="497.31" cy="535.34" r="3.25" fill="url(#rLt)"/><circle cx="504.02" cy="535.23" r="3.25" fill="url(#rLt)"/><circle cx="510.71" cy="534.66" r="3.25" fill="url(#rLt)"/><circle cx="517.39" cy="533.81" r="3.25" fill="url(#rLt)"/><circle cx="524.07" cy="533.12" r="3.25" fill="url(#rLt)"/><circle cx="530.77" cy="532.46" r="3.25" fill="url(#rLt)"/><circle cx="537.42" cy="531.52" r="3.25" fill="url(#rLt)"/><circle cx="544.00" cy="530.14" r="3.25" fill="url(#rLt)"/><circle cx="550.23" cy="527.73" r="3.25" fill="url(#rLt)"/><circle cx="556.11" cy="524.48" r="3.25" fill="url(#rLt)"/><circle cx="561.73" cy="520.83" r="3.25" fill="url(#rLt)"/><circle cx="566.87" cy="516.54" r="3.25" fill="url(#rLt)"/><circle cx="571.76" cy="511.91" r="3.25" fill="url(#rLt)"/><circle cx="576.10" cy="506.83" r="3.25" fill="url(#rLt)"/><circle cx="579.74" cy="501.18" r="3.25" fill="url(#rLt)"/><circle cx="583.08" cy="495.35" r="3.25" fill="url(#rLt)"/><circle cx="586.05" cy="489.32" r="3.25" fill="url(#rLt)"/><circle cx="588.37" cy="483.02" r="3.25" fill="url(#rLt)"/><circle cx="590.24" cy="476.56" r="3.25" fill="url(#rLt)"/><circle cx="591.94" cy="470.06" r="3.25" fill="url(#rLt)"/><circle cx="593.18" cy="463.46" r="3.25" fill="url(#rLt)"/><circle cx="593.97" cy="456.78" r="3.25" fill="url(#rLt)"/><circle cx="594.56" cy="450.08" r="3.25" fill="url(#rLt)"/><circle cx="594.92" cy="443.36" r="3.25" fill="url(#rLt)"/><circle cx="381.67" cy="435.67" r="3.30" fill="url(#rLt)"/><circle cx="381.92" cy="442.39" r="3.30" fill="url(#rLt)"/><circle cx="382.86" cy="449.03" r="3.30" fill="url(#rLt)"/><circle cx="384.66" cy="455.49" r="3.30" fill="url(#rLt)"/><circle cx="387.36" cy="461.65" r="3.30" fill="url(#rLt)"/><circle cx="390.34" cy="467.68" r="3.30" fill="url(#rLt)"/><circle cx="393.70" cy="473.49" r="3.30" fill="url(#rLt)"/><circle cx="397.58" cy="478.98" r="3.30" fill="url(#rLt)"/><circle cx="401.23" cy="484.64" r="3.30" fill="url(#rLt)"/><circle cx="405.32" cy="489.97" r="3.30" fill="url(#rLt)"/><circle cx="409.42" cy="495.28" r="3.30" fill="url(#rLt)"/><circle cx="413.10" cy="500.92" r="3.30" fill="url(#rLt)"/><circle cx="417.61" cy="505.90" r="3.30" fill="url(#rLt)"/><circle cx="422.66" cy="510.29" r="3.30" fill="url(#rLt)"/><circle cx="428.27" cy="513.99" r="3.30" fill="url(#rLt)"/><circle cx="434.22" cy="517.14" r="3.30" fill="url(#rLt)"/><circle cx="440.21" cy="520.20" r="3.30" fill="url(#rLt)"/><circle cx="446.30" cy="523.06" r="3.30" fill="url(#rLt)"/><circle cx="452.50" cy="525.67" r="3.30" fill="url(#rLt)"/><circle cx="458.62" cy="528.46" r="3.30" fill="url(#rLt)"/><circle cx="464.91" cy="530.84" r="3.30" fill="url(#rLt)"/><circle cx="471.29" cy="532.95" r="3.30" fill="url(#rLt)"/><circle cx="477.70" cy="535.02" r="3.30" fill="url(#rLt)"/><circle cx="484.24" cy="536.58" r="3.30" fill="url(#rLt)"/><circle cx="490.86" cy="537.73" r="3.30" fill="url(#rLt)"/><circle cx="497.55" cy="537.98" r="3.30" fill="url(#rLt)"/><circle cx="504.27" cy="537.57" r="3.30" fill="url(#rLt)"/><circle cx="510.92" cy="536.58" r="3.30" fill="url(#rLt)"/><circle cx="517.56" cy="535.50" r="3.30" fill="url(#rLt)"/><circle cx="524.22" cy="534.55" r="3.30" fill="url(#rLt)"/><circle cx="530.86" cy="533.46" r="3.30" fill="url(#rLt)"/><circle cx="537.46" cy="532.15" r="3.30" fill="url(#rLt)"/><circle cx="543.92" cy="530.28" r="3.30" fill="url(#rLt)"/><circle cx="549.96" cy="527.42" r="3.30" fill="url(#rLt)"/><circle cx="555.69" cy="523.90" r="3.30" fill="url(#rLt)"/><circle cx="561.29" cy="520.16" r="3.30" fill="url(#rLt)"/><circle cx="566.16" cy="515.53" r="3.30" fill="url(#rLt)"/><circle cx="571.00" cy="510.86" r="3.30" fill="url(#rLt)"/><circle cx="575.28" cy="505.72" r="3.30" fill="url(#rLt)"/><circle cx="578.88" cy="500.03" r="3.30" fill="url(#rLt)"/><circle cx="582.16" cy="494.16" r="3.30" fill="url(#rLt)"/><circle cx="585.06" cy="488.09" r="3.30" fill="url(#rLt)"/><circle cx="587.22" cy="481.73" r="3.30" fill="url(#rLt)"/><circle cx="589.08" cy="475.27" r="3.30" fill="url(#rLt)"/><circle cx="590.87" cy="468.79" r="3.30" fill="url(#rLt)"/><circle cx="591.80" cy="462.12" r="3.30" fill="url(#rLt)"/><circle cx="592.50" cy="455.43" r="3.30" fill="url(#rLt)"/><circle cx="593.03" cy="448.73" r="3.30" fill="url(#rLt)"/><circle cx="593.17" cy="442.00" r="3.30" fill="url(#rLt)"/><circle cx="379.66" cy="441.20" r="3.35" fill="url(#rLt)"/><circle cx="380.13" cy="447.90" r="3.35" fill="url(#rLt)"/><circle cx="381.33" cy="454.49" r="3.35" fill="url(#rLt)"/><circle cx="383.45" cy="460.84" r="3.35" fill="url(#rLt)"/><circle cx="386.22" cy="466.98" r="3.35" fill="url(#rLt)"/><circle cx="389.28" cy="472.96" r="3.35" fill="url(#rLt)"/><circle cx="392.80" cy="478.68" r="3.35" fill="url(#rLt)"/><circle cx="396.54" cy="484.28" r="3.35" fill="url(#rLt)"/><circle cx="400.36" cy="489.81" r="3.35" fill="url(#rLt)"/><circle cx="404.43" cy="495.15" r="3.35" fill="url(#rLt)"/><circle cx="408.33" cy="500.62" r="3.35" fill="url(#rLt)"/><circle cx="412.37" cy="505.98" r="3.35" fill="url(#rLt)"/><circle cx="417.05" cy="510.77" r="3.35" fill="url(#rLt)"/><circle cx="422.31" cy="514.91" r="3.35" fill="url(#rLt)"/><circle cx="428.08" cy="518.35" r="3.35" fill="url(#rLt)"/><circle cx="434.07" cy="521.44" r="3.35" fill="url(#rLt)"/><circle cx="440.11" cy="524.40" r="3.35" fill="url(#rLt)"/><circle cx="446.26" cy="527.14" r="3.35" fill="url(#rLt)"/><circle cx="452.45" cy="529.77" r="3.35" fill="url(#rLt)"/><circle cx="458.67" cy="532.33" r="3.35" fill="url(#rLt)"/><circle cx="465.02" cy="534.56" r="3.35" fill="url(#rLt)"/><circle cx="471.44" cy="536.57" r="3.35" fill="url(#rLt)"/><circle cx="477.92" cy="538.37" r="3.35" fill="url(#rLt)"/><circle cx="484.51" cy="539.73" r="3.35" fill="url(#rLt)"/><circle cx="491.17" cy="540.47" r="3.35" fill="url(#rLt)"/><circle cx="497.87" cy="540.35" r="3.35" fill="url(#rLt)"/><circle cx="504.54" cy="539.53" r="3.35" fill="url(#rLt)"/><circle cx="511.18" cy="538.39" r="3.35" fill="url(#rLt)"/><circle cx="517.79" cy="537.12" r="3.35" fill="url(#rLt)"/><circle cx="524.39" cy="535.79" r="3.35" fill="url(#rLt)"/><circle cx="530.94" cy="534.29" r="3.35" fill="url(#rLt)"/><circle cx="537.42" cy="532.46" r="3.35" fill="url(#rLt)"/><circle cx="543.73" cy="530.18" r="3.35" fill="url(#rLt)"/><circle cx="549.63" cy="527.04" r="3.35" fill="url(#rLt)"/><circle cx="555.19" cy="523.24" r="3.35" fill="url(#rLt)"/><circle cx="560.48" cy="519.10" r="3.35" fill="url(#rLt)"/><circle cx="565.41" cy="514.54" r="3.35" fill="url(#rLt)"/><circle cx="570.19" cy="509.79" r="3.35" fill="url(#rLt)"/><circle cx="574.36" cy="504.56" r="3.35" fill="url(#rLt)"/><circle cx="577.86" cy="498.82" r="3.35" fill="url(#rLt)"/><circle cx="581.11" cy="492.93" r="3.35" fill="url(#rLt)"/><circle cx="583.90" cy="486.82" r="3.35" fill="url(#rLt)"/><circle cx="586.05" cy="480.46" r="3.35" fill="url(#rLt)"/><circle cx="587.92" cy="473.99" r="3.35" fill="url(#rLt)"/><circle cx="589.42" cy="467.45" r="3.35" fill="url(#rLt)"/><circle cx="590.33" cy="460.79" r="3.35" fill="url(#rLt)"/><circle cx="590.97" cy="454.09" r="3.35" fill="url(#rLt)"/><circle cx="591.29" cy="447.37" r="3.35" fill="url(#rLt)"/>
<circle cx="386.00" cy="452.00" r="2.40" fill="url(#rN)"/>
<circle cx="396.00" cy="449.00" r="2.40" fill="url(#rN)"/>
<circle cx="385.50" cy="459.00" r="2.40" fill="url(#rN)"/>
<circle cx="394.00" cy="458.00" r="2.40" fill="url(#rN)"/>
<circle cx="391.40" cy="454.30" r="4.00" fill="url(#rCo)"/>
<circle cx="389.20" cy="460.50" r="4.00" fill="url(#rCo)"/>
<circle cx="405.00" cy="493.00" r="2.40" fill="url(#rN)"/>
<circle cx="417.00" cy="492.00" r="2.40" fill="url(#rN)"/>
<circle cx="406.00" cy="500.00" r="2.40" fill="url(#rN)"/>
<circle cx="418.00" cy="500.00" r="2.40" fill="url(#rN)"/>
<circle cx="411.70" cy="496.10" r="4.00" fill="url(#rCo)"/>
<circle cx="428.00" cy="506.00" r="2.40" fill="url(#rN)"/>
<circle cx="441.00" cy="505.00" r="2.40" fill="url(#rN)"/>
<circle cx="429.00" cy="516.00" r="2.40" fill="url(#rN)"/>
<circle cx="442.00" cy="514.00" r="2.40" fill="url(#rN)"/>
<circle cx="435.40" cy="510.30" r="4.00" fill="url(#rCo)"/>
<circle cx="430.90" cy="514.60" r="4.00" fill="url(#rCo)"/>
<circle cx="458.00" cy="524.00" r="2.40" fill="url(#rN)"/>
<circle cx="471.00" cy="524.00" r="2.40" fill="url(#rN)"/>
<circle cx="459.00" cy="530.00" r="2.40" fill="url(#rN)"/>
<circle cx="472.00" cy="530.00" r="2.40" fill="url(#rN)"/>
<circle cx="464.70" cy="527.60" r="4.00" fill="url(#rCo)"/>
<circle cx="560.30" cy="510.30" r="3.80" fill="url(#rCo)"/>
<circle cx="544.30" cy="521.40" r="3.80" fill="url(#rCo)"/>
<circle cx="579.00" cy="484.60" r="3.80" fill="url(#rCo)"/>
<path d="M438.15,503.58 A20.7,20.7 0 1 1 472.14,527.11 Z" fill="#efd0ee" opacity="0.88"/>
<path d="M523.34,524.1 A22.3,22.3 0 0 1 563.81,505.37 Z" fill="#d5e8ca" opacity="0.9"/>
<circle cx="377.50" cy="440.00" r="4.3" fill="url(#rLf)" stroke="#9a938b" stroke-width="0.45"/><circle cx="377.57" cy="447.19" r="4.3" fill="url(#rLf)" stroke="#9a938b" stroke-width="0.45"/><circle cx="378.37" cy="454.31" r="4.3" fill="url(#rLf)" stroke="#9a938b" stroke-width="0.45"/><circle cx="380.13" cy="461.24" r="4.3" fill="url(#rLf)" stroke="#9a938b" stroke-width="0.45"/><circle cx="382.91" cy="467.87" r="4.3" fill="url(#rLf)" stroke="#9a938b" stroke-width="0.45"/><circle cx="385.97" cy="474.38" r="4.3" fill="url(#rLf)" stroke="#9a938b" stroke-width="0.45"/><circle cx="389.60" cy="480.56" r="4.3" fill="url(#rLf)" stroke="#9a938b" stroke-width="0.45"/><circle cx="393.59" cy="486.54" r="4.3" fill="url(#rLf)" stroke="#9a938b" stroke-width="0.45"/><circle cx="397.42" cy="492.62" r="4.3" fill="url(#rLf)" stroke="#9a938b" stroke-width="0.45"/><circle cx="402.02" cy="498.15" r="4.3" fill="url(#rLf)" stroke="#9a938b" stroke-width="0.45"/><circle cx="406.03" cy="504.11" r="4.3" fill="url(#rLf)" stroke="#9a938b" stroke-width="0.45"/><circle cx="410.36" cy="509.81" r="4.3" fill="url(#rLf)" stroke="#9a938b" stroke-width="0.45"/><circle cx="415.31" cy="515.00" r="4.3" fill="url(#rLf)" stroke="#9a938b" stroke-width="0.45"/><circle cx="421.21" cy="519.12" r="4.3" fill="url(#rLf)" stroke="#9a938b" stroke-width="0.45"/><circle cx="427.54" cy="522.51" r="4.3" fill="url(#rLf)" stroke="#9a938b" stroke-width="0.45"/><circle cx="433.96" cy="525.75" r="4.3" fill="url(#rLf)" stroke="#9a938b" stroke-width="0.45"/><circle cx="440.45" cy="528.83" r="4.3" fill="url(#rLf)" stroke="#9a938b" stroke-width="0.45"/><circle cx="447.10" cy="531.55" r="4.3" fill="url(#rLf)" stroke="#9a938b" stroke-width="0.45"/><circle cx="453.73" cy="534.35" r="4.3" fill="url(#rLf)" stroke="#9a938b" stroke-width="0.45"/><circle cx="460.48" cy="536.79" r="4.3" fill="url(#rLf)" stroke="#9a938b" stroke-width="0.45"/><circle cx="467.36" cy="538.88" r="4.3" fill="url(#rLf)" stroke="#9a938b" stroke-width="0.45"/><circle cx="474.25" cy="540.92" r="4.3" fill="url(#rLf)" stroke="#9a938b" stroke-width="0.45"/><circle cx="481.28" cy="542.42" r="4.3" fill="url(#rLf)" stroke="#9a938b" stroke-width="0.45"/><circle cx="488.41" cy="543.30" r="4.3" fill="url(#rLf)" stroke="#9a938b" stroke-width="0.45"/><circle cx="495.56" cy="542.92" r="4.3" fill="url(#rLf)" stroke="#9a938b" stroke-width="0.45"/><circle cx="502.67" cy="541.95" r="4.3" fill="url(#rLf)" stroke="#9a938b" stroke-width="0.45"/><circle cx="509.71" cy="540.48" r="4.3" fill="url(#rLf)" stroke="#9a938b" stroke-width="0.45"/><circle cx="516.72" cy="538.88" r="4.3" fill="url(#rLf)" stroke="#9a938b" stroke-width="0.45"/><circle cx="523.70" cy="537.17" r="4.3" fill="url(#rLf)" stroke="#9a938b" stroke-width="0.45"/><circle cx="530.59" cy="535.13" r="4.3" fill="url(#rLf)" stroke="#9a938b" stroke-width="0.45"/><circle cx="537.43" cy="532.89" r="4.3" fill="url(#rLf)" stroke="#9a938b" stroke-width="0.45"/><circle cx="544.05" cy="530.10" r="4.3" fill="url(#rLf)" stroke="#9a938b" stroke-width="0.45"/><circle cx="549.99" cy="526.09" r="4.3" fill="url(#rLf)" stroke="#9a938b" stroke-width="0.45"/><circle cx="555.73" cy="521.76" r="4.3" fill="url(#rLf)" stroke="#9a938b" stroke-width="0.45"/><circle cx="561.15" cy="517.05" r="4.3" fill="url(#rLf)" stroke="#9a938b" stroke-width="0.45"/><circle cx="566.23" cy="511.97" r="4.3" fill="url(#rLf)" stroke="#9a938b" stroke-width="0.45"/><circle cx="571.31" cy="506.89" r="4.3" fill="url(#rLf)" stroke="#9a938b" stroke-width="0.45"/><circle cx="575.09" cy="500.77" r="4.3" fill="url(#rLf)" stroke="#9a938b" stroke-width="0.45"/><circle cx="578.70" cy="494.56" r="4.3" fill="url(#rLf)" stroke="#9a938b" stroke-width="0.45"/><circle cx="581.92" cy="488.13" r="4.3" fill="url(#rLf)" stroke="#9a938b" stroke-width="0.45"/><circle cx="584.27" cy="481.36" r="4.3" fill="url(#rLf)" stroke="#9a938b" stroke-width="0.45"/><circle cx="586.25" cy="474.45" r="4.3" fill="url(#rLf)" stroke="#9a938b" stroke-width="0.45"/><circle cx="587.94" cy="467.48" r="4.3" fill="url(#rLf)" stroke="#9a938b" stroke-width="0.45"/><circle cx="588.85" cy="460.35" r="4.3" fill="url(#rLf)" stroke="#9a938b" stroke-width="0.45"/><circle cx="589.41" cy="453.19" r="4.3" fill="url(#rLf)" stroke="#9a938b" stroke-width="0.45"/><circle cx="589.50" cy="446.00" r="4.3" fill="url(#rLf)" stroke="#9a938b" stroke-width="0.45"/>
<circle cx="379.60" cy="460.30" r="3.70" fill="url(#rN)"/>
<circle cx="419.20" cy="519.30" r="3.70" fill="url(#rN)"/>
<circle cx="576.50" cy="497.00" r="3.70" fill="url(#rN)"/>
<circle cx="489.20" cy="543.70" r="3.70" fill="url(#rN)"/>
<text transform="translate(446.5,500) rotate(33)" font-size="9.6" fill="#1a1a1a">PMS<tspan dy="-3" font-size="6.5">*</tspan></text>
<text transform="translate(531.5,516.5) rotate(-36)" font-size="9.6" fill="#1a1a1a">4-CP</text>
<path d="M528,528.6 L505,526.3 L495,524.6 L474,521.6" fill="none" stroke="#7a7a7a" stroke-width="1.8"/>
<polygon points="467.50,520.80 474.33,518.40 473.57,524.75" fill="#7a7a7a"/>
<circle cx="498.9" cy="515.4" r="7.2" fill="#fff" stroke="#9fd3f2" stroke-width="1.1"/>
<text x="494.6" y="519.1" font-size="10.5" font-weight="bold" fill="#111">e</text><text x="500.9" y="514.1" font-size="7" font-weight="bold" fill="#111">-</text>
<text x="497.3" y="539.7" font-size="10" text-anchor="middle" fill="#1a1a1a">ETP</text>
<text x="500.0" y="561.9" font-size="9.9" text-anchor="middle" fill="#1a1a1a">CoNC-MSi (nanoconfined)</text>
<circle cx="589.10" cy="521.40" r="6.50" fill="url(#rCo)"/>
<text x="602.6" y="524.9" font-size="10" fill="#1a1a1a">Co</text>
<circle cx="589.50" cy="541.00" r="5.30" fill="url(#rN)"/>
<text x="605.5" y="544.2" font-size="10" fill="#1a1a1a">N</text>
<circle cx="589.80" cy="559.40" r="5.00" fill="url(#rL)"/>
<text x="605.5" y="563.4" font-size="10" fill="#1a1a1a">C</text>
<circle cx="632.00" cy="512.80" r="6.00" fill="url(#rCl)"/>
<text x="646.1" y="516.1" font-size="10" fill="#1a1a1a">Cl</text>
<circle cx="632.00" cy="532.10" r="5.50" fill="url(#rS)"/>
<text x="648.9" y="535.7" font-size="10" fill="#1a1a1a">S</text>
<circle cx="632.00" cy="551.40" r="5.00" fill="url(#rO)"/>
<text x="648.9" y="554.6" font-size="10" fill="#1a1a1a">O</text>
<circle cx="632.00" cy="569.90" r="4.50" fill="url(#rH)"/>
<text x="648.9" y="574.2" font-size="10" fill="#1a1a1a">H</text>
</svg></body></html>
